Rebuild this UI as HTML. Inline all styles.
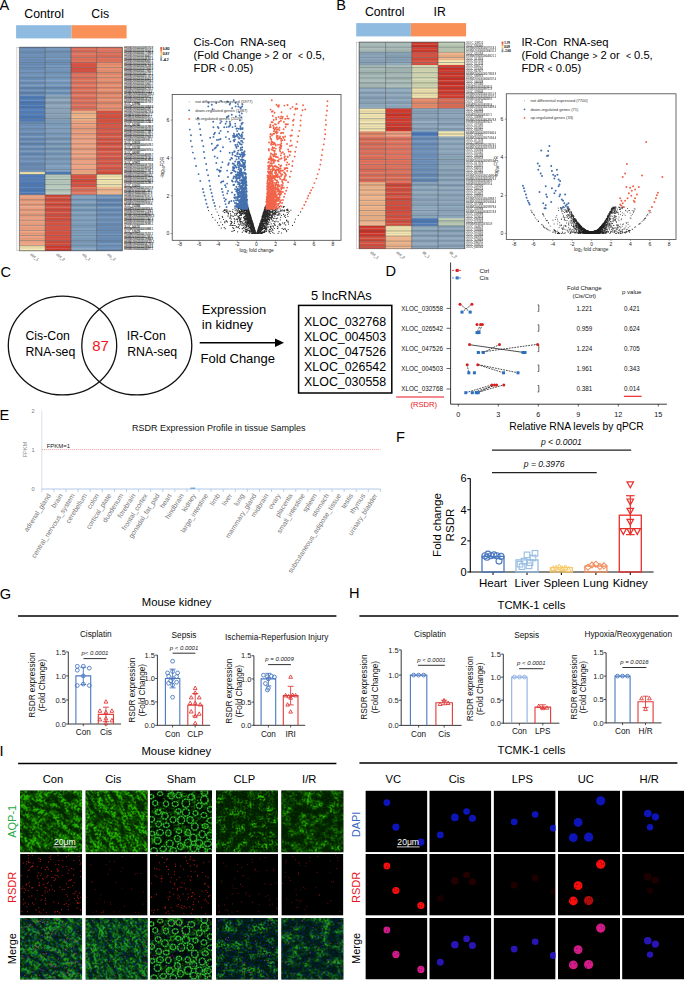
<!DOCTYPE html>
<html><head><meta charset="utf-8"><style>
html,body{margin:0;padding:0;background:#fff;}
svg{display:block;font-family:"Liberation Sans", sans-serif;}
</style></head><body>
<svg width="685" height="981" viewBox="0 0 685 981">
<rect width="685" height="981" fill="#fff"/>
<defs><clipPath id="cp1"><rect x="20.1" y="790.6" width="62.0" height="61.6"/></clipPath>
<filter id="gf0_0" x="0" y="0" width="100%" height="100%" color-interpolation-filters="sRGB">
<feTurbulence type="fractalNoise" baseFrequency="0.5" numOctaves="2" seed="3" result="hf"/>
<feTurbulence type="fractalNoise" baseFrequency="0.09 0.2" numOctaves="3" seed="20" result="lf"/>
<feColorMatrix in="lf" type="matrix" values="0 0 0 0 0  2.4 0 0 0 -0.72  0 0 0 0 0  0 0 0 0 1" result="lfg"/>
<feColorMatrix in="hf" type="matrix" values="0 0 0 0 0  3.5 0 0 0 -1.2  0 0 0 0 0  0 0 0 0 1" result="hfg"/>
<feComposite in="lfg" in2="hfg" operator="arithmetic" k1="1.1" k2="0.15" k3="0.15" k4="0" result="c"/>
<feComponentTransfer in="c" result="g0"><feFuncR type="linear" slope="0" intercept="0"/><feFuncG type="gamma" amplitude="0.6" exponent="1.3" offset="0.13"/><feFuncB type="linear" slope="0" intercept="0.0"/></feComponentTransfer>
<feColorMatrix in="g0" type="matrix" values="0 0.22 0 0 -0.02  0 1 0 0 0  0 0 0 0 0  0 0 0 0 1" result="g"/>


</filter>
<clipPath id="cp2"><rect x="20.1" y="917.9" width="62.0" height="61.6"/></clipPath>
<filter id="gf0_2" x="0" y="0" width="100%" height="100%" color-interpolation-filters="sRGB">
<feTurbulence type="fractalNoise" baseFrequency="0.5" numOctaves="2" seed="3" result="hf"/>
<feTurbulence type="fractalNoise" baseFrequency="0.09 0.2" numOctaves="3" seed="20" result="lf"/>
<feColorMatrix in="lf" type="matrix" values="0 0 0 0 0  2.4 0 0 0 -0.72  0 0 0 0 0  0 0 0 0 1" result="lfg"/>
<feColorMatrix in="hf" type="matrix" values="0 0 0 0 0  3.5 0 0 0 -1.2  0 0 0 0 0  0 0 0 0 1" result="hfg"/>
<feComposite in="lfg" in2="hfg" operator="arithmetic" k1="1.1" k2="0.15" k3="0.15" k4="0" result="c"/>
<feComponentTransfer in="c" result="g0"><feFuncR type="linear" slope="0" intercept="0"/><feFuncG type="gamma" amplitude="0.528" exponent="1.3" offset="0.10400000000000001"/><feFuncB type="linear" slope="0" intercept="0.0"/></feComponentTransfer>
<feColorMatrix in="g0" type="matrix" values="0 0.22 0 0 -0.02  0 1 0 0 0  0 0 0 0 0  0 0 0 0 1" result="g"/>
<feTurbulence type="fractalNoise" baseFrequency="0.45" numOctaves="2" seed="8" result="bn"/>
<feColorMatrix in="bn" type="matrix" values="0 0 0 0 0  0 0 0 0 0  1.02 0 0 0 -0.39  0 0 0 0 1" result="bb"/>
<feComposite in="g" in2="bb" operator="arithmetic" k2="1" k3="1"/>
</filter>
<clipPath id="cp3"><rect x="20.1" y="854.0" width="62.0" height="61.6"/></clipPath>
<clipPath id="cp4"><rect x="85.6" y="790.6" width="62.0" height="61.6"/></clipPath>
<filter id="gf1_0" x="0" y="0" width="100%" height="100%" color-interpolation-filters="sRGB">
<feTurbulence type="fractalNoise" baseFrequency="0.5" numOctaves="2" seed="11" result="hf"/>
<feTurbulence type="fractalNoise" baseFrequency="0.09 0.22" numOctaves="3" seed="28" result="lf"/>
<feColorMatrix in="lf" type="matrix" values="0 0 0 0 0  2.4 0 0 0 -0.72  0 0 0 0 0  0 0 0 0 1" result="lfg"/>
<feColorMatrix in="hf" type="matrix" values="0 0 0 0 0  3.5 0 0 0 -1.2  0 0 0 0 0  0 0 0 0 1" result="hfg"/>
<feComposite in="lfg" in2="hfg" operator="arithmetic" k1="1.1" k2="0.15" k3="0.15" k4="0" result="c"/>
<feComponentTransfer in="c" result="g0"><feFuncR type="linear" slope="0" intercept="0"/><feFuncG type="gamma" amplitude="0.62" exponent="1.3" offset="0.13"/><feFuncB type="linear" slope="0" intercept="0.0"/></feComponentTransfer>
<feColorMatrix in="g0" type="matrix" values="0 0.22 0 0 -0.02  0 1 0 0 0  0 0 0 0 0  0 0 0 0 1" result="g"/>


</filter>
<clipPath id="cp5"><rect x="85.6" y="917.9" width="62.0" height="61.6"/></clipPath>
<filter id="gf1_2" x="0" y="0" width="100%" height="100%" color-interpolation-filters="sRGB">
<feTurbulence type="fractalNoise" baseFrequency="0.5" numOctaves="2" seed="11" result="hf"/>
<feTurbulence type="fractalNoise" baseFrequency="0.09 0.22" numOctaves="3" seed="28" result="lf"/>
<feColorMatrix in="lf" type="matrix" values="0 0 0 0 0  2.4 0 0 0 -0.72  0 0 0 0 0  0 0 0 0 1" result="lfg"/>
<feColorMatrix in="hf" type="matrix" values="0 0 0 0 0  3.5 0 0 0 -1.2  0 0 0 0 0  0 0 0 0 1" result="hfg"/>
<feComposite in="lfg" in2="hfg" operator="arithmetic" k1="1.1" k2="0.15" k3="0.15" k4="0" result="c"/>
<feComponentTransfer in="c" result="g0"><feFuncR type="linear" slope="0" intercept="0"/><feFuncG type="gamma" amplitude="0.5456" exponent="1.3" offset="0.10400000000000001"/><feFuncB type="linear" slope="0" intercept="0.0"/></feComponentTransfer>
<feColorMatrix in="g0" type="matrix" values="0 0.22 0 0 -0.02  0 1 0 0 0  0 0 0 0 0  0 0 0 0 1" result="g"/>
<feTurbulence type="fractalNoise" baseFrequency="0.45" numOctaves="2" seed="16" result="bn"/>
<feColorMatrix in="bn" type="matrix" values="0 0 0 0 0  0 0 0 0 0  0.90 0 0 0 -0.34  0 0 0 0 1" result="bb"/>
<feComposite in="g" in2="bb" operator="arithmetic" k2="1" k3="1"/>
</filter>
<clipPath id="cp6"><rect x="85.6" y="854.0" width="62.0" height="61.6"/></clipPath>
<clipPath id="cp7"><rect x="150.0" y="790.6" width="62.0" height="61.6"/></clipPath>
<filter id="gf2_0" x="0" y="0" width="100%" height="100%" color-interpolation-filters="sRGB">
<feTurbulence type="fractalNoise" baseFrequency="0.5" numOctaves="2" seed="40" result="hf"/>
<feTurbulence type="fractalNoise" baseFrequency="0.12 0.12" numOctaves="3" seed="57" result="lf"/>
<feColorMatrix in="lf" type="matrix" values="0 0 0 0 0  2.2 0 0 0 -0.85  0 0 0 0 0  0 0 0 0 1" result="lfg"/>
<feColorMatrix in="hf" type="matrix" values="0 0 0 0 0  3.5 0 0 0 -1.2  0 0 0 0 0  0 0 0 0 1" result="hfg"/>
<feComposite in="lfg" in2="hfg" operator="arithmetic" k1="1.1" k2="0.15" k3="0.15" k4="0" result="c"/>
<feComponentTransfer in="c" result="g0"><feFuncR type="linear" slope="0" intercept="0"/><feFuncG type="gamma" amplitude="0.5" exponent="1.3" offset="0.03"/><feFuncB type="linear" slope="0" intercept="0.0"/></feComponentTransfer>
<feColorMatrix in="g0" type="matrix" values="0 0.22 0 0 -0.02  0 1 0 0 0  0 0 0 0 0  0 0 0 0 1" result="g"/>


</filter>
<clipPath id="cp8"><rect x="150.0" y="917.9" width="62.0" height="61.6"/></clipPath>
<filter id="gf2_2" x="0" y="0" width="100%" height="100%" color-interpolation-filters="sRGB">
<feTurbulence type="fractalNoise" baseFrequency="0.5" numOctaves="2" seed="42" result="hf"/>
<feTurbulence type="fractalNoise" baseFrequency="0.12 0.12" numOctaves="3" seed="59" result="lf"/>
<feColorMatrix in="lf" type="matrix" values="0 0 0 0 0  2.2 0 0 0 -0.85  0 0 0 0 0  0 0 0 0 1" result="lfg"/>
<feColorMatrix in="hf" type="matrix" values="0 0 0 0 0  3.5 0 0 0 -1.2  0 0 0 0 0  0 0 0 0 1" result="hfg"/>
<feComposite in="lfg" in2="hfg" operator="arithmetic" k1="1.1" k2="0.15" k3="0.15" k4="0" result="c"/>
<feComponentTransfer in="c" result="g0"><feFuncR type="linear" slope="0" intercept="0"/><feFuncG type="gamma" amplitude="0.5" exponent="1.3" offset="0.03"/><feFuncB type="linear" slope="0" intercept="0.0"/></feComponentTransfer>
<feColorMatrix in="g0" type="matrix" values="0 0.22 0 0 -0.02  0 1 0 0 0  0 0 0 0 0  0 0 0 0 1" result="g"/>
<feTurbulence type="fractalNoise" baseFrequency="0.3" numOctaves="2" seed="77" result="bn"/>
<feColorMatrix in="bn" type="matrix" values="0 0 0 0 0  0 0 0 0 0  0.45 0 0 0 -0.17  0 0 0 0 1" result="bb"/>
<feComposite in="g" in2="bb" operator="arithmetic" k2="1" k3="1"/>
</filter>
<clipPath id="cp9"><rect x="150.0" y="854.0" width="62.0" height="61.6"/></clipPath>
<clipPath id="cp10"><rect x="216.0" y="790.6" width="62.0" height="61.6"/></clipPath>
<filter id="gf3_0" x="0" y="0" width="100%" height="100%" color-interpolation-filters="sRGB">
<feTurbulence type="fractalNoise" baseFrequency="0.5" numOctaves="2" seed="23" result="hf"/>
<feTurbulence type="fractalNoise" baseFrequency="0.12 0.12" numOctaves="3" seed="40" result="lf"/>
<feColorMatrix in="lf" type="matrix" values="0 0 0 0 0  2.2 0 0 0 -0.9  0 0 0 0 0  0 0 0 0 1" result="lfg"/>
<feColorMatrix in="hf" type="matrix" values="0 0 0 0 0  3.5 0 0 0 -1.2  0 0 0 0 0  0 0 0 0 1" result="hfg"/>
<feComposite in="lfg" in2="hfg" operator="arithmetic" k1="1.1" k2="0.15" k3="0.15" k4="0" result="c"/>
<feComponentTransfer in="c" result="g0"><feFuncR type="linear" slope="0" intercept="0"/><feFuncG type="gamma" amplitude="0.6" exponent="1.3" offset="0.11"/><feFuncB type="linear" slope="0" intercept="0.0"/></feComponentTransfer>
<feColorMatrix in="g0" type="matrix" values="0 0.22 0 0 -0.02  0 1 0 0 0  0 0 0 0 0  0 0 0 0 1" result="g"/>


</filter>
<clipPath id="cp11"><rect x="216.0" y="917.9" width="62.0" height="61.6"/></clipPath>
<filter id="gf3_2" x="0" y="0" width="100%" height="100%" color-interpolation-filters="sRGB">
<feTurbulence type="fractalNoise" baseFrequency="0.5" numOctaves="2" seed="23" result="hf"/>
<feTurbulence type="fractalNoise" baseFrequency="0.12 0.12" numOctaves="3" seed="40" result="lf"/>
<feColorMatrix in="lf" type="matrix" values="0 0 0 0 0  2.2 0 0 0 -0.9  0 0 0 0 0  0 0 0 0 1" result="lfg"/>
<feColorMatrix in="hf" type="matrix" values="0 0 0 0 0  3.5 0 0 0 -1.2  0 0 0 0 0  0 0 0 0 1" result="hfg"/>
<feComposite in="lfg" in2="hfg" operator="arithmetic" k1="1.1" k2="0.15" k3="0.15" k4="0" result="c"/>
<feComponentTransfer in="c" result="g0"><feFuncR type="linear" slope="0" intercept="0"/><feFuncG type="gamma" amplitude="0.528" exponent="1.3" offset="0.08800000000000001"/><feFuncB type="linear" slope="0" intercept="0.0"/></feComponentTransfer>
<feColorMatrix in="g0" type="matrix" values="0 0.22 0 0 -0.02  0 1 0 0 0  0 0 0 0 0  0 0 0 0 1" result="g"/>
<feTurbulence type="fractalNoise" baseFrequency="0.45" numOctaves="2" seed="28" result="bn"/>
<feColorMatrix in="bn" type="matrix" values="0 0 0 0 0  0 0 0 0 0  0.90 0 0 0 -0.34  0 0 0 0 1" result="bb"/>
<feComposite in="g" in2="bb" operator="arithmetic" k2="1" k3="1"/>
</filter>
<clipPath id="cp12"><rect x="216.0" y="854.0" width="62.0" height="61.6"/></clipPath>
<clipPath id="cp13"><rect x="281.4" y="790.6" width="62.0" height="61.6"/></clipPath>
<filter id="gf4_0" x="0" y="0" width="100%" height="100%" color-interpolation-filters="sRGB">
<feTurbulence type="fractalNoise" baseFrequency="0.5" numOctaves="2" seed="31" result="hf"/>
<feTurbulence type="fractalNoise" baseFrequency="0.11 0.13" numOctaves="3" seed="48" result="lf"/>
<feColorMatrix in="lf" type="matrix" values="0 0 0 0 0  2.2 0 0 0 -0.85  0 0 0 0 0  0 0 0 0 1" result="lfg"/>
<feColorMatrix in="hf" type="matrix" values="0 0 0 0 0  3.5 0 0 0 -1.2  0 0 0 0 0  0 0 0 0 1" result="hfg"/>
<feComposite in="lfg" in2="hfg" operator="arithmetic" k1="1.1" k2="0.15" k3="0.15" k4="0" result="c"/>
<feComponentTransfer in="c" result="g0"><feFuncR type="linear" slope="0" intercept="0"/><feFuncG type="gamma" amplitude="0.6" exponent="1.3" offset="0.11"/><feFuncB type="linear" slope="0" intercept="0.0"/></feComponentTransfer>
<feColorMatrix in="g0" type="matrix" values="0 0.22 0 0 -0.02  0 1 0 0 0  0 0 0 0 0  0 0 0 0 1" result="g"/>


</filter>
<clipPath id="cp14"><rect x="281.4" y="917.9" width="62.0" height="61.6"/></clipPath>
<filter id="gf4_2" x="0" y="0" width="100%" height="100%" color-interpolation-filters="sRGB">
<feTurbulence type="fractalNoise" baseFrequency="0.5" numOctaves="2" seed="31" result="hf"/>
<feTurbulence type="fractalNoise" baseFrequency="0.11 0.13" numOctaves="3" seed="48" result="lf"/>
<feColorMatrix in="lf" type="matrix" values="0 0 0 0 0  2.2 0 0 0 -0.85  0 0 0 0 0  0 0 0 0 1" result="lfg"/>
<feColorMatrix in="hf" type="matrix" values="0 0 0 0 0  3.5 0 0 0 -1.2  0 0 0 0 0  0 0 0 0 1" result="hfg"/>
<feComposite in="lfg" in2="hfg" operator="arithmetic" k1="1.1" k2="0.15" k3="0.15" k4="0" result="c"/>
<feComponentTransfer in="c" result="g0"><feFuncR type="linear" slope="0" intercept="0"/><feFuncG type="gamma" amplitude="0.528" exponent="1.3" offset="0.08800000000000001"/><feFuncB type="linear" slope="0" intercept="0.0"/></feComponentTransfer>
<feColorMatrix in="g0" type="matrix" values="0 0.22 0 0 -0.02  0 1 0 0 0  0 0 0 0 0  0 0 0 0 1" result="g"/>
<feTurbulence type="fractalNoise" baseFrequency="0.45" numOctaves="2" seed="36" result="bn"/>
<feColorMatrix in="bn" type="matrix" values="0 0 0 0 0  0 0 0 0 0  0.90 0 0 0 -0.34  0 0 0 0 1" result="bb"/>
<feComposite in="g" in2="bb" operator="arithmetic" k2="1" k3="1"/>
</filter>
<clipPath id="cp15"><rect x="281.4" y="854.0" width="62.0" height="61.6"/></clipPath>
<clipPath id="cp16"><rect x="365.4" y="790.6" width="62.0" height="61.6"/></clipPath>
<clipPath id="cp17"><rect x="365.4" y="854.0" width="62.0" height="61.6"/></clipPath>
<clipPath id="cp18"><rect x="365.4" y="917.9" width="62.0" height="61.6"/></clipPath>
<clipPath id="cp19"><rect x="429.3" y="790.6" width="62.0" height="61.6"/></clipPath>
<clipPath id="cp20"><rect x="429.3" y="854.0" width="62.0" height="61.6"/></clipPath>
<clipPath id="cp21"><rect x="429.3" y="917.9" width="62.0" height="61.6"/></clipPath>
<clipPath id="cp22"><rect x="493.6" y="790.6" width="62.0" height="61.6"/></clipPath>
<clipPath id="cp23"><rect x="493.6" y="854.0" width="62.0" height="61.6"/></clipPath>
<clipPath id="cp24"><rect x="493.6" y="917.9" width="62.0" height="61.6"/></clipPath>
<clipPath id="cp25"><rect x="558.0" y="790.6" width="62.0" height="61.6"/></clipPath>
<clipPath id="cp26"><rect x="558.0" y="854.0" width="62.0" height="61.6"/></clipPath>
<clipPath id="cp27"><rect x="558.0" y="917.9" width="62.0" height="61.6"/></clipPath>
<clipPath id="cp28"><rect x="622.1" y="790.6" width="62.0" height="61.6"/></clipPath>
<clipPath id="cp29"><rect x="622.1" y="854.0" width="62.0" height="61.6"/></clipPath>
<clipPath id="cp30"><rect x="622.1" y="917.9" width="62.0" height="61.6"/></clipPath>
<filter id="soft" x="-50%" y="-50%" width="200%" height="200%"><feGaussianBlur stdDeviation="0.4"/></filter>
<filter id="soft2" x="-50%" y="-50%" width="200%" height="200%"><feGaussianBlur stdDeviation="0.75"/></filter></defs>
<text x="-0.40" y="10.00" font-size="14.6" text-anchor="start" fill="#000" >A</text>
<text x="336.30" y="10.00" font-size="14.6" text-anchor="start" fill="#000" >B</text>
<text x="0.60" y="276.90" font-size="14.6" text-anchor="start" fill="#000" >C</text>
<text x="385.40" y="276.40" font-size="14.6" text-anchor="start" fill="#000" >D</text>
<text x="-0.60" y="420.30" font-size="14.6" text-anchor="start" fill="#000" >E</text>
<text x="396.00" y="442.20" font-size="14.6" text-anchor="start" fill="#000" >F</text>
<text x="-0.30" y="598.50" font-size="14.6" text-anchor="start" fill="#000" >G</text>
<text x="348.90" y="598.30" font-size="14.6" text-anchor="start" fill="#000" >H</text>
<text x="-0.40" y="756.10" font-size="14.6" text-anchor="start" fill="#000" >I</text>
<text x="24.30" y="17.80" font-size="12.3" text-anchor="start" fill="#000" >Control</text>
<text x="91.30" y="17.80" font-size="12.3" text-anchor="start" fill="#000" >Cis</text>
<rect x="16.10" y="25.20" width="55.50" height="13.20" fill="#8fbbe0" />
<rect x="71.60" y="25.20" width="55.00" height="13.20" fill="#f99058" />
<rect x="19.40" y="47.20" width="25.85" height="2.60" fill="#678bb5" />
<rect x="45.20" y="47.20" width="25.85" height="2.60" fill="#7498be" />
<rect x="71.00" y="47.20" width="25.65" height="2.60" fill="#de6e58" />
<rect x="96.60" y="47.20" width="25.75" height="2.60" fill="#e1715b" />
<rect x="19.40" y="49.75" width="25.85" height="2.60" fill="#6d91bb" />
<rect x="45.20" y="49.75" width="25.85" height="2.60" fill="#6d91b7" />
<rect x="71.00" y="49.75" width="25.65" height="2.60" fill="#d96953" />
<rect x="96.60" y="49.75" width="25.75" height="2.60" fill="#e5755f" />
<rect x="19.40" y="52.29" width="25.85" height="2.60" fill="#688cb6" />
<rect x="45.20" y="52.29" width="25.85" height="2.60" fill="#6f93b9" />
<rect x="71.00" y="52.29" width="25.65" height="2.60" fill="#e77761" />
<rect x="96.60" y="52.29" width="25.75" height="2.60" fill="#e0705a" />
<rect x="19.40" y="54.84" width="25.85" height="2.60" fill="#7094be" />
<rect x="45.20" y="54.84" width="25.85" height="2.60" fill="#7397bd" />
<rect x="71.00" y="54.84" width="25.65" height="2.60" fill="#e2725c" />
<rect x="96.60" y="54.84" width="25.75" height="2.60" fill="#db6b55" />
<rect x="19.40" y="57.38" width="25.85" height="2.60" fill="#6d91bb" />
<rect x="45.20" y="57.38" width="25.85" height="2.60" fill="#789cc2" />
<rect x="71.00" y="57.38" width="25.65" height="2.60" fill="#e0705a" />
<rect x="96.60" y="57.38" width="25.75" height="2.60" fill="#e3735d" />
<rect x="19.40" y="59.93" width="25.85" height="2.60" fill="#6d91bb" />
<rect x="45.20" y="59.93" width="25.85" height="2.60" fill="#6d91b7" />
<rect x="71.00" y="59.93" width="25.65" height="2.60" fill="#e4745e" />
<rect x="96.60" y="59.93" width="25.75" height="2.60" fill="#e1715b" />
<rect x="19.40" y="62.47" width="25.85" height="2.60" fill="#688cb6" />
<rect x="45.20" y="62.47" width="25.85" height="2.60" fill="#6c90b6" />
<rect x="71.00" y="62.47" width="25.65" height="2.60" fill="#dd5544" />
<rect x="96.60" y="62.47" width="25.75" height="2.60" fill="#e98d6c" />
<rect x="19.40" y="65.02" width="25.85" height="2.60" fill="#6e92bc" />
<rect x="45.20" y="65.02" width="25.85" height="2.60" fill="#789cc2" />
<rect x="71.00" y="65.02" width="25.65" height="2.60" fill="#db5342" />
<rect x="96.60" y="65.02" width="25.75" height="2.60" fill="#ef9372" />
<rect x="19.40" y="67.56" width="25.85" height="2.60" fill="#6a8eb8" />
<rect x="45.20" y="67.56" width="25.85" height="2.60" fill="#779bc1" />
<rect x="71.00" y="67.56" width="25.65" height="2.60" fill="#d74f3e" />
<rect x="96.60" y="67.56" width="25.75" height="2.60" fill="#ef9372" />
<rect x="19.40" y="70.11" width="25.85" height="2.60" fill="#7094be" />
<rect x="45.20" y="70.11" width="25.85" height="2.60" fill="#6d91b7" />
<rect x="71.00" y="70.11" width="25.65" height="2.60" fill="#d34b3a" />
<rect x="96.60" y="70.11" width="25.75" height="2.60" fill="#e58968" />
<rect x="19.40" y="72.65" width="25.85" height="2.60" fill="#7296c0" />
<rect x="45.20" y="72.65" width="25.85" height="2.60" fill="#7296bc" />
<rect x="71.00" y="72.65" width="25.65" height="2.60" fill="#e2725c" />
<rect x="96.60" y="72.65" width="25.75" height="2.60" fill="#e68a69" />
<rect x="19.40" y="75.20" width="25.85" height="2.60" fill="#6b8fb9" />
<rect x="45.20" y="75.20" width="25.85" height="2.60" fill="#7195bb" />
<rect x="71.00" y="75.20" width="25.65" height="2.60" fill="#de6e58" />
<rect x="96.60" y="75.20" width="25.75" height="2.60" fill="#ea8e6d" />
<rect x="19.40" y="77.74" width="25.85" height="2.60" fill="#6c90ba" />
<rect x="45.20" y="77.74" width="25.85" height="2.60" fill="#799dc3" />
<rect x="71.00" y="77.74" width="25.65" height="2.60" fill="#e3735d" />
<rect x="96.60" y="77.74" width="25.75" height="2.60" fill="#ef9372" />
<rect x="19.40" y="80.29" width="25.85" height="2.60" fill="#7094be" />
<rect x="45.20" y="80.29" width="25.85" height="2.60" fill="#7a9ec4" />
<rect x="71.00" y="80.29" width="25.65" height="2.60" fill="#e2725c" />
<rect x="96.60" y="80.29" width="25.75" height="2.60" fill="#e48867" />
<rect x="19.40" y="82.83" width="25.85" height="2.60" fill="#7094be" />
<rect x="45.20" y="82.83" width="25.85" height="2.60" fill="#7a9ec4" />
<rect x="71.00" y="82.83" width="25.65" height="2.60" fill="#e67660" />
<rect x="96.60" y="82.83" width="25.75" height="2.60" fill="#ea8e6d" />
<rect x="19.40" y="85.38" width="25.85" height="2.60" fill="#6e92bc" />
<rect x="45.20" y="85.38" width="25.85" height="2.60" fill="#6f93b9" />
<rect x="71.00" y="85.38" width="25.65" height="2.60" fill="#e5755f" />
<rect x="96.60" y="85.38" width="25.75" height="2.60" fill="#ea8e6d" />
<rect x="19.40" y="87.92" width="25.85" height="2.60" fill="#688cb6" />
<rect x="45.20" y="87.92" width="25.85" height="2.60" fill="#6d91b7" />
<rect x="71.00" y="87.92" width="25.65" height="2.60" fill="#e5755f" />
<rect x="96.60" y="87.92" width="25.75" height="2.60" fill="#f09473" />
<rect x="19.40" y="90.47" width="25.85" height="2.60" fill="#6589b3" />
<rect x="45.20" y="90.47" width="25.85" height="2.60" fill="#779bc1" />
<rect x="71.00" y="90.47" width="25.65" height="2.60" fill="#df6f59" />
<rect x="96.60" y="90.47" width="25.75" height="2.60" fill="#e48867" />
<rect x="19.40" y="93.01" width="25.85" height="2.60" fill="#688cb6" />
<rect x="45.20" y="93.01" width="25.85" height="2.60" fill="#779bc1" />
<rect x="71.00" y="93.01" width="25.65" height="2.60" fill="#e5755f" />
<rect x="96.60" y="93.01" width="25.75" height="2.60" fill="#e38766" />
<rect x="19.40" y="95.56" width="25.85" height="2.60" fill="#517ebb" />
<rect x="45.20" y="95.56" width="25.85" height="2.60" fill="#86a0b5" />
<rect x="71.00" y="95.56" width="25.65" height="2.60" fill="#e3735d" />
<rect x="96.60" y="95.56" width="25.75" height="2.60" fill="#e78b6a" />
<rect x="19.40" y="98.10" width="25.85" height="2.60" fill="#5481be" />
<rect x="45.20" y="98.10" width="25.85" height="2.60" fill="#93adc2" />
<rect x="71.00" y="98.10" width="25.65" height="2.60" fill="#e0705a" />
<rect x="96.60" y="98.10" width="25.75" height="2.60" fill="#f09473" />
<rect x="19.40" y="100.65" width="25.85" height="2.60" fill="#4c79b6" />
<rect x="45.20" y="100.65" width="25.85" height="2.60" fill="#86a0b5" />
<rect x="71.00" y="100.65" width="25.65" height="2.60" fill="#e1715b" />
<rect x="96.60" y="100.65" width="25.75" height="2.60" fill="#e28665" />
<rect x="19.40" y="103.19" width="25.85" height="2.60" fill="#4b78b5" />
<rect x="45.20" y="103.19" width="25.85" height="2.60" fill="#8ba5ba" />
<rect x="71.00" y="103.19" width="25.65" height="2.60" fill="#e2725c" />
<rect x="96.60" y="103.19" width="25.75" height="2.60" fill="#e48867" />
<rect x="19.40" y="105.74" width="25.85" height="2.60" fill="#4976b3" />
<rect x="45.20" y="105.74" width="25.85" height="2.60" fill="#91abc0" />
<rect x="71.00" y="105.74" width="25.65" height="2.60" fill="#dd6d57" />
<rect x="96.60" y="105.74" width="25.75" height="2.60" fill="#ef9372" />
<rect x="19.40" y="108.28" width="25.85" height="2.60" fill="#5582bf" />
<rect x="45.20" y="108.28" width="25.85" height="2.60" fill="#8aa4b9" />
<rect x="71.00" y="108.28" width="25.65" height="2.60" fill="#df6f59" />
<rect x="96.60" y="108.28" width="25.75" height="2.60" fill="#e98d6c" />
<rect x="19.40" y="110.83" width="25.85" height="2.60" fill="#517ebb" />
<rect x="45.20" y="110.83" width="25.85" height="2.60" fill="#8da7bc" />
<rect x="71.00" y="110.83" width="25.65" height="2.60" fill="#f0b388" />
<rect x="96.60" y="110.83" width="25.75" height="2.60" fill="#da5241" />
<rect x="19.40" y="113.37" width="25.85" height="2.60" fill="#5582bf" />
<rect x="45.20" y="113.37" width="25.85" height="2.60" fill="#8ca6bb" />
<rect x="71.00" y="113.37" width="25.65" height="2.60" fill="#eeb186" />
<rect x="96.60" y="113.37" width="25.75" height="2.60" fill="#db5342" />
<rect x="19.40" y="115.92" width="25.85" height="2.60" fill="#4b78b5" />
<rect x="45.20" y="115.92" width="25.85" height="2.60" fill="#89a3b8" />
<rect x="71.00" y="115.92" width="25.65" height="2.60" fill="#f6b98e" />
<rect x="96.60" y="115.92" width="25.75" height="2.60" fill="#d8503f" />
<rect x="19.40" y="118.46" width="25.85" height="2.60" fill="#507dba" />
<rect x="45.20" y="118.46" width="25.85" height="2.60" fill="#859fb4" />
<rect x="71.00" y="118.46" width="25.65" height="2.60" fill="#eeb186" />
<rect x="96.60" y="118.46" width="25.75" height="2.60" fill="#d95140" />
<rect x="19.40" y="121.01" width="25.85" height="2.60" fill="#6488b2" />
<rect x="45.20" y="121.01" width="25.85" height="2.60" fill="#7f9fbf" />
<rect x="71.00" y="121.01" width="25.65" height="2.60" fill="#f0a281" />
<rect x="96.60" y="121.01" width="25.75" height="2.60" fill="#d65442" />
<rect x="19.40" y="123.55" width="25.85" height="2.60" fill="#6d91bb" />
<rect x="45.20" y="123.55" width="25.85" height="2.60" fill="#7d9dbd" />
<rect x="71.00" y="123.55" width="25.65" height="2.60" fill="#f1a382" />
<rect x="96.60" y="123.55" width="25.75" height="2.60" fill="#da5846" />
<rect x="19.40" y="126.10" width="25.85" height="2.60" fill="#6e92bc" />
<rect x="45.20" y="126.10" width="25.85" height="2.60" fill="#80a0c0" />
<rect x="71.00" y="126.10" width="25.65" height="2.60" fill="#e79978" />
<rect x="96.60" y="126.10" width="25.75" height="2.60" fill="#d65442" />
<rect x="19.40" y="128.64" width="25.85" height="2.60" fill="#6d91bb" />
<rect x="45.20" y="128.64" width="25.85" height="2.60" fill="#83a3c3" />
<rect x="71.00" y="128.64" width="25.65" height="2.60" fill="#eb9d7c" />
<rect x="96.60" y="128.64" width="25.75" height="2.60" fill="#db5947" />
<rect x="19.40" y="131.19" width="25.85" height="2.60" fill="#6c90ba" />
<rect x="45.20" y="131.19" width="25.85" height="2.60" fill="#7a9aba" />
<rect x="71.00" y="131.19" width="25.65" height="2.60" fill="#ec9e7d" />
<rect x="96.60" y="131.19" width="25.75" height="2.60" fill="#d95745" />
<rect x="19.40" y="133.73" width="25.85" height="2.60" fill="#698db7" />
<rect x="45.20" y="133.73" width="25.85" height="2.60" fill="#7e9ebe" />
<rect x="71.00" y="133.73" width="25.65" height="2.60" fill="#eb9d7c" />
<rect x="96.60" y="133.73" width="25.75" height="2.60" fill="#da5846" />
<rect x="19.40" y="136.28" width="25.85" height="2.60" fill="#6f93bd" />
<rect x="45.20" y="136.28" width="25.85" height="2.60" fill="#7696b6" />
<rect x="71.00" y="136.28" width="25.65" height="2.60" fill="#efa180" />
<rect x="96.60" y="136.28" width="25.75" height="2.60" fill="#df5d4b" />
<rect x="19.40" y="138.82" width="25.85" height="2.60" fill="#688cb6" />
<rect x="45.20" y="138.82" width="25.85" height="2.60" fill="#7999b9" />
<rect x="71.00" y="138.82" width="25.65" height="2.60" fill="#f2a483" />
<rect x="96.60" y="138.82" width="25.75" height="2.60" fill="#d85644" />
<rect x="19.40" y="141.37" width="25.85" height="2.60" fill="#678bb5" />
<rect x="45.20" y="141.37" width="25.85" height="2.60" fill="#7c9cbc" />
<rect x="71.00" y="141.37" width="25.65" height="2.60" fill="#f1a382" />
<rect x="96.60" y="141.37" width="25.75" height="2.60" fill="#d65442" />
<rect x="19.40" y="143.91" width="25.85" height="2.60" fill="#698db7" />
<rect x="45.20" y="143.91" width="25.85" height="2.60" fill="#7b9bbb" />
<rect x="71.00" y="143.91" width="25.65" height="2.60" fill="#f3a584" />
<rect x="96.60" y="143.91" width="25.75" height="2.60" fill="#db5947" />
<rect x="19.40" y="146.46" width="25.85" height="2.60" fill="#7094be" />
<rect x="45.20" y="146.46" width="25.85" height="2.60" fill="#7898b8" />
<rect x="71.00" y="146.46" width="25.65" height="2.60" fill="#ec9e7d" />
<rect x="96.60" y="146.46" width="25.75" height="2.60" fill="#de5c4a" />
<rect x="19.40" y="149.00" width="25.85" height="2.60" fill="#7094be" />
<rect x="45.20" y="149.00" width="25.85" height="2.60" fill="#7c9cbc" />
<rect x="71.00" y="149.00" width="25.65" height="2.60" fill="#ea9c7b" />
<rect x="96.60" y="149.00" width="25.75" height="2.60" fill="#d75543" />
<rect x="19.40" y="151.55" width="25.85" height="2.60" fill="#6b8fb9" />
<rect x="45.20" y="151.55" width="25.85" height="2.60" fill="#7999b9" />
<rect x="71.00" y="151.55" width="25.65" height="2.60" fill="#f2a483" />
<rect x="96.60" y="151.55" width="25.75" height="2.60" fill="#e15f4d" />
<rect x="19.40" y="154.09" width="25.85" height="2.60" fill="#678bb5" />
<rect x="45.20" y="154.09" width="25.85" height="2.60" fill="#7a9aba" />
<rect x="71.00" y="154.09" width="25.65" height="2.60" fill="#f2a483" />
<rect x="96.60" y="154.09" width="25.75" height="2.60" fill="#de5c4a" />
<rect x="19.40" y="156.64" width="25.85" height="2.60" fill="#6f93bd" />
<rect x="45.20" y="156.64" width="25.85" height="2.60" fill="#7b9bbb" />
<rect x="71.00" y="156.64" width="25.65" height="2.60" fill="#e99b7a" />
<rect x="96.60" y="156.64" width="25.75" height="2.60" fill="#d95745" />
<rect x="19.40" y="159.18" width="25.85" height="2.60" fill="#6f93bd" />
<rect x="45.20" y="159.18" width="25.85" height="2.60" fill="#7a9aba" />
<rect x="71.00" y="159.18" width="25.65" height="2.60" fill="#ec9e7d" />
<rect x="96.60" y="159.18" width="25.75" height="2.60" fill="#db5947" />
<rect x="19.40" y="161.73" width="25.85" height="2.60" fill="#6a8eb8" />
<rect x="45.20" y="161.73" width="25.85" height="2.60" fill="#7c9cbc" />
<rect x="71.00" y="161.73" width="25.65" height="2.60" fill="#f4a685" />
<rect x="96.60" y="161.73" width="25.75" height="2.60" fill="#d75543" />
<rect x="19.40" y="164.27" width="25.85" height="2.60" fill="#6488b2" />
<rect x="45.20" y="164.27" width="25.85" height="2.60" fill="#83a3c3" />
<rect x="71.00" y="164.27" width="25.65" height="2.60" fill="#f3a584" />
<rect x="96.60" y="164.27" width="25.75" height="2.60" fill="#e3614f" />
<rect x="19.40" y="166.82" width="25.85" height="2.60" fill="#6a8eb8" />
<rect x="45.20" y="166.82" width="25.85" height="2.60" fill="#83a3c3" />
<rect x="71.00" y="166.82" width="25.65" height="2.60" fill="#f4a685" />
<rect x="96.60" y="166.82" width="25.75" height="2.60" fill="#d85644" />
<rect x="19.40" y="169.36" width="25.85" height="2.60" fill="#6e92bc" />
<rect x="45.20" y="169.36" width="25.85" height="2.60" fill="#82a2c2" />
<rect x="71.00" y="169.36" width="25.65" height="2.60" fill="#f0a281" />
<rect x="96.60" y="169.36" width="25.75" height="2.60" fill="#dc5a48" />
<rect x="19.40" y="171.91" width="25.85" height="2.60" fill="#eee0aa" />
<rect x="45.20" y="171.91" width="25.85" height="2.60" fill="#4d7ab7" />
<rect x="71.00" y="171.91" width="25.65" height="2.60" fill="#ebae83" />
<rect x="96.60" y="171.91" width="25.75" height="2.60" fill="#d24a39" />
<rect x="19.40" y="174.45" width="25.85" height="2.60" fill="#507dba" />
<rect x="45.20" y="174.45" width="25.85" height="2.60" fill="#b4c7ba" />
<rect x="71.00" y="174.45" width="25.65" height="2.60" fill="#dc5443" />
<rect x="96.60" y="174.45" width="25.75" height="2.60" fill="#ebdda7" />
<rect x="19.40" y="177.00" width="25.85" height="2.60" fill="#5582bf" />
<rect x="45.20" y="177.00" width="25.85" height="2.60" fill="#bacdc0" />
<rect x="71.00" y="177.00" width="25.65" height="2.60" fill="#de5645" />
<rect x="96.60" y="177.00" width="25.75" height="2.60" fill="#f7e9b3" />
<rect x="19.40" y="179.54" width="25.85" height="2.60" fill="#5582bf" />
<rect x="45.20" y="179.54" width="25.85" height="2.60" fill="#b8cbbe" />
<rect x="71.00" y="179.54" width="25.65" height="2.60" fill="#d14938" />
<rect x="96.60" y="179.54" width="25.75" height="2.60" fill="#f4e6b0" />
<rect x="19.40" y="182.09" width="25.85" height="2.60" fill="#4a77b4" />
<rect x="45.20" y="182.09" width="25.85" height="2.60" fill="#b4c7ba" />
<rect x="71.00" y="182.09" width="25.65" height="2.60" fill="#da5241" />
<rect x="96.60" y="182.09" width="25.75" height="2.60" fill="#f1e3ad" />
<rect x="19.40" y="184.63" width="25.85" height="2.60" fill="#4e7bb8" />
<rect x="45.20" y="184.63" width="25.85" height="2.60" fill="#bdd0c3" />
<rect x="71.00" y="184.63" width="25.65" height="2.60" fill="#da5241" />
<rect x="96.60" y="184.63" width="25.75" height="2.60" fill="#efe1ab" />
<rect x="19.40" y="187.18" width="25.85" height="2.60" fill="#4c79b6" />
<rect x="45.20" y="187.18" width="25.85" height="2.60" fill="#bccfc2" />
<rect x="71.00" y="187.18" width="25.65" height="2.60" fill="#e0705a" />
<rect x="96.60" y="187.18" width="25.75" height="2.60" fill="#f3b68b" />
<rect x="19.40" y="189.72" width="25.85" height="2.60" fill="#4d7ab7" />
<rect x="45.20" y="189.72" width="25.85" height="2.60" fill="#b3c6b9" />
<rect x="71.00" y="189.72" width="25.65" height="2.60" fill="#e0705a" />
<rect x="96.60" y="189.72" width="25.75" height="2.60" fill="#f3b68b" />
<rect x="19.40" y="192.27" width="25.85" height="2.60" fill="#4a77b4" />
<rect x="45.20" y="192.27" width="25.85" height="2.60" fill="#bbcec1" />
<rect x="71.00" y="192.27" width="25.65" height="2.60" fill="#e67660" />
<rect x="96.60" y="192.27" width="25.75" height="2.60" fill="#f3b68b" />
<rect x="19.40" y="194.81" width="25.85" height="2.60" fill="#f3a584" />
<rect x="45.20" y="194.81" width="25.85" height="2.60" fill="#d14938" />
<rect x="71.00" y="194.81" width="25.65" height="2.60" fill="#81a2c0" />
<rect x="96.60" y="194.81" width="25.75" height="2.60" fill="#7094be" />
<rect x="19.40" y="197.36" width="25.85" height="2.60" fill="#e89a79" />
<rect x="45.20" y="197.36" width="25.85" height="2.60" fill="#d54d3c" />
<rect x="71.00" y="197.36" width="25.65" height="2.60" fill="#7c9dbb" />
<rect x="96.60" y="197.36" width="25.75" height="2.60" fill="#6b8fb9" />
<rect x="19.40" y="199.90" width="25.85" height="2.60" fill="#ed9f7e" />
<rect x="45.20" y="199.90" width="25.85" height="2.60" fill="#d8503f" />
<rect x="71.00" y="199.90" width="25.65" height="2.60" fill="#83a4c2" />
<rect x="96.60" y="199.90" width="25.75" height="2.60" fill="#6488b2" />
<rect x="19.40" y="202.45" width="25.85" height="2.60" fill="#e89a79" />
<rect x="45.20" y="202.45" width="25.85" height="2.60" fill="#d34b3a" />
<rect x="71.00" y="202.45" width="25.65" height="2.60" fill="#7a9bb9" />
<rect x="96.60" y="202.45" width="25.75" height="2.60" fill="#6589b3" />
<rect x="19.40" y="204.99" width="25.85" height="2.60" fill="#f5a786" />
<rect x="45.20" y="204.99" width="25.85" height="2.60" fill="#dd5544" />
<rect x="71.00" y="204.99" width="25.65" height="2.60" fill="#799ab8" />
<rect x="96.60" y="204.99" width="25.75" height="2.60" fill="#6b8fb9" />
<rect x="19.40" y="207.54" width="25.85" height="2.60" fill="#eb9d7c" />
<rect x="45.20" y="207.54" width="25.85" height="2.60" fill="#d54d3c" />
<rect x="71.00" y="207.54" width="25.65" height="2.60" fill="#7d9ebc" />
<rect x="96.60" y="207.54" width="25.75" height="2.60" fill="#6d91bb" />
<rect x="19.40" y="210.08" width="25.85" height="2.60" fill="#efa180" />
<rect x="45.20" y="210.08" width="25.85" height="2.60" fill="#d64e3d" />
<rect x="71.00" y="210.08" width="25.65" height="2.60" fill="#7b9cba" />
<rect x="96.60" y="210.08" width="25.75" height="2.60" fill="#698db7" />
<rect x="19.40" y="212.62" width="25.85" height="2.60" fill="#e99b7a" />
<rect x="45.20" y="212.62" width="25.85" height="2.60" fill="#d95140" />
<rect x="71.00" y="212.62" width="25.65" height="2.60" fill="#82a3c1" />
<rect x="96.60" y="212.62" width="25.75" height="2.60" fill="#698db7" />
<rect x="19.40" y="215.17" width="25.85" height="2.60" fill="#e89a79" />
<rect x="45.20" y="215.17" width="25.85" height="2.60" fill="#d34b3a" />
<rect x="71.00" y="215.17" width="25.65" height="2.60" fill="#7d9ebc" />
<rect x="96.60" y="215.17" width="25.75" height="2.60" fill="#6c90ba" />
<rect x="19.40" y="217.72" width="25.85" height="2.60" fill="#f2a483" />
<rect x="45.20" y="217.72" width="25.85" height="2.60" fill="#d64e3d" />
<rect x="71.00" y="217.72" width="25.65" height="2.60" fill="#83a4c2" />
<rect x="96.60" y="217.72" width="25.75" height="2.60" fill="#6d91bb" />
<rect x="19.40" y="220.26" width="25.85" height="2.60" fill="#ed9f7e" />
<rect x="45.20" y="220.26" width="25.85" height="2.60" fill="#d64e3d" />
<rect x="71.00" y="220.26" width="25.65" height="2.60" fill="#7fa0be" />
<rect x="96.60" y="220.26" width="25.75" height="2.60" fill="#6e92bc" />
<rect x="19.40" y="222.81" width="25.85" height="2.60" fill="#ed9f7e" />
<rect x="45.20" y="222.81" width="25.85" height="2.60" fill="#db5342" />
<rect x="71.00" y="222.81" width="25.65" height="2.60" fill="#7e9fbd" />
<rect x="96.60" y="222.81" width="25.75" height="2.60" fill="#678bb5" />
<rect x="19.40" y="225.35" width="25.85" height="2.60" fill="#efa180" />
<rect x="45.20" y="225.35" width="25.85" height="2.60" fill="#db5342" />
<rect x="71.00" y="225.35" width="25.65" height="2.60" fill="#799ab8" />
<rect x="96.60" y="225.35" width="25.75" height="2.60" fill="#6a8eb8" />
<rect x="19.40" y="227.90" width="25.85" height="2.60" fill="#ed9f7e" />
<rect x="45.20" y="227.90" width="25.85" height="2.60" fill="#dd5544" />
<rect x="71.00" y="227.90" width="25.65" height="2.60" fill="#85a6c4" />
<rect x="96.60" y="227.90" width="25.75" height="2.60" fill="#698db7" />
<rect x="19.40" y="230.44" width="25.85" height="2.60" fill="#f4a685" />
<rect x="45.20" y="230.44" width="25.85" height="2.60" fill="#dc5443" />
<rect x="71.00" y="230.44" width="25.65" height="2.60" fill="#7c9dbb" />
<rect x="96.60" y="230.44" width="25.75" height="2.60" fill="#6a8eb8" />
<rect x="19.40" y="232.99" width="25.85" height="2.60" fill="#e99b7a" />
<rect x="45.20" y="232.99" width="25.85" height="2.60" fill="#dc5443" />
<rect x="71.00" y="232.99" width="25.65" height="2.60" fill="#81a2c0" />
<rect x="96.60" y="232.99" width="25.75" height="2.60" fill="#7094be" />
<rect x="19.40" y="235.53" width="25.85" height="2.60" fill="#f2a483" />
<rect x="45.20" y="235.53" width="25.85" height="2.60" fill="#da5241" />
<rect x="71.00" y="235.53" width="25.65" height="2.60" fill="#82a3c1" />
<rect x="96.60" y="235.53" width="25.75" height="2.60" fill="#6c90ba" />
<rect x="19.40" y="238.08" width="25.85" height="2.60" fill="#e89a79" />
<rect x="45.20" y="238.08" width="25.85" height="2.60" fill="#d95140" />
<rect x="71.00" y="238.08" width="25.65" height="2.60" fill="#7899b7" />
<rect x="96.60" y="238.08" width="25.75" height="2.60" fill="#668ab4" />
<rect x="19.40" y="240.62" width="25.85" height="2.60" fill="#f2a483" />
<rect x="45.20" y="240.62" width="25.85" height="2.60" fill="#d24a39" />
<rect x="71.00" y="240.62" width="25.65" height="2.60" fill="#799ab8" />
<rect x="96.60" y="240.62" width="25.75" height="2.60" fill="#6589b3" />
<rect x="19.40" y="243.17" width="25.85" height="2.60" fill="#f3a584" />
<rect x="45.20" y="243.17" width="25.85" height="2.60" fill="#d44c3b" />
<rect x="71.00" y="243.17" width="25.65" height="2.60" fill="#7899b7" />
<rect x="96.60" y="243.17" width="25.75" height="2.60" fill="#7094be" />
<rect x="19.40" y="245.71" width="25.85" height="2.60" fill="#ecdea8" />
<rect x="45.20" y="245.71" width="25.85" height="2.60" fill="#d53b2e" />
<rect x="71.00" y="245.71" width="25.65" height="2.60" fill="#81a2c0" />
<rect x="96.60" y="245.71" width="25.75" height="2.60" fill="#7094be" />
<rect x="19.40" y="248.26" width="25.85" height="2.60" fill="#f7e9b3" />
<rect x="45.20" y="248.26" width="25.85" height="2.60" fill="#d1372a" />
<rect x="71.00" y="248.26" width="25.65" height="2.60" fill="#83a4c2" />
<rect x="96.60" y="248.26" width="25.75" height="2.60" fill="#6589b3" />
<path d="M19.4 47.20H122.3 M19.4 52.29H122.3 M19.4 57.38H122.3 M19.4 62.47H122.3 M19.4 67.56H122.3 M19.4 72.65H122.3 M19.4 77.74H122.3 M19.4 82.83H122.3 M19.4 87.92H122.3 M19.4 93.01H122.3 M19.4 98.10H122.3 M19.4 103.19H122.3 M19.4 108.28H122.3 M19.4 113.37H122.3 M19.4 118.46H122.3 M19.4 123.55H122.3 M19.4 128.64H122.3 M19.4 133.73H122.3 M19.4 138.82H122.3 M19.4 143.91H122.3 M19.4 149.00H122.3 M19.4 154.09H122.3 M19.4 159.18H122.3 M19.4 164.27H122.3 M19.4 169.36H122.3 M19.4 174.45H122.3 M19.4 179.54H122.3 M19.4 184.63H122.3 M19.4 189.72H122.3 M19.4 194.81H122.3 M19.4 199.90H122.3 M19.4 204.99H122.3 M19.4 210.08H122.3 M19.4 215.17H122.3 M19.4 220.26H122.3 M19.4 225.35H122.3 M19.4 230.44H122.3 M19.4 235.53H122.3 M19.4 240.62H122.3 M19.4 245.71H122.3 M19.4 250.80H122.3" stroke="#2a3a4a" stroke-opacity="0.6" stroke-width="0.6" fill="none"/>
<path d="M19.4 49.75H122.3 M19.4 54.84H122.3 M19.4 59.93H122.3 M19.4 65.02H122.3 M19.4 70.11H122.3 M19.4 75.20H122.3 M19.4 80.29H122.3 M19.4 85.38H122.3 M19.4 90.47H122.3 M19.4 95.56H122.3 M19.4 100.65H122.3 M19.4 105.74H122.3 M19.4 110.83H122.3 M19.4 115.92H122.3 M19.4 121.01H122.3 M19.4 126.10H122.3 M19.4 131.19H122.3 M19.4 136.28H122.3 M19.4 141.37H122.3 M19.4 146.46H122.3 M19.4 151.55H122.3 M19.4 156.64H122.3 M19.4 161.73H122.3 M19.4 166.82H122.3 M19.4 171.91H122.3 M19.4 177.00H122.3 M19.4 182.09H122.3 M19.4 187.18H122.3 M19.4 192.27H122.3 M19.4 197.36H122.3 M19.4 202.45H122.3 M19.4 207.54H122.3 M19.4 212.62H122.3 M19.4 217.72H122.3 M19.4 222.81H122.3 M19.4 227.90H122.3 M19.4 232.99H122.3 M19.4 238.08H122.3 M19.4 243.17H122.3 M19.4 248.26H122.3" stroke="#333" stroke-opacity="0.22" stroke-width="0.5" fill="none"/>
<rect x="19.4" y="47.2" width="102.9" height="203.6" fill="none" stroke="#333" stroke-opacity="0.7" stroke-width="0.5"/>
<line x1="19.40" y1="47.20" x2="19.40" y2="250.80" stroke="#333" stroke-width="0.5" stroke-opacity="0.8"/>
<line x1="45.20" y1="47.20" x2="45.20" y2="250.80" stroke="#333" stroke-width="0.5" stroke-opacity="0.8"/>
<line x1="71.00" y1="47.20" x2="71.00" y2="250.80" stroke="#333" stroke-width="0.5" stroke-opacity="0.8"/>
<line x1="96.60" y1="47.20" x2="96.60" y2="250.80" stroke="#333" stroke-width="0.5" stroke-opacity="0.8"/>
<line x1="122.30" y1="47.20" x2="122.30" y2="250.80" stroke="#333" stroke-width="0.5" stroke-opacity="0.8"/>
<rect x="16.9" y="47.2" width="2.2" height="203.6" fill="#fff" stroke="#999" stroke-width="0.4"/>
<g font-size="2.7" fill="#000" stroke="#000" stroke-width="0.1" stroke-opacity="0.6" opacity="1.0"><text x="124.2" y="49.40" textLength="29.0" lengthAdjust="spacingAndGlyphs">ENSMUSG00000083370.8</text><text x="124.2" y="51.94" textLength="29.0" lengthAdjust="spacingAndGlyphs">ENSMUSG00000076563.4</text><text x="124.2" y="54.49" textLength="29.0" lengthAdjust="spacingAndGlyphs">ENSMUSG00000077096.8</text><text x="124.2" y="57.03" textLength="29.0" lengthAdjust="spacingAndGlyphs">ENSMUSG00000034402.2</text><text x="124.2" y="59.58" textLength="29.0" lengthAdjust="spacingAndGlyphs">ENSMUSG00000049767.3</text><text x="124.2" y="62.12" textLength="29.0" lengthAdjust="spacingAndGlyphs">ENSMUSG00000080607.1</text><text x="124.2" y="64.67" textLength="29.0" lengthAdjust="spacingAndGlyphs">ENSMUSG00000061925.8</text><text x="124.2" y="67.21" textLength="29.0" lengthAdjust="spacingAndGlyphs">ENSMUSG00000095206.3</text><text x="124.2" y="69.76" textLength="29.0" lengthAdjust="spacingAndGlyphs">ENSMUSG00000011966.9</text><text x="124.2" y="72.30" textLength="29.0" lengthAdjust="spacingAndGlyphs">ENSMUSG00000017805.1</text><text x="124.2" y="74.85" textLength="29.0" lengthAdjust="spacingAndGlyphs">ENSMUSG00000041711.1</text><text x="124.2" y="77.39" textLength="29.0" lengthAdjust="spacingAndGlyphs">ENSMUSG00000052767.8</text><text x="124.2" y="79.94" textLength="29.0" lengthAdjust="spacingAndGlyphs">ENSMUSG00000035601.9</text><text x="124.2" y="82.48" textLength="29.0" lengthAdjust="spacingAndGlyphs">ENSMUSG00000093924.5</text><text x="124.2" y="85.03" textLength="29.0" lengthAdjust="spacingAndGlyphs">ENSMUSG00000010602.2</text><text x="124.2" y="87.57" textLength="29.0" lengthAdjust="spacingAndGlyphs">ENSMUSG00000095826.5</text><text x="124.2" y="90.12" textLength="29.0" lengthAdjust="spacingAndGlyphs">ENSMUSG00000082255.2</text><text x="124.2" y="92.66" textLength="28.0" lengthAdjust="spacingAndGlyphs">ENSMUSG00000051324.4</text><text x="124.2" y="95.21" textLength="30.0" lengthAdjust="spacingAndGlyphs">ENSMUSG00000047885.1</text><text x="124.2" y="97.75" textLength="29.0" lengthAdjust="spacingAndGlyphs">ENSMUSG00000083812.2</text><text x="124.2" y="100.30" textLength="29.0" lengthAdjust="spacingAndGlyphs">ENSMUSG00000024129.5</text><text x="124.2" y="102.84" textLength="29.0" lengthAdjust="spacingAndGlyphs">ENSMUSG00000018759.1</text><text x="124.2" y="105.39" textLength="16.0" lengthAdjust="spacingAndGlyphs">XLOC_028984</text><text x="124.2" y="107.93" textLength="29.0" lengthAdjust="spacingAndGlyphs">ENSMUSG00000016858.8</text><text x="124.2" y="110.48" textLength="29.0" lengthAdjust="spacingAndGlyphs">ENSMUSG00000062091.7</text><text x="124.2" y="113.02" textLength="29.0" lengthAdjust="spacingAndGlyphs">ENSMUSG00000084218.4</text><text x="124.2" y="115.57" textLength="28.0" lengthAdjust="spacingAndGlyphs">ENSMUSG00000054157.2</text><text x="124.2" y="118.11" textLength="28.0" lengthAdjust="spacingAndGlyphs">ENSMUSG00000053592.1</text><text x="124.2" y="120.66" textLength="29.0" lengthAdjust="spacingAndGlyphs">ENSMUSG00000025465.3</text><text x="124.2" y="123.20" textLength="29.0" lengthAdjust="spacingAndGlyphs">ENSMUSG00000023244.1</text><text x="124.2" y="125.75" textLength="16.0" lengthAdjust="spacingAndGlyphs">XLOC_061940</text><text x="124.2" y="128.29" textLength="29.0" lengthAdjust="spacingAndGlyphs">ENSMUSG00000033288.9</text><text x="124.2" y="130.84" textLength="29.0" lengthAdjust="spacingAndGlyphs">ENSMUSG00000068644.9</text><text x="124.2" y="133.38" textLength="29.0" lengthAdjust="spacingAndGlyphs">ENSMUSG00000027166.7</text><text x="124.2" y="135.93" textLength="29.0" lengthAdjust="spacingAndGlyphs">ENSMUSG00000025270.7</text><text x="124.2" y="138.47" textLength="29.0" lengthAdjust="spacingAndGlyphs">ENSMUSG00000037900.1</text><text x="124.2" y="141.02" textLength="28.0" lengthAdjust="spacingAndGlyphs">ENSMUSG00000087691.5</text><text x="124.2" y="143.56" textLength="16.0" lengthAdjust="spacingAndGlyphs">XLOC_028618</text><text x="124.2" y="146.11" textLength="29.0" lengthAdjust="spacingAndGlyphs">ENSMUSG00000061678.2</text><text x="124.2" y="148.65" textLength="16.0" lengthAdjust="spacingAndGlyphs">XLOC_020183</text><text x="124.2" y="151.20" textLength="29.0" lengthAdjust="spacingAndGlyphs">ENSMUSG00000067873.5</text><text x="124.2" y="153.74" textLength="16.0" lengthAdjust="spacingAndGlyphs">XLOC_080997</text><text x="124.2" y="156.29" textLength="29.0" lengthAdjust="spacingAndGlyphs">ENSMUSG00000048839.7</text><text x="124.2" y="158.83" textLength="29.0" lengthAdjust="spacingAndGlyphs">ENSMUSG00000019736.2</text><text x="124.2" y="161.38" textLength="29.0" lengthAdjust="spacingAndGlyphs">ENSMUSG00000086380.4</text><text x="124.2" y="163.92" textLength="16.0" lengthAdjust="spacingAndGlyphs">XLOC_079811</text><text x="124.2" y="166.47" textLength="29.0" lengthAdjust="spacingAndGlyphs">ENSMUSG00000058719.8</text><text x="124.2" y="169.01" textLength="29.0" lengthAdjust="spacingAndGlyphs">ENSMUSG00000086974.8</text><text x="124.2" y="171.56" textLength="29.0" lengthAdjust="spacingAndGlyphs">ENSMUSG00000027791.7</text><text x="124.2" y="174.10" textLength="29.0" lengthAdjust="spacingAndGlyphs">ENSMUSG00000092214.3</text><text x="124.2" y="176.65" textLength="28.0" lengthAdjust="spacingAndGlyphs">ENSMUSG00000039934.4</text><text x="124.2" y="179.19" textLength="29.0" lengthAdjust="spacingAndGlyphs">ENSMUSG00000030771.9</text><text x="124.2" y="181.74" textLength="29.0" lengthAdjust="spacingAndGlyphs">ENSMUSG00000060883.8</text><text x="124.2" y="184.28" textLength="29.0" lengthAdjust="spacingAndGlyphs">ENSMUSG00000020288.7</text><text x="124.2" y="186.83" textLength="16.0" lengthAdjust="spacingAndGlyphs">XLOC_014610</text><text x="124.2" y="189.37" textLength="29.0" lengthAdjust="spacingAndGlyphs">ENSMUSG00000015072.9</text><text x="124.2" y="191.92" textLength="28.0" lengthAdjust="spacingAndGlyphs">ENSMUSG00000041248.7</text><text x="124.2" y="194.46" textLength="28.0" lengthAdjust="spacingAndGlyphs">ENSMUSG00000065157.8</text><text x="124.2" y="197.01" textLength="28.0" lengthAdjust="spacingAndGlyphs">ENSMUSG00000078167.3</text><text x="124.2" y="199.55" textLength="29.0" lengthAdjust="spacingAndGlyphs">ENSMUSG00000026567.4</text><text x="124.2" y="202.10" textLength="29.0" lengthAdjust="spacingAndGlyphs">ENSMUSG00000083317.2</text><text x="124.2" y="204.64" textLength="28.0" lengthAdjust="spacingAndGlyphs">ENSMUSG00000037839.4</text><text x="124.2" y="207.19" textLength="16.0" lengthAdjust="spacingAndGlyphs">XLOC_010064</text><text x="124.2" y="209.73" textLength="28.0" lengthAdjust="spacingAndGlyphs">ENSMUSG00000063926.8</text><text x="124.2" y="212.28" textLength="29.0" lengthAdjust="spacingAndGlyphs">ENSMUSG00000017924.1</text><text x="124.2" y="214.82" textLength="29.0" lengthAdjust="spacingAndGlyphs">ENSMUSG00000046957.6</text><text x="124.2" y="217.37" textLength="30.0" lengthAdjust="spacingAndGlyphs">ENSMUSG00000084995.3</text><text x="124.2" y="219.91" textLength="29.0" lengthAdjust="spacingAndGlyphs">ENSMUSG00000057467.3</text><text x="124.2" y="222.46" textLength="29.0" lengthAdjust="spacingAndGlyphs">ENSMUSG00000053380.9</text><text x="124.2" y="225.00" textLength="29.0" lengthAdjust="spacingAndGlyphs">ENSMUSG00000028395.1</text><text x="124.2" y="227.55" textLength="16.0" lengthAdjust="spacingAndGlyphs">XLOC_063232</text><text x="124.2" y="230.09" textLength="29.0" lengthAdjust="spacingAndGlyphs">ENSMUSG00000050868.1</text><text x="124.2" y="232.64" textLength="16.0" lengthAdjust="spacingAndGlyphs">XLOC_079429</text><text x="124.2" y="235.18" textLength="29.0" lengthAdjust="spacingAndGlyphs">ENSMUSG00000073207.2</text><text x="124.2" y="237.73" textLength="28.0" lengthAdjust="spacingAndGlyphs">ENSMUSG00000051799.3</text><text x="124.2" y="240.27" textLength="29.0" lengthAdjust="spacingAndGlyphs">ENSMUSG00000019864.8</text><text x="124.2" y="242.82" textLength="30.0" lengthAdjust="spacingAndGlyphs">ENSMUSG00000058205.1</text><text x="124.2" y="245.36" textLength="29.0" lengthAdjust="spacingAndGlyphs">ENSMUSG00000054776.6</text><text x="124.2" y="247.91" textLength="29.0" lengthAdjust="spacingAndGlyphs">ENSMUSG00000099803.8</text><text x="124.2" y="250.45" textLength="29.0" lengthAdjust="spacingAndGlyphs">ENSMUSG00000064677.1</text></g>
<defs><linearGradient id="lg1" x1="0" y1="0" x2="0" y2="1"><stop offset="0" stop-color="#d73027"/><stop offset="0.5" stop-color="#fee090"/><stop offset="1" stop-color="#4575b4"/></linearGradient></defs>
<rect x="160.30" y="47.20" width="1.80" height="13.50" fill="url(#lg1)" />
<text x="162.80" y="49.90" font-size="3.3" text-anchor="start" fill="#000" stroke="#000" stroke-width="0.15">5.80</text>
<text x="162.80" y="55.20" font-size="3.3" text-anchor="start" fill="#000" stroke="#000" stroke-width="0.15">0.87</text>
<text x="162.80" y="60.70" font-size="3.3" text-anchor="start" fill="#000" stroke="#000" stroke-width="0.15">-4.2</text>
<text x="30" y="255" font-size="4" fill="#333" transform="rotate(40 30 255)">ctrl_1</text>
<text x="56" y="255" font-size="4" fill="#333" transform="rotate(40 56 255)">ctrl_2</text>
<text x="82" y="255" font-size="4" fill="#333" transform="rotate(40 82 255)">cis_1</text>
<text x="107" y="255" font-size="4" fill="#333" transform="rotate(40 107 255)">cis_2</text>
<text x="364.90" y="15.70" font-size="12.3" text-anchor="start" fill="#000" >Control</text>
<text x="433.60" y="15.70" font-size="12.3" text-anchor="start" fill="#000" >IR</text>
<rect x="356.20" y="23.10" width="54.70" height="13.30" fill="#8fbbe0" />
<rect x="410.90" y="23.10" width="55.20" height="13.30" fill="#f99058" />
<rect x="359.10" y="42.10" width="26.55" height="2.60" fill="#a8bbb7" />
<rect x="385.60" y="42.10" width="26.15" height="2.60" fill="#a9bcb8" />
<rect x="411.70" y="42.10" width="26.45" height="2.60" fill="#d43a2d" />
<rect x="438.10" y="42.10" width="26.75" height="2.60" fill="#bfceb7" />
<rect x="359.10" y="44.65" width="26.55" height="2.60" fill="#a9bcb8" />
<rect x="385.60" y="44.65" width="26.15" height="2.60" fill="#acbfbb" />
<rect x="411.70" y="44.65" width="26.45" height="2.60" fill="#c92f22" />
<rect x="438.10" y="44.65" width="26.75" height="2.60" fill="#b9c8b1" />
<rect x="359.10" y="47.20" width="26.55" height="2.60" fill="#acbfbb" />
<rect x="385.60" y="47.20" width="26.15" height="2.60" fill="#a8bbb7" />
<rect x="411.70" y="47.20" width="26.45" height="2.60" fill="#d63c2f" />
<rect x="438.10" y="47.20" width="26.75" height="2.60" fill="#b4c3ac" />
<rect x="359.10" y="49.76" width="26.55" height="2.60" fill="#a6b9b5" />
<rect x="385.60" y="49.76" width="26.15" height="2.60" fill="#a2b5b1" />
<rect x="411.70" y="49.76" width="26.45" height="2.60" fill="#d1372a" />
<rect x="438.10" y="49.76" width="26.75" height="2.60" fill="#bac9b2" />
<rect x="359.10" y="52.31" width="26.55" height="2.60" fill="#859fb4" />
<rect x="385.60" y="52.31" width="26.15" height="2.60" fill="#88a2b7" />
<rect x="411.70" y="52.31" width="26.45" height="2.60" fill="#d54d3c" />
<rect x="438.10" y="52.31" width="26.75" height="2.60" fill="#f5b88d" />
<rect x="359.10" y="54.86" width="26.55" height="2.60" fill="#90aabf" />
<rect x="385.60" y="54.86" width="26.15" height="2.60" fill="#87a1b6" />
<rect x="411.70" y="54.86" width="26.45" height="2.60" fill="#dc5443" />
<rect x="438.10" y="54.86" width="26.75" height="2.60" fill="#eaad82" />
<rect x="359.10" y="57.41" width="26.55" height="2.60" fill="#8ea8bd" />
<rect x="385.60" y="57.41" width="26.15" height="2.60" fill="#87a1b6" />
<rect x="411.70" y="57.41" width="26.45" height="2.60" fill="#d14938" />
<rect x="438.10" y="57.41" width="26.75" height="2.60" fill="#f4b78c" />
<rect x="359.10" y="59.96" width="26.55" height="2.60" fill="#88a2b7" />
<rect x="385.60" y="59.96" width="26.15" height="2.60" fill="#88a2b7" />
<rect x="411.70" y="59.96" width="26.45" height="2.60" fill="#df5746" />
<rect x="438.10" y="59.96" width="26.75" height="2.60" fill="#f6e8b2" />
<rect x="359.10" y="62.51" width="26.55" height="2.60" fill="#89a3b8" />
<rect x="385.60" y="62.51" width="26.15" height="2.60" fill="#92acc1" />
<rect x="411.70" y="62.51" width="26.45" height="2.60" fill="#d95140" />
<rect x="438.10" y="62.51" width="26.75" height="2.60" fill="#f3e5af" />
<rect x="359.10" y="65.07" width="26.55" height="2.60" fill="#a2b5b1" />
<rect x="385.60" y="65.07" width="26.15" height="2.60" fill="#acbfbb" />
<rect x="411.70" y="65.07" width="26.45" height="2.60" fill="#d8dcb5" />
<rect x="438.10" y="65.07" width="26.75" height="2.60" fill="#d73d30" />
<rect x="359.10" y="67.62" width="26.55" height="2.60" fill="#acbfbb" />
<rect x="385.60" y="67.62" width="26.15" height="2.60" fill="#a3b6b2" />
<rect x="411.70" y="67.62" width="26.45" height="2.60" fill="#d3d7b0" />
<rect x="438.10" y="67.62" width="26.75" height="2.60" fill="#cb3124" />
<rect x="359.10" y="70.17" width="26.55" height="2.60" fill="#a1b4b0" />
<rect x="385.60" y="70.17" width="26.15" height="2.60" fill="#a0b3af" />
<rect x="411.70" y="70.17" width="26.45" height="2.60" fill="#d2d6af" />
<rect x="438.10" y="70.17" width="26.75" height="2.60" fill="#d1372a" />
<rect x="359.10" y="72.72" width="26.55" height="2.60" fill="#9fb2ae" />
<rect x="385.60" y="72.72" width="26.15" height="2.60" fill="#a8bbb7" />
<rect x="411.70" y="72.72" width="26.45" height="2.60" fill="#d3d7b0" />
<rect x="438.10" y="72.72" width="26.75" height="2.60" fill="#cd3326" />
<rect x="359.10" y="75.27" width="26.55" height="2.60" fill="#aabdb9" />
<rect x="385.60" y="75.27" width="26.15" height="2.60" fill="#a6b9b5" />
<rect x="411.70" y="75.27" width="26.45" height="2.60" fill="#d2d6af" />
<rect x="438.10" y="75.27" width="26.75" height="2.60" fill="#d03629" />
<rect x="359.10" y="77.83" width="26.55" height="2.60" fill="#a9bcb8" />
<rect x="385.60" y="77.83" width="26.15" height="2.60" fill="#a0b3af" />
<rect x="411.70" y="77.83" width="26.45" height="2.60" fill="#dce0b9" />
<rect x="438.10" y="77.83" width="26.75" height="2.60" fill="#c92f22" />
<rect x="359.10" y="80.38" width="26.55" height="2.60" fill="#a9bcb8" />
<rect x="385.60" y="80.38" width="26.15" height="2.60" fill="#abbeba" />
<rect x="411.70" y="80.38" width="26.45" height="2.60" fill="#ced2ab" />
<rect x="438.10" y="80.38" width="26.75" height="2.60" fill="#d43a2d" />
<rect x="359.10" y="82.93" width="26.55" height="2.60" fill="#a4b7b3" />
<rect x="385.60" y="82.93" width="26.15" height="2.60" fill="#a7bab6" />
<rect x="411.70" y="82.93" width="26.45" height="2.60" fill="#ced2ab" />
<rect x="438.10" y="82.93" width="26.75" height="2.60" fill="#ca3023" />
<rect x="359.10" y="85.48" width="26.55" height="2.60" fill="#a2b5b1" />
<rect x="385.60" y="85.48" width="26.15" height="2.60" fill="#acbfbb" />
<rect x="411.70" y="85.48" width="26.45" height="2.60" fill="#d1d5ae" />
<rect x="438.10" y="85.48" width="26.75" height="2.60" fill="#d43a2d" />
<rect x="359.10" y="88.03" width="26.55" height="2.60" fill="#92acc1" />
<rect x="385.60" y="88.03" width="26.15" height="2.60" fill="#92acc1" />
<rect x="411.70" y="88.03" width="26.45" height="2.60" fill="#efe1ab" />
<rect x="438.10" y="88.03" width="26.75" height="2.60" fill="#ce3427" />
<rect x="359.10" y="90.59" width="26.55" height="2.60" fill="#8ca6bb" />
<rect x="385.60" y="90.59" width="26.15" height="2.60" fill="#90aabf" />
<rect x="411.70" y="90.59" width="26.45" height="2.60" fill="#ecdea8" />
<rect x="438.10" y="90.59" width="26.75" height="2.60" fill="#d3392c" />
<rect x="359.10" y="93.14" width="26.55" height="2.60" fill="#90aabf" />
<rect x="385.60" y="93.14" width="26.15" height="2.60" fill="#91abc0" />
<rect x="411.70" y="93.14" width="26.45" height="2.60" fill="#ebdda7" />
<rect x="438.10" y="93.14" width="26.75" height="2.60" fill="#d63c2f" />
<rect x="359.10" y="95.69" width="26.55" height="2.60" fill="#86a0b5" />
<rect x="385.60" y="95.69" width="26.15" height="2.60" fill="#8aa4b9" />
<rect x="411.70" y="95.69" width="26.45" height="2.60" fill="#f3e5af" />
<rect x="438.10" y="95.69" width="26.75" height="2.60" fill="#d63c2f" />
<rect x="359.10" y="98.24" width="26.55" height="2.60" fill="#8aa4b9" />
<rect x="385.60" y="98.24" width="26.15" height="2.60" fill="#92acc1" />
<rect x="411.70" y="98.24" width="26.45" height="2.60" fill="#ea8e6d" />
<rect x="438.10" y="98.24" width="26.75" height="2.60" fill="#dd6d57" />
<rect x="359.10" y="100.79" width="26.55" height="2.60" fill="#89a3b8" />
<rect x="385.60" y="100.79" width="26.15" height="2.60" fill="#87a1b6" />
<rect x="411.70" y="100.79" width="26.45" height="2.60" fill="#e38766" />
<rect x="438.10" y="100.79" width="26.75" height="2.60" fill="#db6b55" />
<rect x="359.10" y="103.34" width="26.55" height="2.60" fill="#8fa9be" />
<rect x="385.60" y="103.34" width="26.15" height="2.60" fill="#93adc2" />
<rect x="411.70" y="103.34" width="26.45" height="2.60" fill="#e48867" />
<rect x="438.10" y="103.34" width="26.75" height="2.60" fill="#da6a54" />
<rect x="359.10" y="105.90" width="26.55" height="2.60" fill="#93adc2" />
<rect x="385.60" y="105.90" width="26.15" height="2.60" fill="#8ca6bb" />
<rect x="411.70" y="105.90" width="26.45" height="2.60" fill="#e88c6b" />
<rect x="438.10" y="105.90" width="26.75" height="2.60" fill="#dc6c56" />
<rect x="359.10" y="108.45" width="26.55" height="2.60" fill="#f2e4ae" />
<rect x="385.60" y="108.45" width="26.15" height="2.60" fill="#d53b2e" />
<rect x="411.70" y="108.45" width="26.45" height="2.60" fill="#8ba5ba" />
<rect x="438.10" y="108.45" width="26.75" height="2.60" fill="#8ba5ba" />
<rect x="359.10" y="111.00" width="26.55" height="2.60" fill="#ebdda7" />
<rect x="385.60" y="111.00" width="26.15" height="2.60" fill="#d63c2f" />
<rect x="411.70" y="111.00" width="26.45" height="2.60" fill="#859fb4" />
<rect x="438.10" y="111.00" width="26.75" height="2.60" fill="#8ca6bb" />
<rect x="359.10" y="113.55" width="26.55" height="2.60" fill="#f6e8b2" />
<rect x="385.60" y="113.55" width="26.15" height="2.60" fill="#cb3124" />
<rect x="411.70" y="113.55" width="26.45" height="2.60" fill="#8fa9be" />
<rect x="438.10" y="113.55" width="26.75" height="2.60" fill="#92acc1" />
<rect x="359.10" y="116.10" width="26.55" height="2.60" fill="#f3e5af" />
<rect x="385.60" y="116.10" width="26.15" height="2.60" fill="#d43a2d" />
<rect x="411.70" y="116.10" width="26.45" height="2.60" fill="#86a0b5" />
<rect x="438.10" y="116.10" width="26.75" height="2.60" fill="#8ba5ba" />
<rect x="359.10" y="118.66" width="26.55" height="2.60" fill="#ecdea8" />
<rect x="385.60" y="118.66" width="26.15" height="2.60" fill="#d53b2e" />
<rect x="411.70" y="118.66" width="26.45" height="2.60" fill="#89a3b8" />
<rect x="438.10" y="118.66" width="26.75" height="2.60" fill="#8ba5ba" />
<rect x="359.10" y="121.21" width="26.55" height="2.60" fill="#f8eab4" />
<rect x="385.60" y="121.21" width="26.15" height="2.60" fill="#d53b2e" />
<rect x="411.70" y="121.21" width="26.45" height="2.60" fill="#93adc2" />
<rect x="438.10" y="121.21" width="26.75" height="2.60" fill="#8ba5ba" />
<rect x="359.10" y="123.76" width="26.55" height="2.60" fill="#f1e3ad" />
<rect x="385.60" y="123.76" width="26.15" height="2.60" fill="#d3392c" />
<rect x="411.70" y="123.76" width="26.45" height="2.60" fill="#8ca6bb" />
<rect x="438.10" y="123.76" width="26.75" height="2.60" fill="#89a3b8" />
<rect x="359.10" y="126.31" width="26.55" height="2.60" fill="#f0e2ac" />
<rect x="385.60" y="126.31" width="26.15" height="2.60" fill="#cb3124" />
<rect x="411.70" y="126.31" width="26.45" height="2.60" fill="#8aa4b9" />
<rect x="438.10" y="126.31" width="26.75" height="2.60" fill="#93adc2" />
<rect x="359.10" y="128.86" width="26.55" height="2.60" fill="#f7e9b3" />
<rect x="385.60" y="128.86" width="26.15" height="2.60" fill="#d2382b" />
<rect x="411.70" y="128.86" width="26.45" height="2.60" fill="#8ca6bb" />
<rect x="438.10" y="128.86" width="26.75" height="2.60" fill="#8aa4b9" />
<rect x="359.10" y="131.41" width="26.55" height="2.60" fill="#e38766" />
<rect x="385.60" y="131.41" width="26.15" height="2.60" fill="#eb9d7c" />
<rect x="411.70" y="131.41" width="26.45" height="2.60" fill="#5380bd" />
<rect x="438.10" y="131.41" width="26.75" height="2.60" fill="#f6e8b2" />
<rect x="359.10" y="133.97" width="26.55" height="2.60" fill="#e78b6a" />
<rect x="385.60" y="133.97" width="26.15" height="2.60" fill="#f2a483" />
<rect x="411.70" y="133.97" width="26.45" height="2.60" fill="#5380bd" />
<rect x="438.10" y="133.97" width="26.75" height="2.60" fill="#f4e6b0" />
<rect x="359.10" y="136.52" width="26.55" height="2.60" fill="#e2725c" />
<rect x="385.60" y="136.52" width="26.15" height="2.60" fill="#e4745e" />
<rect x="411.70" y="136.52" width="26.45" height="2.60" fill="#698db7" />
<rect x="438.10" y="136.52" width="26.75" height="2.60" fill="#8fa9be" />
<rect x="359.10" y="139.07" width="26.55" height="2.60" fill="#dd6d57" />
<rect x="385.60" y="139.07" width="26.15" height="2.60" fill="#e0705a" />
<rect x="411.70" y="139.07" width="26.45" height="2.60" fill="#6f93bd" />
<rect x="438.10" y="139.07" width="26.75" height="2.60" fill="#8fa9be" />
<rect x="359.10" y="141.62" width="26.55" height="2.60" fill="#dd6d57" />
<rect x="385.60" y="141.62" width="26.15" height="2.60" fill="#e67660" />
<rect x="411.70" y="141.62" width="26.45" height="2.60" fill="#6d91bb" />
<rect x="438.10" y="141.62" width="26.75" height="2.60" fill="#8da7bc" />
<rect x="359.10" y="144.17" width="26.55" height="2.60" fill="#d96953" />
<rect x="385.60" y="144.17" width="26.15" height="2.60" fill="#e1715b" />
<rect x="411.70" y="144.17" width="26.45" height="2.60" fill="#688cb6" />
<rect x="438.10" y="144.17" width="26.75" height="2.60" fill="#8ea8bd" />
<rect x="359.10" y="146.73" width="26.55" height="2.60" fill="#df6f59" />
<rect x="385.60" y="146.73" width="26.15" height="2.60" fill="#e4745e" />
<rect x="411.70" y="146.73" width="26.45" height="2.60" fill="#6d91bb" />
<rect x="438.10" y="146.73" width="26.75" height="2.60" fill="#90aabf" />
<rect x="359.10" y="149.28" width="26.55" height="2.60" fill="#de6e58" />
<rect x="385.60" y="149.28" width="26.15" height="2.60" fill="#e2725c" />
<rect x="411.70" y="149.28" width="26.45" height="2.60" fill="#6e92bc" />
<rect x="438.10" y="149.28" width="26.75" height="2.60" fill="#91abc0" />
<rect x="359.10" y="151.83" width="26.55" height="2.60" fill="#de6e58" />
<rect x="385.60" y="151.83" width="26.15" height="2.60" fill="#e5755f" />
<rect x="411.70" y="151.83" width="26.45" height="2.60" fill="#7094be" />
<rect x="438.10" y="151.83" width="26.75" height="2.60" fill="#8fa9be" />
<rect x="359.10" y="154.38" width="26.55" height="2.60" fill="#e77761" />
<rect x="385.60" y="154.38" width="26.15" height="2.60" fill="#e67660" />
<rect x="411.70" y="154.38" width="26.45" height="2.60" fill="#6b8fb9" />
<rect x="438.10" y="154.38" width="26.75" height="2.60" fill="#8ca6bb" />
<rect x="359.10" y="156.93" width="26.55" height="2.60" fill="#db6b55" />
<rect x="385.60" y="156.93" width="26.15" height="2.60" fill="#e5755f" />
<rect x="411.70" y="156.93" width="26.45" height="2.60" fill="#7195bf" />
<rect x="438.10" y="156.93" width="26.75" height="2.60" fill="#8ca6bb" />
<rect x="359.10" y="159.49" width="26.55" height="2.60" fill="#e3735d" />
<rect x="385.60" y="159.49" width="26.15" height="2.60" fill="#e3735d" />
<rect x="411.70" y="159.49" width="26.45" height="2.60" fill="#6e92bc" />
<rect x="438.10" y="159.49" width="26.75" height="2.60" fill="#87a1b6" />
<rect x="359.10" y="162.04" width="26.55" height="2.60" fill="#e4745e" />
<rect x="385.60" y="162.04" width="26.15" height="2.60" fill="#e1715b" />
<rect x="411.70" y="162.04" width="26.45" height="2.60" fill="#6d91bb" />
<rect x="438.10" y="162.04" width="26.75" height="2.60" fill="#8ba5ba" />
<rect x="359.10" y="164.59" width="26.55" height="2.60" fill="#e2725c" />
<rect x="385.60" y="164.59" width="26.15" height="2.60" fill="#e4745e" />
<rect x="411.70" y="164.59" width="26.45" height="2.60" fill="#6d91bb" />
<rect x="438.10" y="164.59" width="26.75" height="2.60" fill="#8fa9be" />
<rect x="359.10" y="167.14" width="26.55" height="2.60" fill="#d96953" />
<rect x="385.60" y="167.14" width="26.15" height="2.60" fill="#db6b55" />
<rect x="411.70" y="167.14" width="26.45" height="2.60" fill="#6a8eb8" />
<rect x="438.10" y="167.14" width="26.75" height="2.60" fill="#8ea8bd" />
<rect x="359.10" y="169.69" width="26.55" height="2.60" fill="#dc6c56" />
<rect x="385.60" y="169.69" width="26.15" height="2.60" fill="#e3735d" />
<rect x="411.70" y="169.69" width="26.45" height="2.60" fill="#6d91bb" />
<rect x="438.10" y="169.69" width="26.75" height="2.60" fill="#86a0b5" />
<rect x="359.10" y="172.24" width="26.55" height="2.60" fill="#e0705a" />
<rect x="385.60" y="172.24" width="26.15" height="2.60" fill="#dc6c56" />
<rect x="411.70" y="172.24" width="26.45" height="2.60" fill="#6589b3" />
<rect x="438.10" y="172.24" width="26.75" height="2.60" fill="#87a1b6" />
<rect x="359.10" y="174.80" width="26.55" height="2.60" fill="#dd6d57" />
<rect x="385.60" y="174.80" width="26.15" height="2.60" fill="#dc6c56" />
<rect x="411.70" y="174.80" width="26.45" height="2.60" fill="#678bb5" />
<rect x="438.10" y="174.80" width="26.75" height="2.60" fill="#859fb4" />
<rect x="359.10" y="177.35" width="26.55" height="2.60" fill="#e0705a" />
<rect x="385.60" y="177.35" width="26.15" height="2.60" fill="#de6e58" />
<rect x="411.70" y="177.35" width="26.45" height="2.60" fill="#6d91bb" />
<rect x="438.10" y="177.35" width="26.75" height="2.60" fill="#8da7bc" />
<rect x="359.10" y="179.90" width="26.55" height="2.60" fill="#dc6c56" />
<rect x="385.60" y="179.90" width="26.15" height="2.60" fill="#e67660" />
<rect x="411.70" y="179.90" width="26.45" height="2.60" fill="#6488b2" />
<rect x="438.10" y="179.90" width="26.75" height="2.60" fill="#8ba5ba" />
<rect x="359.10" y="182.45" width="26.55" height="2.60" fill="#ecaf84" />
<rect x="385.60" y="182.45" width="26.15" height="2.60" fill="#d74f3e" />
<rect x="411.70" y="182.45" width="26.45" height="2.60" fill="#87a1b6" />
<rect x="438.10" y="182.45" width="26.75" height="2.60" fill="#91abc0" />
<rect x="359.10" y="185.00" width="26.55" height="2.60" fill="#edb085" />
<rect x="385.60" y="185.00" width="26.15" height="2.60" fill="#d24a39" />
<rect x="411.70" y="185.00" width="26.45" height="2.60" fill="#8ea8bd" />
<rect x="438.10" y="185.00" width="26.75" height="2.60" fill="#86a0b5" />
<rect x="359.10" y="187.56" width="26.55" height="2.60" fill="#f0b388" />
<rect x="385.60" y="187.56" width="26.15" height="2.60" fill="#d64e3d" />
<rect x="411.70" y="187.56" width="26.45" height="2.60" fill="#8da7bc" />
<rect x="438.10" y="187.56" width="26.75" height="2.60" fill="#92acc1" />
<rect x="359.10" y="190.11" width="26.55" height="2.60" fill="#f3b68b" />
<rect x="385.60" y="190.11" width="26.15" height="2.60" fill="#d74f3e" />
<rect x="411.70" y="190.11" width="26.45" height="2.60" fill="#90aabf" />
<rect x="438.10" y="190.11" width="26.75" height="2.60" fill="#8ea8bd" />
<rect x="359.10" y="192.66" width="26.55" height="2.60" fill="#edb085" />
<rect x="385.60" y="192.66" width="26.15" height="2.60" fill="#d34b3a" />
<rect x="411.70" y="192.66" width="26.45" height="2.60" fill="#8da7bc" />
<rect x="438.10" y="192.66" width="26.75" height="2.60" fill="#8da7bc" />
<rect x="359.10" y="195.21" width="26.55" height="2.60" fill="#f5b88d" />
<rect x="385.60" y="195.21" width="26.15" height="2.60" fill="#df5746" />
<rect x="411.70" y="195.21" width="26.45" height="2.60" fill="#8ea8bd" />
<rect x="438.10" y="195.21" width="26.75" height="2.60" fill="#8aa4b9" />
<rect x="359.10" y="197.76" width="26.55" height="2.60" fill="#f5b88d" />
<rect x="385.60" y="197.76" width="26.15" height="2.60" fill="#d14938" />
<rect x="411.70" y="197.76" width="26.45" height="2.60" fill="#87a1b6" />
<rect x="438.10" y="197.76" width="26.75" height="2.60" fill="#8da7bc" />
<rect x="359.10" y="200.31" width="26.55" height="2.60" fill="#f1b489" />
<rect x="385.60" y="200.31" width="26.15" height="2.60" fill="#d34b3a" />
<rect x="411.70" y="200.31" width="26.45" height="2.60" fill="#8ea8bd" />
<rect x="438.10" y="200.31" width="26.75" height="2.60" fill="#91abc0" />
<rect x="359.10" y="202.87" width="26.55" height="2.60" fill="#edb085" />
<rect x="385.60" y="202.87" width="26.15" height="2.60" fill="#d74f3e" />
<rect x="411.70" y="202.87" width="26.45" height="2.60" fill="#88a2b7" />
<rect x="438.10" y="202.87" width="26.75" height="2.60" fill="#89a3b8" />
<rect x="359.10" y="205.42" width="26.55" height="2.60" fill="#f6b98e" />
<rect x="385.60" y="205.42" width="26.15" height="2.60" fill="#d64e3d" />
<rect x="411.70" y="205.42" width="26.45" height="2.60" fill="#92acc1" />
<rect x="438.10" y="205.42" width="26.75" height="2.60" fill="#92acc1" />
<rect x="359.10" y="207.97" width="26.55" height="2.60" fill="#f0b388" />
<rect x="385.60" y="207.97" width="26.15" height="2.60" fill="#d54d3c" />
<rect x="411.70" y="207.97" width="26.45" height="2.60" fill="#93adc2" />
<rect x="438.10" y="207.97" width="26.75" height="2.60" fill="#8ca6bb" />
<rect x="359.10" y="210.52" width="26.55" height="2.60" fill="#eeb186" />
<rect x="385.60" y="210.52" width="26.15" height="2.60" fill="#d54d3c" />
<rect x="411.70" y="210.52" width="26.45" height="2.60" fill="#93adc2" />
<rect x="438.10" y="210.52" width="26.75" height="2.60" fill="#8ca6bb" />
<rect x="359.10" y="213.07" width="26.55" height="2.60" fill="#ecaf84" />
<rect x="385.60" y="213.07" width="26.15" height="2.60" fill="#d8503f" />
<rect x="411.70" y="213.07" width="26.45" height="2.60" fill="#87a1b6" />
<rect x="438.10" y="213.07" width="26.75" height="2.60" fill="#8ea8bd" />
<rect x="359.10" y="215.63" width="26.55" height="2.60" fill="#eeb186" />
<rect x="385.60" y="215.63" width="26.15" height="2.60" fill="#d54d3c" />
<rect x="411.70" y="215.63" width="26.45" height="2.60" fill="#90aabf" />
<rect x="438.10" y="215.63" width="26.75" height="2.60" fill="#91abc0" />
<rect x="359.10" y="218.18" width="26.55" height="2.60" fill="#e8ab80" />
<rect x="385.60" y="218.18" width="26.15" height="2.60" fill="#d8503f" />
<rect x="411.70" y="218.18" width="26.45" height="2.60" fill="#4c79b6" />
<rect x="438.10" y="218.18" width="26.75" height="2.60" fill="#bfceb7" />
<rect x="359.10" y="220.73" width="26.55" height="2.60" fill="#f3b68b" />
<rect x="385.60" y="220.73" width="26.15" height="2.60" fill="#d44c3b" />
<rect x="411.70" y="220.73" width="26.45" height="2.60" fill="#4c79b6" />
<rect x="438.10" y="220.73" width="26.75" height="2.60" fill="#b4c3ac" />
<rect x="359.10" y="223.28" width="26.55" height="2.60" fill="#f6b98e" />
<rect x="385.60" y="223.28" width="26.15" height="2.60" fill="#d54d3c" />
<rect x="411.70" y="223.28" width="26.45" height="2.60" fill="#517ebb" />
<rect x="438.10" y="223.28" width="26.75" height="2.60" fill="#b9c8b1" />
<rect x="359.10" y="225.83" width="26.55" height="2.60" fill="#d2382b" />
<rect x="385.60" y="225.83" width="26.15" height="2.60" fill="#f2e4ae" />
<rect x="411.70" y="225.83" width="26.45" height="2.60" fill="#8fa9be" />
<rect x="438.10" y="225.83" width="26.75" height="2.60" fill="#87a1b6" />
<rect x="359.10" y="228.39" width="26.55" height="2.60" fill="#d43a2d" />
<rect x="385.60" y="228.39" width="26.15" height="2.60" fill="#eee0aa" />
<rect x="411.70" y="228.39" width="26.45" height="2.60" fill="#8ca6bb" />
<rect x="438.10" y="228.39" width="26.75" height="2.60" fill="#8aa4b9" />
<rect x="359.10" y="230.94" width="26.55" height="2.60" fill="#cd3326" />
<rect x="385.60" y="230.94" width="26.15" height="2.60" fill="#f1e3ad" />
<rect x="411.70" y="230.94" width="26.45" height="2.60" fill="#8ca6bb" />
<rect x="438.10" y="230.94" width="26.75" height="2.60" fill="#8aa4b9" />
<rect x="359.10" y="233.49" width="26.55" height="2.60" fill="#d3392c" />
<rect x="385.60" y="233.49" width="26.15" height="2.60" fill="#f2e4ae" />
<rect x="411.70" y="233.49" width="26.45" height="2.60" fill="#86a0b5" />
<rect x="438.10" y="233.49" width="26.75" height="2.60" fill="#89a3b8" />
<rect x="359.10" y="236.04" width="26.55" height="2.60" fill="#d74f3e" />
<rect x="385.60" y="236.04" width="26.15" height="2.60" fill="#f5b88d" />
<rect x="411.70" y="236.04" width="26.45" height="2.60" fill="#91abc0" />
<rect x="438.10" y="236.04" width="26.75" height="2.60" fill="#8da7bc" />
<rect x="359.10" y="238.59" width="26.55" height="2.60" fill="#d14938" />
<rect x="385.60" y="238.59" width="26.15" height="2.60" fill="#f3b68b" />
<rect x="411.70" y="238.59" width="26.45" height="2.60" fill="#8ba5ba" />
<rect x="438.10" y="238.59" width="26.75" height="2.60" fill="#8da7bc" />
<rect x="359.10" y="241.14" width="26.55" height="2.60" fill="#db5342" />
<rect x="385.60" y="241.14" width="26.15" height="2.60" fill="#f1b489" />
<rect x="411.70" y="241.14" width="26.45" height="2.60" fill="#8ca6bb" />
<rect x="438.10" y="241.14" width="26.75" height="2.60" fill="#92acc1" />
<rect x="359.10" y="243.70" width="26.55" height="2.60" fill="#d64e3d" />
<rect x="385.60" y="243.70" width="26.15" height="2.60" fill="#edb085" />
<rect x="411.70" y="243.70" width="26.45" height="2.60" fill="#91abc0" />
<rect x="438.10" y="243.70" width="26.75" height="2.60" fill="#88a2b7" />
<rect x="359.10" y="246.25" width="26.55" height="2.60" fill="#d54d3c" />
<rect x="385.60" y="246.25" width="26.15" height="2.60" fill="#f4b78c" />
<rect x="411.70" y="246.25" width="26.45" height="2.60" fill="#86a0b5" />
<rect x="438.10" y="246.25" width="26.75" height="2.60" fill="#91abc0" />
<path d="M359.1 42.10H464.8 M359.1 47.20H464.8 M359.1 52.31H464.8 M359.1 57.41H464.8 M359.1 62.51H464.8 M359.1 67.62H464.8 M359.1 72.72H464.8 M359.1 77.83H464.8 M359.1 82.93H464.8 M359.1 88.03H464.8 M359.1 93.14H464.8 M359.1 98.24H464.8 M359.1 103.34H464.8 M359.1 108.45H464.8 M359.1 113.55H464.8 M359.1 118.66H464.8 M359.1 123.76H464.8 M359.1 128.86H464.8 M359.1 133.97H464.8 M359.1 139.07H464.8 M359.1 144.17H464.8 M359.1 149.28H464.8 M359.1 154.38H464.8 M359.1 159.49H464.8 M359.1 164.59H464.8 M359.1 169.69H464.8 M359.1 174.80H464.8 M359.1 179.90H464.8 M359.1 185.00H464.8 M359.1 190.11H464.8 M359.1 195.21H464.8 M359.1 200.31H464.8 M359.1 205.42H464.8 M359.1 210.52H464.8 M359.1 215.63H464.8 M359.1 220.73H464.8 M359.1 225.83H464.8 M359.1 230.94H464.8 M359.1 236.04H464.8 M359.1 241.14H464.8 M359.1 246.25H464.8" stroke="#2a3a4a" stroke-opacity="0.6" stroke-width="0.6" fill="none"/>
<path d="M359.1 44.65H464.8 M359.1 49.76H464.8 M359.1 54.86H464.8 M359.1 59.96H464.8 M359.1 65.07H464.8 M359.1 70.17H464.8 M359.1 75.27H464.8 M359.1 80.38H464.8 M359.1 85.48H464.8 M359.1 90.59H464.8 M359.1 95.69H464.8 M359.1 100.79H464.8 M359.1 105.90H464.8 M359.1 111.00H464.8 M359.1 116.10H464.8 M359.1 121.21H464.8 M359.1 126.31H464.8 M359.1 131.41H464.8 M359.1 136.52H464.8 M359.1 141.62H464.8 M359.1 146.73H464.8 M359.1 151.83H464.8 M359.1 156.93H464.8 M359.1 162.04H464.8 M359.1 167.14H464.8 M359.1 172.24H464.8 M359.1 177.35H464.8 M359.1 182.45H464.8 M359.1 187.56H464.8 M359.1 192.66H464.8 M359.1 197.76H464.8 M359.1 202.87H464.8 M359.1 207.97H464.8 M359.1 213.07H464.8 M359.1 218.18H464.8 M359.1 223.28H464.8 M359.1 228.39H464.8 M359.1 233.49H464.8 M359.1 238.59H464.8 M359.1 243.70H464.8 M359.1 248.80H464.8" stroke="#333" stroke-opacity="0.22" stroke-width="0.5" fill="none"/>
<rect x="359.1" y="42.1" width="105.7" height="206.7" fill="none" stroke="#333" stroke-opacity="0.7" stroke-width="0.5"/>
<line x1="359.10" y1="42.10" x2="359.10" y2="248.80" stroke="#333" stroke-width="0.5" stroke-opacity="0.8"/>
<line x1="385.60" y1="42.10" x2="385.60" y2="248.80" stroke="#333" stroke-width="0.5" stroke-opacity="0.8"/>
<line x1="411.70" y1="42.10" x2="411.70" y2="248.80" stroke="#333" stroke-width="0.5" stroke-opacity="0.8"/>
<line x1="438.10" y1="42.10" x2="438.10" y2="248.80" stroke="#333" stroke-width="0.5" stroke-opacity="0.8"/>
<line x1="464.80" y1="42.10" x2="464.80" y2="248.80" stroke="#333" stroke-width="0.5" stroke-opacity="0.8"/>
<rect x="356.6" y="42.1" width="2.2" height="206.7" fill="#fff" stroke="#999" stroke-width="0.4"/>
<g font-size="2.7" fill="#000" stroke="#000" stroke-width="0.1" stroke-opacity="0.6" opacity="0.7"><text x="466.2" y="44.30" textLength="17.0" lengthAdjust="spacingAndGlyphs">XLOC_039110</text><text x="466.2" y="46.85" textLength="17.0" lengthAdjust="spacingAndGlyphs">XLOC_086460</text><text x="466.2" y="49.41" textLength="30.0" lengthAdjust="spacingAndGlyphs">ENSMUSG00000097318.3</text><text x="466.2" y="51.96" textLength="30.0" lengthAdjust="spacingAndGlyphs">ENSMUSG00000094011.3</text><text x="466.2" y="54.51" textLength="17.0" lengthAdjust="spacingAndGlyphs">XLOC_010283</text><text x="466.2" y="57.06" textLength="30.0" lengthAdjust="spacingAndGlyphs">ENSMUSG00000048621.1</text><text x="466.2" y="59.61" textLength="17.0" lengthAdjust="spacingAndGlyphs">XLOC_017553</text><text x="466.2" y="62.16" textLength="17.0" lengthAdjust="spacingAndGlyphs">XLOC_037154</text><text x="466.2" y="64.72" textLength="17.0" lengthAdjust="spacingAndGlyphs">XLOC_012134</text><text x="466.2" y="67.27" textLength="17.0" lengthAdjust="spacingAndGlyphs">XLOC_060122</text><text x="466.2" y="69.82" textLength="17.0" lengthAdjust="spacingAndGlyphs">XLOC_019285</text><text x="466.2" y="72.37" textLength="17.0" lengthAdjust="spacingAndGlyphs">XLOC_047627</text><text x="466.2" y="74.92" textLength="30.0" lengthAdjust="spacingAndGlyphs">ENSMUSG00000073803.9</text><text x="466.2" y="77.48" textLength="17.0" lengthAdjust="spacingAndGlyphs">XLOC_088913</text><text x="466.2" y="80.03" textLength="30.0" lengthAdjust="spacingAndGlyphs">ENSMUSG00000066337.6</text><text x="466.2" y="82.58" textLength="17.0" lengthAdjust="spacingAndGlyphs">XLOC_046348</text><text x="466.2" y="85.13" textLength="17.0" lengthAdjust="spacingAndGlyphs">XLOC_091560</text><text x="466.2" y="87.68" textLength="26.0" lengthAdjust="spacingAndGlyphs">ENSMUSG00000082643.3</text><text x="466.2" y="90.24" textLength="26.0" lengthAdjust="spacingAndGlyphs">ENSMUSG00000098712.8</text><text x="466.2" y="92.79" textLength="17.0" lengthAdjust="spacingAndGlyphs">XLOC_039444</text><text x="466.2" y="95.34" textLength="30.0" lengthAdjust="spacingAndGlyphs">ENSMUSG00000033515.9</text><text x="466.2" y="97.89" textLength="30.0" lengthAdjust="spacingAndGlyphs">ENSMUSG00000043202.6</text><text x="466.2" y="100.44" textLength="26.0" lengthAdjust="spacingAndGlyphs">ENSMUSG00000044309.5</text><text x="466.2" y="102.99" textLength="17.0" lengthAdjust="spacingAndGlyphs">XLOC_018141</text><text x="466.2" y="105.55" textLength="26.0" lengthAdjust="spacingAndGlyphs">ENSMUSG00000082093.4</text><text x="466.2" y="108.10" textLength="30.0" lengthAdjust="spacingAndGlyphs">ENSMUSG00000035489.6</text><text x="466.2" y="110.65" textLength="17.0" lengthAdjust="spacingAndGlyphs">XLOC_010604</text><text x="466.2" y="113.20" textLength="17.0" lengthAdjust="spacingAndGlyphs">XLOC_086358</text><text x="466.2" y="115.75" textLength="26.0" lengthAdjust="spacingAndGlyphs">ENSMUSG00000061077.1</text><text x="466.2" y="118.31" textLength="17.0" lengthAdjust="spacingAndGlyphs">XLOC_006663</text><text x="466.2" y="120.86" textLength="30.0" lengthAdjust="spacingAndGlyphs">ENSMUSG00000028578.8</text><text x="466.2" y="123.41" textLength="26.0" lengthAdjust="spacingAndGlyphs">ENSMUSG00000093762.5</text><text x="466.2" y="125.96" textLength="17.0" lengthAdjust="spacingAndGlyphs">XLOC_097095</text><text x="466.2" y="128.51" textLength="17.0" lengthAdjust="spacingAndGlyphs">XLOC_097502</text><text x="466.2" y="131.06" textLength="17.0" lengthAdjust="spacingAndGlyphs">XLOC_046952</text><text x="466.2" y="133.62" textLength="30.0" lengthAdjust="spacingAndGlyphs">ENSMUSG00000092640.6</text><text x="466.2" y="136.17" textLength="17.0" lengthAdjust="spacingAndGlyphs">XLOC_093261</text><text x="466.2" y="138.72" textLength="30.0" lengthAdjust="spacingAndGlyphs">ENSMUSG00000075056.4</text><text x="466.2" y="141.27" textLength="17.0" lengthAdjust="spacingAndGlyphs">XLOC_077136</text><text x="466.2" y="143.82" textLength="17.0" lengthAdjust="spacingAndGlyphs">XLOC_048100</text><text x="466.2" y="146.38" textLength="30.0" lengthAdjust="spacingAndGlyphs">ENSMUSG00000033874.5</text><text x="466.2" y="148.93" textLength="30.0" lengthAdjust="spacingAndGlyphs">ENSMUSG00000031559.9</text><text x="466.2" y="151.48" textLength="17.0" lengthAdjust="spacingAndGlyphs">XLOC_030564</text><text x="466.2" y="154.03" textLength="17.0" lengthAdjust="spacingAndGlyphs">XLOC_010062</text><text x="466.2" y="156.58" textLength="17.0" lengthAdjust="spacingAndGlyphs">XLOC_085348</text><text x="466.2" y="159.14" textLength="17.0" lengthAdjust="spacingAndGlyphs">XLOC_058618</text><text x="466.2" y="161.69" textLength="30.0" lengthAdjust="spacingAndGlyphs">ENSMUSG00000094553.2</text><text x="466.2" y="164.24" textLength="17.0" lengthAdjust="spacingAndGlyphs">XLOC_017578</text><text x="466.2" y="166.79" textLength="17.0" lengthAdjust="spacingAndGlyphs">XLOC_016927</text><text x="466.2" y="169.34" textLength="17.0" lengthAdjust="spacingAndGlyphs">XLOC_040518</text><text x="466.2" y="171.89" textLength="17.0" lengthAdjust="spacingAndGlyphs">XLOC_075061</text><text x="466.2" y="174.45" textLength="17.0" lengthAdjust="spacingAndGlyphs">XLOC_062589</text><text x="466.2" y="177.00" textLength="30.0" lengthAdjust="spacingAndGlyphs">ENSMUSG00000014690.1</text><text x="466.2" y="179.55" textLength="30.0" lengthAdjust="spacingAndGlyphs">ENSMUSG00000053876.3</text><text x="466.2" y="182.10" textLength="26.0" lengthAdjust="spacingAndGlyphs">ENSMUSG00000083368.9</text><text x="466.2" y="184.65" textLength="26.0" lengthAdjust="spacingAndGlyphs">ENSMUSG00000039235.4</text><text x="466.2" y="187.21" textLength="17.0" lengthAdjust="spacingAndGlyphs">XLOC_005160</text><text x="466.2" y="189.76" textLength="17.0" lengthAdjust="spacingAndGlyphs">XLOC_066716</text><text x="466.2" y="192.31" textLength="17.0" lengthAdjust="spacingAndGlyphs">XLOC_097780</text><text x="466.2" y="194.86" textLength="17.0" lengthAdjust="spacingAndGlyphs">XLOC_034857</text><text x="466.2" y="197.41" textLength="17.0" lengthAdjust="spacingAndGlyphs">XLOC_090659</text><text x="466.2" y="199.96" textLength="30.0" lengthAdjust="spacingAndGlyphs">ENSMUSG00000043888.7</text><text x="466.2" y="202.52" textLength="30.0" lengthAdjust="spacingAndGlyphs">ENSMUSG00000056604.4</text><text x="466.2" y="205.07" textLength="17.0" lengthAdjust="spacingAndGlyphs">XLOC_057084</text><text x="466.2" y="207.62" textLength="30.0" lengthAdjust="spacingAndGlyphs">ENSMUSG00000093978.6</text><text x="466.2" y="210.17" textLength="17.0" lengthAdjust="spacingAndGlyphs">XLOC_005994</text><text x="466.2" y="212.72" textLength="30.0" lengthAdjust="spacingAndGlyphs">ENSMUSG00000062118.8</text><text x="466.2" y="215.28" textLength="17.0" lengthAdjust="spacingAndGlyphs">XLOC_009988</text><text x="466.2" y="217.83" textLength="17.0" lengthAdjust="spacingAndGlyphs">XLOC_079618</text><text x="466.2" y="220.38" textLength="17.0" lengthAdjust="spacingAndGlyphs">XLOC_086634</text><text x="466.2" y="222.93" textLength="17.0" lengthAdjust="spacingAndGlyphs">XLOC_025959</text><text x="466.2" y="225.48" textLength="26.0" lengthAdjust="spacingAndGlyphs">ENSMUSG00000073010.9</text><text x="466.2" y="228.04" textLength="17.0" lengthAdjust="spacingAndGlyphs">XLOC_044629</text><text x="466.2" y="230.59" textLength="17.0" lengthAdjust="spacingAndGlyphs">XLOC_038936</text><text x="466.2" y="233.14" textLength="17.0" lengthAdjust="spacingAndGlyphs">XLOC_018955</text><text x="466.2" y="235.69" textLength="17.0" lengthAdjust="spacingAndGlyphs">XLOC_007894</text><text x="466.2" y="238.24" textLength="17.0" lengthAdjust="spacingAndGlyphs">XLOC_049307</text><text x="466.2" y="240.79" textLength="17.0" lengthAdjust="spacingAndGlyphs">XLOC_029609</text><text x="466.2" y="243.35" textLength="17.0" lengthAdjust="spacingAndGlyphs">XLOC_040761</text><text x="466.2" y="245.90" textLength="17.0" lengthAdjust="spacingAndGlyphs">XLOC_039132</text><text x="466.2" y="248.45" textLength="17.0" lengthAdjust="spacingAndGlyphs">XLOC_046560</text></g>
<defs><linearGradient id="lg2" x1="0" y1="0" x2="0" y2="1"><stop offset="0" stop-color="#d73027"/><stop offset="0.5" stop-color="#fee090"/><stop offset="1" stop-color="#4575b4"/></linearGradient></defs>
<rect x="501.60" y="41.70" width="1.80" height="10.50" fill="url(#lg2)" />
<text x="504.20" y="43.90" font-size="2.9" text-anchor="start" fill="#000" stroke="#000" stroke-width="0.12">1.79</text>
<text x="504.20" y="47.90" font-size="2.9" text-anchor="start" fill="#000" stroke="#000" stroke-width="0.12">0.09</text>
<text x="504.20" y="51.90" font-size="2.9" text-anchor="start" fill="#000" stroke="#000" stroke-width="0.12">-1.60</text>
<text x="370" y="253" font-size="4" fill="#333" transform="rotate(40 370 253)">ctrl_1</text>
<text x="396" y="253" font-size="4" fill="#333" transform="rotate(40 396 253)">ctrl_2</text>
<text x="422" y="253" font-size="4" fill="#333" transform="rotate(40 422 253)">IR_1</text>
<text x="449" y="253" font-size="4" fill="#333" transform="rotate(40 449 253)">IR_2</text>
<path d="M260.3 229.7h0M237.7 221.3h0M250.2 221.4h0M254.4 227.9h0M265.0 208.1h0M239.4 212.2h0M285.2 215.2h0M266.6 213.9h0M258.6 232.8h0M262.5 215.2h0M249.6 213.8h0M265.4 208.3h0M265.3 214.2h0M253.2 229.2h0M243.2 211.5h0M254.3 228.6h0M261.2 221.4h0M266.1 208.4h0M266.6 207.5h0M260.7 221.2h0M257.3 231.5h0M253.8 232.0h0M253.2 225.7h0M262.3 229.6h0M260.1 225.3h0M251.2 229.6h0M250.0 224.2h0M246.4 209.1h0M238.1 206.4h0M264.2 221.0h0M247.6 208.0h0M260.5 232.0h0M260.7 221.2h0M258.7 227.3h0M258.7 227.6h0M241.8 225.2h0M263.1 213.7h0M257.7 230.4h0M262.3 228.5h0M267.0 209.6h0M266.0 209.0h0M261.5 219.7h0M267.1 214.4h0M246.8 207.5h0M248.3 225.5h0M265.5 218.3h0M249.5 213.5h0M255.0 231.4h0M250.7 216.7h0M257.8 230.9h0M262.7 219.6h0M247.9 209.5h0M243.9 210.4h0M248.7 219.3h0M247.1 220.6h0M261.0 233.4h0M247.3 223.6h0M262.0 228.0h0M253.4 227.7h0M271.7 209.1h0M275.5 212.0h0M253.8 231.4h0M264.2 214.0h0M250.9 217.2h0M247.7 211.6h0M259.4 225.7h0M253.4 231.9h0M266.4 211.8h0M267.6 207.7h0M261.1 220.3h0M256.9 233.0h0M262.3 226.9h0M251.0 221.9h0M250.8 225.5h0M248.0 207.2h0M261.1 229.5h0M268.5 209.4h0M264.1 213.3h0M266.1 208.6h0M252.7 224.0h0M261.4 228.8h0M255.3 231.5h0M262.8 226.1h0M237.7 221.8h0M258.4 229.7h0M252.7 225.3h0M268.1 207.6h0M238.1 207.7h0M249.2 220.5h0M259.3 226.8h0M261.5 223.7h0M265.7 217.4h0M262.6 215.9h0M247.9 206.8h0M263.6 211.8h0M250.6 220.7h0M261.0 222.4h0M255.9 233.4h0M260.3 226.0h0M255.8 233.5h0M266.4 212.3h0M254.6 232.5h0M247.8 209.6h0M272.2 212.0h0M255.8 233.2h0M248.0 209.1h0M262.8 220.8h0M264.1 212.1h0M258.6 230.0h0M247.2 217.1h0M252.0 229.2h0M259.2 229.1h0M258.6 229.8h0M264.0 212.4h0M259.2 231.2h0M249.1 223.3h0M250.7 220.0h0M251.2 228.3h0M251.2 217.7h0M260.1 224.4h0M239.2 210.6h0M246.4 215.6h0M238.1 216.5h0M268.0 223.8h0M239.8 212.2h0M260.2 229.5h0M249.2 213.4h0M266.1 206.9h0M272.1 206.2h0M272.3 213.8h0M253.2 227.8h0M265.4 215.8h0M279.4 206.3h0M244.7 213.4h0M264.0 228.5h0M251.5 220.3h0M267.6 216.1h0M248.9 213.5h0M260.9 222.7h0M249.9 221.4h0M247.7 221.9h0M263.9 225.2h0M230.6 213.9h0M259.7 224.1h0M266.6 212.7h0M244.7 206.2h0M268.8 210.0h0M254.5 233.0h0M263.0 221.8h0M246.4 222.2h0M267.2 213.5h0M268.9 214.0h0M244.5 208.3h0M249.7 225.3h0M253.9 227.6h0M264.2 211.1h0M248.6 217.4h0M258.2 230.5h0M271.9 215.4h0M251.3 220.1h0M254.4 230.3h0M248.8 211.3h0M224.8 209.7h0M260.2 228.0h0M262.9 219.7h0M257.1 233.1h0M262.9 223.4h0M250.8 221.9h0M263.3 228.0h0M248.1 212.8h0M251.2 230.0h0M260.2 225.5h0M265.9 207.2h0M250.5 230.1h0M254.1 228.3h0M262.5 216.6h0M253.5 230.7h0M255.0 231.7h0M250.9 218.8h0M249.8 218.5h0M274.6 207.3h0M260.1 223.0h0M260.5 223.4h0M241.8 208.3h0M262.0 227.4h0M250.8 219.9h0M262.7 224.3h0M259.9 223.8h0M252.2 226.6h0M243.7 211.5h0M258.9 230.1h0M265.1 227.0h0M258.6 232.5h0M258.0 231.2h0M248.6 209.6h0M263.9 217.1h0M247.7 212.9h0M254.1 228.8h0M257.9 229.7h0M264.3 212.8h0M260.0 224.7h0M246.0 215.0h0M262.0 221.3h0M247.2 209.0h0M241.8 213.5h0M259.6 227.6h0M249.4 224.1h0M262.2 233.0h0M250.6 228.5h0M241.6 209.9h0M269.9 206.7h0M237.9 216.0h0M263.8 216.3h0M245.2 208.2h0M252.7 232.5h0M251.4 229.7h0M257.3 232.5h0M264.3 220.4h0M266.4 209.9h0M252.2 223.7h0M260.5 233.4h0M267.9 206.7h0M272.6 208.9h0M260.1 230.5h0M247.5 217.0h0M270.1 211.5h0M258.0 229.8h0M246.9 212.4h0M255.4 232.7h0M245.0 218.6h0M245.3 210.7h0M248.0 228.9h0M260.1 226.0h0M268.8 214.2h0M247.9 210.4h0M264.0 225.6h0M227.9 212.9h0M258.7 231.7h0M249.8 215.2h0M243.6 217.4h0M238.5 208.7h0M246.0 219.1h0M243.0 208.8h0M258.5 232.9h0M246.5 214.4h0M257.3 232.2h0M264.6 223.3h0M261.3 221.0h0M252.9 226.3h0M247.7 208.3h0M262.4 223.2h0M266.2 213.0h0M249.7 230.9h0M248.8 216.7h0M249.0 221.5h0M248.7 221.5h0M261.3 225.8h0M263.9 213.5h0M254.6 229.4h0M269.6 214.3h0M261.5 221.2h0M249.2 227.4h0M250.9 218.9h0M249.5 219.6h0M248.3 219.2h0M263.6 215.0h0M263.2 215.2h0M264.7 214.7h0M275.8 209.3h0M264.3 217.0h0M251.3 218.3h0M269.0 224.5h0M251.0 219.9h0M250.1 229.8h0M255.0 231.2h0M264.6 218.4h0M250.2 214.4h0M260.9 232.5h0M251.0 218.8h0M261.7 223.6h0M255.5 232.7h0M269.3 208.0h0M265.3 222.2h0M249.9 224.0h0M254.4 228.7h0M247.4 206.7h0M262.0 224.0h0M264.7 212.2h0M263.8 211.7h0M263.7 213.1h0M250.8 220.3h0M258.6 231.3h0M264.8 222.1h0M246.6 209.6h0M245.6 216.6h0M263.9 213.8h0M259.4 227.2h0M266.8 207.9h0M252.5 225.1h0M269.7 210.8h0M258.9 226.7h0M262.1 217.0h0M264.4 230.9h0M261.7 221.6h0M258.6 228.1h0M245.8 210.6h0M246.4 208.2h0M261.9 223.4h0M248.3 209.0h0M262.5 217.4h0M248.3 212.2h0M252.0 228.7h0M260.5 228.8h0M248.4 217.9h0M272.7 208.3h0M272.3 211.3h0M245.3 213.2h0M238.9 211.1h0M265.1 212.1h0M263.6 224.2h0M252.0 226.9h0M259.5 230.6h0M271.7 218.2h0M249.8 221.7h0M253.3 227.0h0M250.2 225.7h0M253.2 230.5h0M247.3 211.2h0M239.3 220.1h0M250.0 227.3h0M261.2 225.0h0M245.7 208.8h0M262.9 216.9h0M250.8 216.0h0M275.4 212.1h0M253.4 229.7h0M253.8 227.3h0M253.8 227.3h0M245.8 208.7h0M250.2 216.8h0M260.6 224.4h0M244.6 210.1h0M259.8 226.7h0M247.2 223.9h0M268.9 217.9h0M257.5 232.9h0M259.3 227.3h0M262.2 217.9h0M254.3 233.3h0M246.8 212.1h0M247.4 222.8h0M264.7 220.2h0M253.4 228.1h0M258.4 230.9h0M251.8 222.8h0M255.2 233.2h0M249.1 211.4h0M260.9 225.3h0M267.1 206.6h0M242.5 211.5h0M247.9 220.4h0M250.8 221.0h0M251.9 231.9h0M266.3 213.0h0M267.5 206.3h0M252.4 225.8h0M249.1 218.7h0M264.8 212.3h0M264.1 219.7h0M254.9 233.1h0M249.1 222.2h0M249.4 214.3h0M262.7 215.1h0M262.3 217.5h0M258.2 228.7h0M258.4 231.8h0M259.4 232.8h0M248.0 209.1h0M233.2 216.4h0M261.8 218.9h0M253.8 228.9h0M260.1 223.2h0M263.4 218.1h0M245.8 207.9h0M246.3 206.7h0M266.6 221.2h0M260.2 226.5h0M247.8 217.0h0M254.5 232.8h0M242.3 213.2h0M252.1 224.4h0M239.0 207.1h0M243.9 214.3h0M260.8 224.9h0M254.6 230.2h0M247.8 214.1h0M264.5 216.7h0M253.8 227.3h0M265.4 206.8h0M259.6 231.8h0M247.7 209.2h0M265.4 228.0h0M258.2 229.3h0M265.0 226.0h0M257.8 230.1h0M265.0 210.0h0M265.5 217.4h0M248.5 209.8h0M265.3 212.1h0M263.4 222.0h0M251.1 227.0h0M249.5 214.9h0M272.4 216.7h0M245.1 208.8h0M248.5 225.4h0M259.0 226.2h0M272.3 214.3h0M245.4 206.7h0M244.5 206.3h0M246.5 210.0h0M249.4 230.5h0M254.8 230.4h0M272.2 207.2h0M262.9 229.2h0M247.8 221.0h0M254.0 230.8h0M264.1 211.3h0M258.5 229.8h0M261.4 220.7h0M251.9 224.3h0M256.0 233.4h0M248.3 212.2h0M261.2 227.0h0M245.4 213.8h0M265.0 211.9h0M251.8 223.8h0M263.8 217.8h0M257.6 231.3h0M246.8 225.6h0M261.9 222.0h0M255.5 231.8h0M255.2 230.7h0M266.7 214.5h0M272.1 207.7h0M263.2 223.4h0M240.9 211.4h0M248.5 217.3h0M248.1 218.1h0M251.4 220.8h0M254.3 231.7h0M263.0 213.8h0M267.0 210.4h0M252.4 222.9h0M259.3 232.0h0M243.5 228.0h0M265.3 231.3h0M249.8 222.2h0M257.0 232.5h0M249.0 213.4h0M244.8 213.5h0M268.4 210.6h0M251.1 220.0h0M257.9 232.1h0M267.0 209.1h0M264.9 228.4h0M265.7 209.2h0M266.9 221.5h0M247.8 209.3h0M248.6 225.3h0M260.0 226.0h0M249.3 212.2h0M266.3 219.0h0M260.3 227.8h0M252.7 224.2h0M258.1 229.2h0M248.4 209.3h0M265.2 217.2h0M264.5 211.3h0M255.1 232.3h0M263.9 226.1h0M263.7 225.0h0M249.7 227.7h0M254.4 232.4h0M247.3 206.2h0M264.6 209.4h0M249.9 221.6h0M246.6 226.6h0M254.3 232.3h0M262.6 232.3h0M254.4 230.4h0M273.7 213.7h0M266.5 231.3h0M260.2 229.9h0M249.3 216.0h0M270.4 211.8h0M239.1 207.2h0M255.6 232.2h0M262.6 222.5h0M270.4 209.8h0M249.1 217.5h0M268.3 214.2h0M265.8 213.4h0M252.0 221.7h0M265.4 217.2h0M242.6 223.1h0M248.1 211.4h0M263.3 214.3h0M260.3 232.2h0M244.8 224.0h0M251.2 231.8h0M242.9 225.0h0M265.4 207.4h0M253.1 231.2h0M241.9 211.6h0M253.9 230.0h0M241.2 217.7h0M260.1 222.8h0M250.5 227.1h0M228.5 213.4h0M269.5 229.3h0M253.7 229.1h0M260.1 227.7h0M250.8 224.0h0M249.6 217.3h0M266.8 207.5h0M268.7 208.2h0M251.3 225.1h0M249.1 211.5h0M264.2 227.9h0M246.9 216.4h0M247.4 208.6h0M246.6 213.7h0M251.0 217.1h0M258.6 228.8h0M268.6 216.8h0M259.9 227.5h0M245.4 209.7h0M259.9 231.3h0M262.6 223.2h0M252.4 228.8h0M253.4 231.1h0M265.6 207.8h0M267.8 213.2h0M248.3 216.9h0M261.3 228.7h0M265.8 229.9h0M265.8 206.2h0M265.0 210.1h0M249.5 215.2h0M274.2 213.4h0M266.2 212.0h0M251.3 218.6h0M268.6 214.3h0M261.7 219.5h0M249.3 223.5h0M250.2 215.8h0M271.4 206.3h0M266.2 220.1h0M251.8 220.7h0M255.2 233.3h0M269.8 217.9h0M274.8 225.2h0M240.5 214.9h0M251.6 225.9h0M264.6 216.9h0M241.4 210.3h0M250.3 218.7h0M258.3 231.4h0M230.8 215.5h0M267.3 207.3h0M262.0 218.3h0M265.9 219.4h0M253.4 230.9h0M246.2 206.4h0M259.4 233.2h0M248.3 226.6h0M264.2 232.0h0M265.7 208.1h0M249.5 213.1h0M247.8 220.5h0M269.3 216.9h0M252.5 227.6h0M264.0 219.5h0M267.2 210.0h0M249.7 224.6h0M264.3 213.2h0M270.1 226.5h0M266.1 215.1h0M267.2 211.9h0M259.2 228.2h0M258.8 228.0h0M274.1 221.5h0M254.4 231.7h0M267.1 213.1h0M246.3 206.1h0M247.8 218.2h0M258.3 231.6h0M264.6 213.2h0M255.8 233.4h0M253.9 226.9h0M252.0 226.4h0M246.3 211.5h0M250.5 218.0h0M265.2 210.6h0M257.7 232.8h0M253.7 228.2h0M259.9 224.4h0M267.0 219.9h0M247.7 215.1h0M260.3 226.7h0M237.9 207.2h0M262.5 225.2h0M251.3 222.6h0M265.5 218.9h0M272.3 207.5h0M248.3 222.7h0M245.8 211.0h0M239.5 215.5h0M252.0 221.2h0M244.6 216.6h0M259.0 229.9h0M273.7 209.0h0M271.2 206.2h0M241.2 221.7h0M249.9 222.1h0M263.2 219.7h0M257.8 231.5h0M254.5 232.7h0M275.3 213.4h0M246.8 216.6h0M253.4 227.2h0M248.9 223.3h0M247.2 208.4h0M255.2 231.3h0M267.8 221.2h0M250.1 228.1h0M250.1 231.9h0M252.3 221.0h0M270.2 217.3h0M263.9 223.9h0M261.2 224.2h0M259.6 230.0h0M252.2 222.6h0M248.1 208.8h0M240.1 218.9h0M249.8 213.7h0M248.2 209.8h0M259.6 231.8h0M253.6 228.2h0M261.1 220.4h0M240.1 215.4h0M265.8 213.3h0M261.5 219.7h0M245.8 210.4h0M264.9 207.7h0M258.1 231.0h0M253.2 224.9h0M258.8 228.0h0M244.3 213.3h0M247.1 224.4h0M261.3 223.8h0M250.5 217.0h0M257.5 232.6h0M258.8 228.3h0M252.5 223.8h0M262.0 227.7h0M248.8 222.4h0M253.8 233.3h0M270.5 207.2h0M246.6 210.7h0M245.3 207.6h0M265.1 216.2h0M262.0 216.6h0M257.9 232.0h0M259.7 227.3h0M260.0 224.4h0M257.8 232.9h0M253.7 228.3h0M267.2 212.7h0M263.3 221.1h0M245.1 208.0h0M252.5 231.2h0M262.7 221.9h0M276.6 210.9h0M257.7 230.3h0M251.1 228.3h0M262.7 222.6h0M269.3 211.9h0M248.0 215.4h0M253.1 232.4h0M252.1 224.3h0M240.7 221.6h0M262.7 226.2h0M262.5 215.4h0M249.4 212.2h0M246.5 219.8h0M244.1 209.4h0M259.2 233.0h0M267.4 214.6h0M253.1 230.0h0M260.8 231.0h0M264.3 210.6h0M254.3 228.8h0M245.2 217.1h0M249.2 212.8h0M263.0 214.3h0M251.4 221.7h0M265.9 225.0h0M264.8 211.7h0M250.8 220.7h0M251.0 227.6h0M233.1 212.3h0M252.1 226.1h0M245.9 207.2h0M244.5 209.0h0M248.0 223.0h0M253.5 230.2h0M250.5 220.1h0M245.1 222.4h0M246.2 214.0h0M244.9 223.5h0M268.2 210.9h0M269.7 219.7h0M261.8 233.5h0M264.2 219.5h0M263.9 213.3h0M248.7 210.3h0M262.4 220.8h0M252.5 230.5h0M248.0 223.9h0M261.1 224.0h0M267.5 211.0h0M249.3 211.9h0M259.9 232.1h0M245.1 210.2h0M259.8 232.1h0M245.0 213.2h0M246.2 215.1h0M254.5 228.5h0M248.5 214.3h0M251.1 217.9h0M263.3 219.4h0M277.7 208.5h0M258.8 229.5h0M254.2 227.9h0M262.7 216.5h0M266.7 216.7h0M247.3 222.6h0M265.1 219.2h0M270.3 207.0h0M247.5 218.8h0M271.7 219.4h0M253.0 226.8h0M254.1 227.1h0M252.1 229.2h0M253.4 228.8h0M265.6 228.4h0M237.5 213.5h0M249.9 221.2h0M251.1 233.1h0M277.6 218.1h0M265.8 224.1h0M248.1 208.1h0M266.9 212.7h0M264.0 223.8h0M262.0 221.5h0M266.6 220.4h0M259.6 230.0h0M263.2 216.1h0M263.0 217.0h0M242.2 221.9h0M265.7 215.2h0M251.8 227.1h0M262.3 219.7h0M257.5 232.3h0M250.8 218.1h0M246.8 206.6h0M248.0 219.2h0M241.4 209.7h0M258.4 231.8h0M249.6 212.5h0M242.0 212.4h0M265.2 208.3h0M250.7 216.2h0M264.7 212.9h0M259.1 230.8h0M262.6 227.5h0M261.4 233.2h0M251.2 219.5h0M268.1 226.8h0M262.0 219.2h0M261.6 229.3h0M265.3 206.4h0M254.6 231.6h0M243.7 207.2h0M253.5 229.6h0M264.0 215.6h0M273.5 207.9h0M268.5 218.6h0M248.0 218.1h0M253.4 225.4h0M258.9 233.2h0M265.2 212.9h0M264.6 213.9h0M248.2 218.5h0M255.8 232.8h0M263.6 216.5h0M265.9 212.6h0M259.3 227.7h0M254.9 233.1h0M274.6 212.7h0M258.7 231.9h0M249.8 220.8h0M250.2 220.8h0M249.5 227.4h0M254.4 228.3h0M265.1 229.1h0M253.7 229.1h0M261.6 227.7h0M253.2 228.8h0M254.1 233.4h0M270.9 214.7h0M260.0 225.7h0M258.9 229.9h0M264.2 215.9h0M263.4 225.4h0M258.5 231.1h0M264.4 210.8h0M241.6 209.1h0M248.0 211.4h0M265.7 216.5h0M259.7 228.2h0M245.0 208.2h0M262.6 219.1h0M246.7 213.9h0M247.0 210.2h0M271.8 216.7h0M235.2 210.2h0M252.8 222.7h0M252.7 231.1h0M257.2 233.2h0M247.3 206.8h0M266.0 215.4h0M250.8 222.5h0M248.1 211.8h0M250.9 223.0h0M263.9 211.9h0M246.0 208.2h0M247.9 222.3h0M264.2 210.1h0M271.2 216.0h0M243.8 230.7h0M270.8 227.7h0M248.2 209.8h0M264.0 215.6h0M248.8 210.0h0M264.1 221.1h0M249.0 219.1h0M257.5 231.6h0M268.0 214.7h0M250.0 223.2h0M264.0 228.5h0M255.7 232.4h0M264.1 213.2h0M268.2 221.9h0M263.9 221.0h0M243.8 208.9h0M262.3 232.8h0M248.5 208.8h0M247.7 215.8h0M259.9 226.7h0M246.2 210.6h0M254.1 230.5h0M241.1 206.4h0M250.2 221.7h0M244.3 207.7h0M262.0 220.4h0M254.4 230.4h0M249.8 214.8h0M240.0 218.4h0M264.5 212.9h0M258.3 228.9h0M255.3 231.7h0M267.8 210.2h0M267.7 211.0h0M262.2 222.0h0M241.5 214.3h0M265.9 226.8h0M251.5 227.9h0M251.9 221.9h0M269.6 206.7h0M255.4 233.0h0M250.1 216.6h0M266.8 222.8h0M264.9 213.2h0M280.1 211.2h0M250.9 224.0h0M247.0 214.7h0M254.3 229.4h0M254.1 233.3h0M257.7 232.5h0M261.9 222.6h0M262.0 219.2h0M253.1 224.7h0M250.6 225.7h0M261.2 224.5h0M252.3 223.0h0M254.1 229.6h0M271.2 209.2h0M271.5 208.5h0M257.6 232.2h0M265.2 210.3h0M255.5 233.2h0M246.5 210.5h0M262.6 227.8h0M242.3 208.3h0M257.3 233.1h0M260.6 231.3h0M244.5 211.8h0M251.1 219.2h0M250.5 215.2h0M250.4 224.0h0M242.7 213.6h0M251.5 219.1h0M248.3 209.4h0M252.8 224.0h0M257.9 230.1h0M251.2 221.3h0M254.0 232.1h0M272.8 207.5h0M254.7 232.4h0M240.5 209.2h0M261.0 224.4h0M263.1 220.1h0M265.1 208.5h0M239.3 217.2h0M249.7 221.1h0M265.8 227.0h0M250.7 223.4h0M251.4 227.0h0M248.0 220.5h0M261.7 232.5h0M255.6 232.4h0M254.2 228.4h0M232.0 215.8h0M252.2 227.4h0M246.9 215.2h0M248.2 228.3h0M248.8 217.8h0M261.6 220.2h0M258.0 232.2h0M263.7 212.6h0M259.1 228.5h0M262.6 219.2h0M276.3 209.2h0M265.0 227.7h0M247.5 219.4h0M266.7 209.7h0M263.9 221.4h0M258.7 233.4h0M251.4 226.9h0M262.1 222.1h0M259.2 226.4h0M251.0 222.6h0M250.8 217.3h0M262.3 223.0h0M248.6 215.2h0M264.0 231.0h0M255.9 233.0h0M268.8 215.6h0M246.6 219.6h0M250.8 228.4h0M246.7 220.1h0M267.2 209.0h0M275.9 214.1h0M264.9 207.8h0M252.0 220.3h0M253.5 227.8h0M253.2 224.6h0M243.4 223.3h0M250.9 222.5h0M258.8 228.7h0M263.2 220.9h0M246.8 214.0h0M247.5 206.6h0M239.6 208.1h0M263.2 217.0h0M254.4 229.5h0M261.3 232.2h0M257.4 231.5h0M247.4 215.9h0M272.8 212.2h0M241.0 223.7h0M253.3 226.4h0M257.5 232.5h0M246.4 216.9h0M248.7 212.8h0M242.5 210.3h0M263.7 217.3h0M261.0 225.1h0M267.6 217.3h0M267.3 220.3h0M263.7 215.0h0M262.0 219.1h0M262.8 226.5h0M272.7 209.9h0M251.0 222.0h0M268.6 219.7h0M247.3 214.1h0M260.1 225.8h0M272.3 212.0h0M265.9 221.6h0M248.7 230.5h0M258.6 228.6h0M253.7 228.7h0M249.6 227.9h0M277.8 209.1h0M245.7 212.8h0M260.3 224.1h0M248.2 218.9h0M251.3 221.1h0M270.6 211.7h0M252.3 225.2h0M258.8 231.5h0M263.9 225.9h0M268.6 209.1h0M251.4 225.6h0M258.8 228.6h0M269.0 213.6h0M271.1 206.8h0M265.6 209.2h0M240.2 222.0h0M261.8 223.9h0M267.5 215.7h0M265.5 210.4h0M244.3 210.8h0M247.4 212.9h0M269.0 212.3h0M272.2 209.8h0M254.3 230.6h0M246.5 217.2h0M266.0 223.8h0M246.9 218.1h0M251.1 225.1h0M239.4 219.9h0M249.9 215.0h0M237.2 211.5h0M252.5 233.0h0M247.0 207.1h0M266.5 223.6h0M267.8 210.1h0M254.0 230.5h0M264.5 230.6h0M246.7 229.4h0M260.8 225.3h0M252.6 225.5h0M263.3 214.8h0M267.6 212.1h0M249.7 231.3h0M252.9 223.0h0M246.9 221.9h0M266.6 206.5h0M264.5 216.3h0M249.8 219.6h0M247.3 214.4h0M249.6 212.5h0M268.4 213.0h0M257.8 233.1h0M258.3 231.3h0M263.8 226.3h0M258.7 231.1h0M264.2 223.4h0M247.0 225.1h0M262.3 217.5h0M263.2 220.6h0M259.0 226.9h0M263.7 214.8h0M253.3 226.2h0M259.6 230.4h0M252.9 225.6h0M235.1 215.4h0M264.9 207.4h0M254.7 231.8h0M247.8 213.8h0M264.8 216.0h0M254.2 230.8h0M259.4 232.3h0M269.5 220.3h0M253.7 228.3h0M248.0 226.5h0M255.1 230.4h0M239.9 212.7h0M246.2 227.2h0M254.3 228.5h0M262.3 217.5h0M265.7 211.0h0M254.4 229.0h0M266.0 215.3h0M246.7 215.7h0M268.3 206.5h0M259.2 231.8h0M266.9 207.7h0M257.3 232.6h0M261.2 219.9h0M264.2 213.9h0M263.1 232.6h0M264.2 215.8h0M260.7 224.4h0M257.9 231.5h0M263.9 212.3h0M266.8 226.8h0M266.8 221.3h0M249.5 217.2h0M260.0 226.6h0M265.5 223.8h0M259.9 223.9h0M273.8 223.5h0M257.6 231.0h0M257.7 233.3h0M265.5 207.6h0M250.5 222.4h0M284.3 206.6h0M264.9 211.5h0M247.5 209.8h0M269.9 215.1h0M248.9 216.0h0M252.6 231.0h0M266.2 217.9h0M253.6 227.8h0M248.9 213.2h0M259.6 232.4h0M250.9 221.7h0M253.6 228.9h0M251.5 225.5h0M254.2 229.9h0M266.2 216.8h0M258.9 228.4h0M252.9 224.3h0M248.7 209.8h0M251.8 228.0h0M278.1 214.8h0M250.9 226.2h0M253.6 233.5h0M237.2 206.2h0M242.9 209.2h0M252.8 233.4h0M252.4 223.8h0M265.0 207.5h0M262.2 227.1h0M250.6 217.2h0M259.7 227.1h0M269.0 210.5h0M246.6 216.9h0M253.4 231.7h0M253.5 226.0h0M244.0 206.1h0M241.9 208.7h0M246.5 213.2h0M262.8 215.9h0M263.3 224.7h0M269.3 206.4h0M264.6 216.9h0M252.9 226.5h0M244.7 208.8h0M258.3 231.9h0M245.8 218.4h0M260.6 224.7h0M267.5 206.9h0M247.4 214.1h0M245.7 208.7h0M260.8 221.5h0M240.6 212.0h0M245.5 215.1h0M258.9 227.3h0M248.4 212.5h0M258.7 232.7h0M265.5 209.5h0M268.3 216.6h0M258.9 232.9h0M252.1 224.0h0M247.5 221.9h0M263.8 231.9h0M250.6 220.9h0M263.1 228.6h0M261.4 226.7h0M243.3 208.9h0M248.3 220.0h0M239.6 218.0h0M245.8 207.9h0M262.7 216.1h0M248.6 209.8h0M260.1 230.2h0M247.8 218.8h0M257.1 233.4h0M254.0 228.9h0M248.0 209.1h0M259.8 224.5h0M265.6 210.1h0M266.2 207.5h0M256.8 233.0h0M251.4 228.1h0M273.0 207.4h0M258.9 227.2h0M265.4 220.6h0M260.1 224.2h0M263.0 218.2h0M262.1 224.0h0M264.4 225.0h0M259.8 223.7h0M258.5 231.7h0M263.0 218.3h0M248.0 208.8h0M261.4 223.1h0M265.4 221.1h0M262.1 232.8h0M254.9 231.7h0M245.2 212.9h0M259.9 225.3h0M264.8 208.5h0M263.9 232.5h0M247.7 230.1h0M252.1 220.4h0M266.1 209.1h0M255.3 232.2h0M273.0 211.1h0M241.6 211.2h0M258.7 231.2h0M261.3 225.0h0M257.1 232.7h0M254.5 228.2h0M253.3 228.1h0M259.5 225.2h0M251.4 219.2h0M265.7 210.9h0M272.4 208.4h0M252.3 226.7h0M254.6 232.0h0M266.5 215.1h0M254.6 233.2h0M260.3 227.2h0M245.5 218.8h0M258.9 230.5h0M261.3 220.0h0M254.3 231.6h0M246.3 223.6h0M251.6 231.4h0M252.2 222.4h0M249.7 217.3h0M238.9 212.5h0M244.2 206.7h0M264.4 214.5h0M259.2 228.4h0M249.5 221.1h0M253.4 227.4h0M258.3 229.4h0M248.6 225.9h0M248.6 216.6h0M263.9 231.0h0M257.7 233.5h0M263.3 226.0h0M261.1 224.4h0M262.6 233.1h0M252.1 233.4h0M266.2 207.0h0M248.0 210.8h0M269.2 210.7h0M258.1 233.3h0M253.0 231.5h0M263.3 224.9h0M269.2 213.1h0M267.6 211.4h0M248.3 215.0h0M263.2 218.3h0M275.5 209.6h0M259.6 227.6h0M252.1 230.6h0M260.8 223.6h0M249.1 216.8h0M267.5 214.5h0M250.5 222.7h0M254.1 227.2h0M255.4 232.9h0M254.2 231.5h0M264.4 209.4h0M249.5 214.3h0M248.8 213.9h0M253.8 231.6h0M250.3 220.0h0M264.3 217.6h0M258.6 229.0h0M252.9 227.5h0M251.4 232.0h0M258.1 230.2h0M260.3 227.1h0M245.8 221.5h0M265.8 213.6h0M246.5 213.6h0M251.2 224.9h0M248.1 207.9h0M254.6 229.7h0M266.4 220.4h0M249.1 210.9h0M260.1 226.8h0M248.3 225.4h0M271.6 212.3h0M253.2 227.2h0M247.8 216.8h0M266.1 220.5h0M249.9 226.6h0M243.2 211.7h0M262.1 222.6h0M243.4 213.1h0M251.5 230.8h0M254.6 230.6h0M264.0 221.3h0M251.6 222.8h0M273.5 213.2h0M251.5 222.5h0M268.9 208.6h0M264.5 226.8h0M252.3 221.4h0M253.5 224.9h0M261.4 230.4h0M274.8 216.2h0M251.5 219.6h0M250.7 220.1h0M248.9 233.1h0M253.4 229.6h0M244.1 211.2h0M253.8 226.6h0M257.9 232.8h0M248.5 212.9h0M237.8 227.5h0M264.7 215.7h0M253.9 232.2h0M253.1 224.1h0M258.8 227.4h0M260.8 230.1h0M262.0 220.6h0M260.8 226.2h0M253.2 224.0h0M252.7 225.4h0M245.6 210.7h0M259.9 224.1h0M263.2 216.2h0M248.5 221.1h0M260.0 224.4h0M251.8 225.6h0M253.0 224.1h0M263.6 221.0h0M271.9 209.4h0M236.6 206.3h0M245.1 213.7h0M266.5 223.3h0M262.5 224.3h0M265.0 212.9h0M265.8 221.8h0M266.6 211.5h0M252.7 229.1h0M246.8 206.2h0M267.9 207.7h0M258.5 229.5h0M250.7 216.6h0M248.5 219.3h0M249.5 213.7h0M260.4 225.5h0M246.5 207.0h0M248.4 208.3h0M249.3 212.5h0M244.5 218.0h0M249.1 217.2h0M266.1 223.1h0M265.9 212.2h0M249.1 220.4h0M253.1 232.6h0M250.1 231.3h0M253.4 227.8h0M262.9 229.0h0M283.3 207.3h0M270.2 215.2h0M254.0 229.7h0M261.2 229.5h0M250.6 218.2h0M247.3 211.4h0M268.0 210.0h0M252.7 232.9h0M249.3 212.5h0M249.4 233.2h0M243.3 210.2h0M260.7 229.3h0M264.4 209.5h0M263.3 212.7h0M246.9 218.4h0M266.6 216.4h0M249.4 217.5h0M259.6 233.0h0M254.8 231.7h0M267.6 213.8h0M266.3 209.0h0M260.8 226.3h0M258.2 229.1h0M249.7 222.5h0M260.8 224.8h0M263.1 221.6h0M260.5 225.0h0M266.9 213.9h0M257.5 231.5h0M264.7 215.1h0M245.2 225.1h0M249.7 224.3h0M268.0 211.3h0M257.5 231.1h0M250.4 227.3h0M252.1 223.0h0M258.4 232.6h0M250.2 225.5h0M251.0 227.1h0M249.4 231.6h0M258.5 232.0h0M250.2 218.8h0M266.4 215.1h0M264.7 231.3h0M261.0 227.4h0M237.7 210.5h0M255.2 232.9h0M255.8 233.0h0M262.8 218.2h0M252.8 231.2h0M249.4 227.3h0M245.1 216.6h0M260.3 223.6h0M244.3 216.5h0M241.4 215.0h0M245.4 212.6h0M254.2 228.2h0M265.8 207.4h0M265.0 214.7h0M240.9 214.9h0M255.0 230.0h0M242.3 228.4h0M267.6 208.6h0M261.3 221.6h0M251.5 219.1h0M249.4 221.7h0M261.3 221.2h0M260.0 224.6h0M252.1 221.7h0M261.0 225.3h0M251.6 221.4h0M262.4 231.9h0M264.7 232.5h0M239.7 208.5h0M283.4 206.6h0M251.7 220.8h0M258.4 231.3h0M259.9 224.3h0M259.3 228.9h0M251.4 231.1h0M265.5 208.7h0M259.7 227.0h0M219.7 206.8h0M251.4 222.9h0M261.5 224.1h0M255.6 232.3h0M261.0 221.6h0M264.9 221.9h0M247.6 224.7h0M255.5 232.0h0M246.9 206.6h0M273.9 210.7h0M249.4 220.3h0M258.7 233.2h0M261.9 225.1h0M253.0 229.2h0M250.4 224.1h0M245.2 207.6h0M263.0 217.8h0M250.9 226.7h0M273.7 206.9h0M260.5 223.5h0M260.7 228.0h0M272.8 208.8h0M262.0 221.1h0M253.2 224.6h0M250.2 218.6h0M243.6 209.8h0M250.3 229.9h0M241.3 210.1h0M252.4 229.4h0M258.5 231.9h0M257.9 231.0h0M254.3 228.2h0M260.9 226.8h0M249.6 213.4h0M245.9 212.6h0M252.8 233.2h0M248.1 213.8h0M257.6 231.2h0M249.6 220.4h0M264.0 220.6h0M236.1 213.0h0M240.4 218.9h0M238.2 217.9h0M271.2 223.8h0M278.1 233.3h0M286.7 210.1h0M240.0 213.7h0M227.1 211.3h0M236.7 214.9h0M269.5 231.3h0M231.2 225.3h0M283.5 229.4h0M224.8 222.7h0M236.1 227.1h0M245.9 221.7h0M242.3 232.2h0M273.6 218.3h0M277.5 228.4h0M244.8 228.5h0M288.5 224.1h0M234.2 218.8h0M289.1 211.6h0M268.1 227.3h0M267.2 224.4h0M246.8 229.9h0M284.4 216.2h0M230.3 216.8h0M287.5 214.6h0M232.8 227.7h0M247.0 231.2h0M239.6 225.1h0M244.0 210.2h0M237.5 219.7h0M266.8 230.0h0M278.0 228.0h0M238.7 226.5h0M270.8 218.2h0M224.6 210.5h0M231.5 223.6h0M267.1 219.9h0M271.1 217.9h0M238.1 218.4h0M280.7 217.3h0M227.4 222.0h0M246.8 227.1h0M286.5 220.5h0M270.4 212.8h0M246.6 232.2h0M266.8 229.6h0M267.3 224.9h0M286.4 230.6h0M279.8 214.8h0M267.5 219.6h0M266.2 227.1h0M274.9 210.0h0M227.9 216.1h0M240.7 219.4h0M266.6 228.6h0M269.7 211.7h0M279.0 231.7h0M239.9 221.1h0M284.2 211.2h0M275.2 213.0h0M272.8 225.9h0M234.7 213.6h0M231.6 222.2h0M246.1 231.3h0M245.9 229.3h0M281.5 215.5h0M238.8 216.8h0M272.9 230.3h0M267.4 220.1h0M269.2 215.1h0M236.4 209.9h0M276.0 221.2h0M232.1 222.3h0M226.7 221.2h0M269.7 211.0h0M272.3 217.5h0M244.7 219.2h0M238.6 227.1h0M236.5 219.2h0M270.0 231.2h0M274.0 233.3h0M229.7 218.1h0M227.7 212.6h0M270.3 233.3h0M280.3 219.8h0M240.3 220.8h0M274.9 218.2h0M230.5 223.9h0M236.3 213.9h0M233.7 228.4h0M272.5 215.1h0M238.1 209.7h0M224.0 210.4h0M237.6 231.8h0M226.1 212.2h0M242.1 211.9h0M226.1 211.3h0M272.2 221.0h0M270.5 229.3h0M274.7 210.6h0M268.7 230.9h0M283.5 214.4h0M224.8 221.8h0M282.2 209.9h0M284.8 222.6h0M266.3 225.2h0M269.7 213.5h0M285.4 229.2h0M244.0 218.3h0M246.1 232.1h0M246.0 222.3h0M288.1 222.3h0M271.2 209.0h0M246.0 229.2h0M272.7 232.3h0M286.6 209.7h0M287.4 210.4h0M225.8 210.1h0M280.7 224.4h0M273.4 227.0h0M242.1 228.8h0M269.9 213.8h0M288.3 222.0h0M275.3 225.2h0M241.3 213.5h0M244.7 220.1h0M279.1 224.7h0M282.1 228.4h0M230.8 221.2h0M228.1 215.9h0M244.8 218.2h0M266.8 227.3h0M225.2 228.7h0M268.3 222.4h0M234.2 218.6h0M269.3 232.2h0M285.7 224.9h0M284.3 223.8h0M267.4 219.2h0M271.8 211.4h0M288.1 210.3h0M285.5 217.3h0M268.2 216.9h0M286.7 231.6h0M229.1 211.1h0M269.1 219.5h0M266.6 228.4h0M269.8 212.0h0M273.9 215.1h0M245.1 224.5h0M272.3 212.8h0M230.0 225.5h0M277.1 215.1h0M246.0 225.0h0M226.2 220.8h0M243.8 220.8h0M232.4 211.5h0M223.6 219.5h0M239.7 213.4h0M233.2 230.9h0M224.5 212.6h0M240.9 213.0h0M271.4 231.1h0M230.3 211.4h0M287.7 209.2h0M244.2 226.8h0M244.8 219.7h0M244.1 212.3h0M281.9 211.0h0M284.6 210.2h0M239.9 218.6h0M290.9 210.1h0M284.8 228.7h0M278.5 213.9h0M288.0 216.5h0M241.0 211.1h0M278.0 221.7h0M282.7 222.9h0M235.1 225.5h0M273.7 214.4h0M245.4 231.4h0M268.1 218.9h0M241.4 215.5h0M280.9 210.7h0M274.9 212.9h0M278.0 211.1h0M245.5 227.3h0M277.8 212.2h0M280.1 225.5h0M281.6 233.0h0M231.9 231.3h0M269.2 210.1h0M268.9 211.0h0M279.7 223.6h0M239.8 211.1h0M271.0 226.0h0M266.2 229.9h0M279.8 213.5h0M240.8 209.1h0M267.9 223.4h0M287.9 221.1h0M235.0 219.8h0M241.9 214.1h0M240.2 222.6h0M272.7 229.5h0M243.8 210.0h0M288.6 213.0h0M234.6 221.7h0M245.4 220.1h0M242.6 213.7h0M274.3 228.5h0M226.2 209.9h0M223.1 211.6h0M267.4 218.0h0M271.8 228.6h0M274.6 224.0h0M276.6 212.6h0M243.5 227.6h0M236.7 226.6h0M245.1 216.3h0M234.8 215.1h0M242.8 209.6h0M234.4 223.4h0M266.8 222.2h0M270.8 226.9h0M241.2 209.7h0M273.1 220.3h0M243.7 224.9h0M222.7 217.5h0M283.8 210.3h0M238.4 224.2h0M269.6 210.4h0M222.3 216.4h0M242.3 210.0h0M288.1 222.1h0M267.3 220.3h0M245.2 225.1h0M231.3 219.0h0M239.7 211.0h0M232.9 209.6h0M286.6 220.0h0M245.1 215.9h0M240.0 224.6h0M277.7 226.4h0M287.1 212.4h0M245.9 225.7h0M225.0 221.7h0M234.5 230.4h0M233.9 225.3h0M239.3 228.5h0M286.6 220.8h0M269.9 222.1h0M245.3 229.9h0M268.0 223.7h0M272.4 217.0h0M269.9 215.4h0M237.9 212.6h0M208.5 210.6h0M211.7 214.6h0M212.8 217.3h0M215.2 220.0h0M217.6 222.7h0M219.1 225.4h0M221.2 228.1h0M227.2 210.0h0M228.4 214.0h0M230.5 218.0h0M231.4 221.7h0M232.6 225.4h0M300.6 211.9h0M298.3 215.4h0M295.4 219.0h0M294.5 222.2h0M292.5 225.4h0M288.2 229.5h0M280.3 209.0h0M279.0 212.0h0M278.1 215.3h0M276.4 218.7h0M274.9 222.0h0M273.2 226.0h0M215.8 209.0h0M217.2 212.0h0M218.7 215.3h0M219.7 218.7h0M220.8 222.0h0M222.6 224.7h0M224.2 227.3h0M275.5 211.0h0M274.9 214.5h0" stroke="#111" stroke-opacity="0.9" stroke-width="1.20" stroke-linecap="round" fill="none"/>
<path d="M189.8 129.6h0M191.0 135.3h0M190.8 140.9h0M192.0 146.6h0M192.9 152.6h0M194.7 158.5h0M196.1 166.0h0M198.6 174.1h0M200.3 180.9h0M202.8 189.0h0M203.5 192.3h0M204.5 195.7h0M205.6 199.8h0M206.5 203.8h0M207.7 207.2h0M210.2 137.7h0M211.8 143.8h0M212.8 150.0h0M214.7 156.5h0M216.3 163.0h0M217.2 169.5h0M218.8 176.0h0M221.0 182.5h0M221.8 189.0h0M222.6 192.0h0M223.3 195.1h0M224.1 198.1h0M224.8 201.1h0M225.6 204.1h0M226.6 207.0h0M198.0 118.0h0M199.0 123.7h0M200.1 129.3h0M200.7 135.0h0M202.1 140.7h0M203.3 146.3h0M203.9 152.0h0M204.6 158.0h0M206.2 164.0h0M206.8 170.0h0M208.1 175.3h0M209.2 180.7h0M210.0 186.0h0M210.6 189.5h0M211.6 193.0h0M212.4 196.5h0M213.0 200.0h0M214.2 203.0h0M215.0 206.0h0M239.2 202.8h0M243.4 182.4h0M246.5 191.0h0M245.7 176.7h0M233.2 167.1h0M244.8 179.5h0M240.6 195.4h0M237.7 178.2h0M241.9 208.4h0M236.4 186.8h0M243.2 162.6h0M242.7 196.3h0M244.8 167.3h0M245.2 174.3h0M245.1 196.5h0M245.1 201.1h0M243.1 193.1h0M241.9 185.7h0M245.2 205.9h0M243.3 205.8h0M241.5 173.1h0M241.5 201.8h0M235.5 177.8h0M242.0 180.0h0M243.0 208.3h0M246.5 207.9h0M236.6 200.4h0M239.4 192.6h0M242.2 165.1h0M243.4 197.3h0M245.1 166.3h0M243.5 180.8h0M245.6 196.5h0M246.2 200.5h0M243.0 183.0h0M246.0 206.8h0M246.2 196.5h0M241.8 113.4h0M245.8 202.0h0M242.2 189.4h0M242.4 195.6h0M233.8 163.8h0M242.7 185.5h0M241.4 201.1h0M246.6 205.4h0M245.4 200.0h0M239.7 201.4h0M239.4 183.9h0M242.5 159.7h0M243.0 184.4h0M244.1 192.1h0M241.0 196.6h0M244.6 187.6h0M246.2 194.8h0M243.2 203.3h0M242.1 106.5h0M234.3 168.3h0M238.8 194.0h0M245.0 162.6h0M244.8 206.3h0M244.0 179.2h0M237.4 205.4h0M245.9 179.9h0M235.4 126.2h0M239.6 161.9h0M236.0 200.3h0M239.1 186.8h0M245.1 196.6h0M245.5 205.4h0M246.4 194.9h0M232.5 154.7h0M243.6 192.7h0M236.2 175.6h0M246.0 198.2h0M246.4 196.9h0M237.6 172.1h0M246.0 207.5h0M236.2 136.0h0M243.7 156.2h0M232.0 192.5h0M240.7 173.9h0M243.7 208.7h0M246.0 185.0h0M246.5 200.9h0M245.0 172.9h0M246.3 208.1h0M236.5 180.0h0M233.7 100.2h0M240.0 180.3h0M230.1 123.7h0M238.6 190.4h0M233.1 135.6h0M243.6 198.9h0M242.7 208.5h0M245.3 177.2h0M244.8 194.2h0M245.9 208.5h0M243.6 197.2h0M236.9 134.4h0M239.0 172.6h0M236.5 204.9h0M245.0 206.2h0M233.4 178.2h0M242.4 104.2h0M243.3 190.5h0M241.9 128.4h0M239.5 178.3h0M244.6 151.4h0M243.7 207.9h0M242.2 189.3h0M242.2 166.5h0M241.1 194.5h0M244.6 179.4h0M243.9 203.2h0M236.3 191.3h0M241.9 198.9h0M244.3 191.4h0M243.7 195.7h0M241.3 193.0h0M240.7 148.0h0M246.0 201.7h0M235.1 206.3h0M242.7 208.9h0M239.3 112.2h0M240.0 171.1h0M239.9 191.4h0M244.2 198.8h0M234.5 151.1h0M243.7 197.8h0M238.8 142.4h0M240.3 193.1h0M233.3 168.5h0M242.3 176.3h0M245.2 169.4h0M244.0 167.0h0M243.7 155.8h0M233.7 140.3h0M235.0 189.1h0M244.7 196.4h0M239.1 154.1h0M237.4 135.1h0M241.9 134.3h0M246.1 195.0h0M238.7 162.4h0M234.7 151.5h0M244.1 182.1h0M245.1 207.8h0M241.7 124.2h0M242.4 204.8h0M244.4 207.1h0M246.8 191.7h0M240.3 176.1h0M242.0 206.3h0M247.5 205.2h0M244.1 206.2h0M243.1 198.8h0M242.2 154.0h0M240.7 173.6h0M247.4 208.2h0M240.2 205.6h0M237.9 200.3h0M238.9 206.2h0M240.7 168.8h0M242.5 187.7h0M241.5 182.8h0M243.1 188.7h0M241.9 173.0h0M242.0 166.4h0M237.2 207.7h0M241.5 166.1h0M245.9 173.8h0M240.2 107.4h0M246.2 178.1h0M240.5 170.7h0M244.7 200.4h0M235.9 116.4h0M240.0 166.1h0M232.8 181.6h0M237.4 174.1h0M242.3 193.9h0M243.3 191.4h0M244.6 205.3h0M242.9 183.6h0M233.7 170.2h0M240.9 196.3h0M242.3 155.1h0M240.4 126.2h0M245.5 182.3h0M244.9 179.4h0M238.4 200.2h0M246.4 182.4h0M242.5 129.1h0M244.8 154.8h0M247.0 205.9h0M246.0 187.2h0M246.3 204.2h0M240.9 183.4h0M246.3 201.3h0M245.0 202.9h0M239.1 196.4h0M234.7 136.9h0M246.1 199.8h0M245.9 199.8h0M241.2 194.7h0M226.8 117.3h0M241.9 190.7h0M232.1 158.5h0M243.7 168.1h0M244.9 187.3h0M240.8 207.5h0M243.1 191.3h0M245.2 161.0h0M243.2 200.4h0M229.8 121.7h0M245.4 188.2h0M239.0 167.8h0M241.8 206.9h0M233.9 184.9h0M243.9 155.3h0M245.8 201.2h0M242.8 174.9h0M243.6 206.4h0M241.5 192.4h0M238.9 204.2h0M242.1 149.7h0M246.6 195.0h0M237.1 154.0h0M240.7 150.1h0M241.8 152.5h0M243.0 203.9h0M243.1 163.2h0M242.4 177.7h0M243.6 191.9h0M244.3 191.5h0M239.9 196.2h0M241.0 205.0h0M244.4 195.8h0M243.7 203.4h0M236.0 174.8h0M240.8 175.4h0M235.2 161.4h0M247.7 208.0h0M238.4 142.2h0M241.4 169.5h0M243.8 178.6h0M238.6 173.3h0M237.9 104.1h0M246.7 199.2h0M247.2 199.7h0M240.6 172.2h0M241.0 202.2h0M240.9 195.6h0M241.5 199.6h0M233.2 136.9h0M245.8 201.7h0M240.4 156.2h0M241.3 136.3h0M240.9 204.4h0M237.7 199.6h0M237.1 197.2h0M245.6 198.5h0M236.7 197.7h0M243.8 200.2h0M242.7 142.4h0M242.5 165.8h0M238.2 205.0h0M241.7 144.5h0M240.5 172.3h0M237.8 178.6h0M238.2 174.6h0M244.9 200.6h0M234.2 151.9h0M242.0 189.3h0M238.7 161.8h0M241.2 180.7h0M241.8 173.4h0M244.6 194.8h0M238.2 167.1h0M244.0 193.7h0M238.1 184.3h0M244.4 189.6h0M245.3 197.1h0M238.3 177.7h0M243.5 184.7h0M242.6 197.3h0M238.2 150.6h0M245.3 204.0h0M244.0 180.5h0M246.2 204.6h0M243.9 138.8h0M239.5 196.1h0M243.7 153.7h0M236.5 147.9h0M234.2 184.7h0M243.9 191.0h0M245.2 201.1h0M244.1 181.6h0M244.7 163.2h0M245.7 186.3h0M242.4 183.3h0M245.0 192.2h0M236.7 189.8h0M241.7 194.6h0M239.4 176.8h0M243.2 190.5h0M245.8 205.6h0M246.2 194.8h0M243.9 200.2h0M244.6 205.1h0M228.1 190.9h0M235.3 144.9h0M243.0 179.7h0M246.0 188.1h0M245.5 200.8h0M240.7 108.0h0M241.4 117.3h0M240.9 187.3h0M240.9 173.4h0M247.1 203.6h0M235.7 106.4h0M245.1 186.3h0M235.7 197.3h0M240.2 196.7h0M244.0 203.8h0M243.7 206.9h0M245.7 189.5h0M244.8 164.1h0M242.0 159.2h0M237.6 152.6h0M244.3 154.4h0M242.8 173.2h0M244.1 204.4h0M246.1 203.7h0M237.9 163.5h0M246.1 199.1h0M234.5 137.4h0M245.2 202.4h0M242.0 161.3h0M241.6 186.3h0M243.6 185.1h0M243.8 200.3h0M243.8 179.7h0M240.4 195.8h0M235.2 123.6h0M240.3 150.1h0M243.5 189.7h0M236.4 187.0h0M242.3 200.7h0M238.3 197.4h0M246.7 206.3h0M240.1 208.1h0M236.4 128.8h0M246.9 201.3h0M246.7 196.0h0M245.4 205.1h0M232.7 163.5h0M243.9 153.4h0M245.5 198.4h0M239.8 192.0h0M242.9 190.3h0M244.8 208.9h0M241.7 199.7h0M237.6 188.7h0M245.2 166.7h0M241.9 207.0h0M246.3 200.8h0M239.9 120.4h0M243.1 180.7h0M243.8 164.7h0M241.5 194.1h0M245.3 205.6h0M240.0 174.3h0M245.7 195.2h0M238.8 158.6h0M242.1 174.5h0M247.1 203.4h0M244.6 165.7h0M242.3 204.4h0M243.0 206.2h0M245.8 204.0h0M246.1 181.8h0M242.2 157.3h0M236.4 203.2h0M237.4 192.8h0M245.6 187.1h0M245.3 186.9h0M242.7 182.2h0M244.4 198.1h0M246.6 185.2h0M239.0 207.2h0M242.0 141.0h0M244.4 151.5h0M235.5 171.8h0M240.2 199.8h0M243.0 202.0h0M237.4 181.8h0M238.0 137.0h0M240.0 164.6h0M238.7 184.1h0M243.0 175.2h0M237.5 196.8h0M239.3 189.1h0M234.0 134.8h0M244.3 187.8h0M239.8 189.3h0M245.8 180.3h0M245.8 174.5h0M242.7 122.8h0M243.3 177.2h0M235.5 181.8h0M243.2 192.3h0M245.0 207.3h0M243.9 204.8h0M244.5 200.1h0M241.3 169.2h0M221.1 101.0h0M247.1 207.5h0M233.4 185.0h0M238.4 106.5h0M244.1 167.3h0M244.6 200.8h0M235.4 165.7h0M243.3 156.3h0M245.7 196.7h0M240.6 154.4h0M237.0 128.5h0M239.3 172.9h0M243.5 205.4h0M242.1 207.4h0M243.7 190.3h0M235.2 155.8h0M246.3 202.5h0M241.8 187.2h0M244.2 195.8h0M241.3 191.8h0M234.9 203.0h0M240.5 159.9h0M236.6 159.4h0M242.4 208.8h0M238.8 175.4h0M238.6 205.1h0M239.8 138.2h0M243.9 201.2h0M243.8 194.3h0M239.3 173.3h0M239.9 171.0h0M242.8 194.2h0M237.7 193.9h0M241.1 205.5h0M244.3 195.0h0M241.7 201.1h0M244.7 205.3h0M240.0 135.5h0M245.2 181.6h0M243.7 204.0h0M242.8 197.4h0M245.0 197.3h0M246.4 196.7h0M243.7 188.8h0M242.8 194.9h0M238.1 163.6h0M239.3 165.6h0M242.7 128.1h0M241.5 193.2h0M245.8 200.8h0M241.2 203.8h0M246.4 197.6h0M246.1 199.8h0M246.3 196.0h0M239.9 185.3h0M239.7 143.0h0M240.8 188.0h0M239.1 195.1h0M242.6 205.9h0M240.7 173.5h0M240.2 196.0h0M246.9 206.2h0M242.2 147.3h0M244.0 204.2h0M241.5 198.4h0M243.6 160.0h0M238.0 182.3h0M245.5 184.4h0M240.7 175.3h0M243.0 195.9h0M243.8 152.4h0M244.6 197.4h0M238.9 201.1h0M238.7 156.9h0M242.8 192.1h0M245.4 184.0h0M243.6 152.6h0M241.6 191.8h0M241.9 193.4h0M241.7 203.2h0M247.5 205.6h0M243.1 202.8h0M241.1 188.6h0M232.1 180.5h0M237.7 162.2h0M234.4 165.3h0M241.1 140.9h0M242.2 202.1h0M243.8 193.6h0M235.0 136.1h0M242.3 203.4h0M238.2 204.9h0M245.8 184.0h0M243.7 208.0h0M238.4 193.0h0M236.1 146.4h0M245.8 181.2h0M246.2 203.1h0M242.9 207.3h0M245.5 187.3h0M233.2 168.6h0M245.3 196.9h0M242.3 199.5h0M246.5 188.7h0M246.6 200.5h0M243.2 203.3h0M246.5 207.7h0M244.8 170.0h0M245.9 195.9h0M245.5 183.6h0M233.9 176.4h0M240.8 199.5h0M245.2 207.0h0M241.8 181.0h0M242.8 174.9h0M245.3 201.6h0M244.5 183.4h0M239.9 163.7h0M245.2 181.7h0M243.7 194.0h0M239.0 138.6h0M238.6 169.4h0M244.5 199.8h0M241.9 179.9h0M243.1 206.9h0M243.8 197.4h0M245.7 195.4h0M245.7 198.9h0M236.4 176.7h0M245.5 192.0h0M240.3 195.6h0M245.5 196.8h0M244.2 199.8h0M243.3 202.2h0M242.3 198.1h0M241.3 205.1h0M245.1 200.9h0M241.5 171.1h0M246.6 201.0h0M243.8 207.1h0M242.7 132.4h0M245.6 183.4h0M240.9 186.5h0M244.6 197.4h0M244.8 163.6h0M245.5 199.0h0M243.6 206.8h0M239.9 203.2h0M246.3 184.4h0M246.7 196.1h0M244.7 188.5h0M243.8 172.4h0M236.9 189.4h0M237.6 164.7h0M242.3 135.9h0M246.1 198.7h0M241.3 191.6h0M246.4 202.7h0M243.8 177.2h0M242.4 206.6h0M242.2 196.8h0M240.6 128.0h0M245.2 208.8h0M239.1 182.5h0M229.2 138.9h0M247.2 208.7h0M236.9 156.4h0M246.3 194.0h0M242.7 162.1h0M238.3 195.0h0M239.8 172.3h0M245.5 197.3h0M244.8 201.1h0M234.2 171.0h0M246.0 207.8h0M244.7 173.5h0M241.0 198.6h0M236.2 167.2h0M242.4 208.4h0M241.8 196.6h0M240.2 201.2h0M239.6 115.5h0M244.8 200.3h0M239.5 207.6h0M244.4 181.2h0M237.3 144.4h0M243.9 167.3h0M244.5 203.8h0M244.2 203.1h0M241.9 201.3h0M242.8 202.7h0M230.2 159.7h0M242.0 138.0h0M237.7 191.0h0M243.9 182.4h0M243.0 187.3h0M237.8 203.9h0M246.0 207.8h0M246.9 201.5h0M246.5 197.3h0M244.4 178.3h0M240.4 208.3h0M244.4 199.1h0M241.0 180.8h0M235.0 139.6h0M245.5 179.3h0M239.0 134.1h0M242.2 187.9h0M242.5 197.3h0M243.0 204.6h0M239.9 165.0h0M246.3 194.8h0M244.3 166.4h0M237.1 197.2h0M244.9 166.3h0M242.7 182.2h0M230.4 124.9h0M240.9 108.1h0M242.4 202.3h0M246.3 194.4h0M237.0 178.4h0M242.4 203.3h0M242.3 199.3h0M235.5 177.0h0M239.8 177.9h0M232.6 170.1h0M243.8 188.8h0M241.9 193.9h0M243.7 177.6h0M237.6 198.3h0M240.2 165.0h0M245.9 176.8h0M246.3 207.9h0M247.2 208.9h0M241.9 188.2h0M220.2 123.1h0M214.9 132.7h0M228.0 177.0h0M240.7 129.2h0M236.7 206.6h0M228.8 203.3h0M227.2 193.4h0M241.4 175.3h0M237.2 131.1h0M213.5 136.9h0M233.9 200.9h0M232.4 152.8h0M225.8 137.1h0M222.4 162.1h0M233.9 133.6h0M231.4 201.0h0M227.1 183.6h0M217.4 157.9h0M228.9 163.1h0M225.9 199.4h0M235.0 208.1h0M228.0 101.9h0M218.8 139.8h0M225.1 185.3h0M217.9 145.2h0M239.9 207.8h0M211.8 104.8h0M229.7 152.7h0M237.8 206.5h0M239.2 197.2h0M237.8 196.4h0M214.0 134.2h0M232.5 127.1h0M226.6 121.6h0M223.3 181.3h0M235.6 102.9h0M241.7 197.5h0M227.9 131.8h0M234.3 167.8h0M237.3 175.8h0M233.8 185.1h0M236.3 167.5h0M216.9 139.9h0M213.4 127.3h0M224.2 127.3h0M231.4 158.0h0M220.7 171.0h0M219.0 170.2h0M231.0 173.3h0M239.6 207.8h0M240.0 205.4h0M232.9 167.2h0M238.4 197.6h0M219.3 133.2h0M231.8 114.8h0M241.3 196.9h0M227.3 101.4h0M212.6 109.3h0M220.6 130.9h0M217.8 126.9h0M221.4 121.5h0M223.0 147.2h0M220.5 139.0h0M230.4 141.6h0M241.3 174.4h0M238.8 128.7h0M239.8 200.3h0M208.5 102.8h0M228.4 164.1h0M216.2 103.0h0M238.7 190.3h0M221.8 181.6h0M234.8 198.2h0M238.7 133.6h0M225.6 123.8h0M229.7 104.5h0M241.6 165.2h0M237.5 200.4h0M229.5 126.0h0M214.7 148.5h0M228.2 164.9h0M230.2 103.4h0M238.1 146.3h0M236.4 176.1h0M231.9 172.6h0M234.8 194.7h0M227.1 170.6h0M241.5 123.4h0M228.0 116.8h0M240.0 177.2h0M232.1 108.3h0M228.9 126.8h0M219.8 171.8h0M218.5 128.0h0M215.9 147.5h0M217.0 145.7h0M221.1 167.4h0M220.5 151.2h0M208.3 106.4h0M234.5 195.1h0M234.2 141.3h0M213.2 121.8h0M234.2 197.4h0M240.1 170.3h0M228.5 115.9h0M240.2 144.3h0M225.9 187.1h0M231.9 180.8h0M229.4 201.8h0M226.7 127.1h0" stroke="#4470ad" stroke-opacity="1" stroke-width="1.90" stroke-linecap="round" fill="none"/>
<path d="M327.5 101.2h0M327.3 105.9h0M327.0 110.7h0M326.3 115.4h0M325.7 120.1h0M326.0 124.8h0M325.1 129.6h0M325.3 134.3h0M324.5 139.0h0M323.7 144.4h0M322.5 149.8h0M321.9 155.2h0M321.0 159.9h0M320.3 164.6h0M319.2 169.4h0M317.7 174.1h0M316.4 178.6h0M314.4 183.1h0M312.7 187.6h0M311.1 190.3h0M310.0 193.0h0M308.3 195.7h0M307.5 198.4h0M305.8 201.7h0M304.3 205.0h0M302.4 208.4h0M303.1 105.3h0M302.5 110.3h0M301.2 115.4h0M300.6 120.5h0M300.5 125.5h0M299.4 130.9h0M298.2 136.3h0M297.4 141.7h0M296.1 147.1h0M295.2 151.8h0M294.7 156.6h0M292.6 161.3h0M292.3 166.0h0M291.0 171.4h0M289.9 176.8h0M288.1 182.2h0M287.2 187.6h0M286.2 190.7h0M284.9 193.8h0M284.1 196.9h0M283.0 200.0h0M282.1 203.0h0M280.9 206.0h0M296.5 104.0h0M295.4 109.2h0M294.4 114.5h0M293.7 119.8h0M293.2 125.0h0M292.1 130.2h0M291.8 135.5h0M290.7 140.8h0M290.0 146.0h0M288.8 151.5h0M287.8 157.0h0M287.2 162.5h0M286.2 168.0h0M284.9 173.0h0M284.6 178.0h0M282.9 183.0h0M282.2 188.0h0M280.9 191.2h0M280.5 194.4h0M279.7 197.6h0M278.9 200.8h0M278.5 204.0h0M276.8 207.5h0M276.6 184.1h0M279.7 203.4h0M278.1 205.6h0M273.1 133.9h0M271.5 183.2h0M273.3 155.0h0M269.3 192.9h0M267.9 171.7h0M276.5 104.7h0M267.5 194.4h0M273.0 189.7h0M280.2 151.4h0M278.9 207.8h0M272.5 186.0h0M268.6 190.3h0M272.3 204.7h0M270.7 177.5h0M272.7 192.8h0M276.7 175.4h0M268.9 201.4h0M267.0 204.9h0M279.1 199.2h0M272.6 122.3h0M272.6 205.7h0M274.5 204.0h0M269.5 208.7h0M268.6 194.9h0M275.2 201.1h0M268.2 190.8h0M272.6 147.3h0M270.8 166.3h0M290.5 108.6h0M272.2 187.9h0M272.6 199.1h0M268.1 195.8h0M268.4 200.6h0M272.8 184.8h0M274.0 142.8h0M267.5 191.7h0M273.5 156.5h0M272.0 165.1h0M275.0 179.4h0M270.0 203.4h0M268.5 197.1h0M277.8 186.8h0M271.4 185.9h0M279.1 138.0h0M271.3 157.9h0M275.7 185.2h0M275.4 179.7h0M276.9 133.1h0M270.5 207.9h0M278.3 182.5h0M275.1 201.9h0M270.2 204.2h0M271.9 203.4h0M270.2 194.6h0M272.6 184.9h0M272.3 200.6h0M275.8 196.1h0M269.4 166.4h0M273.7 205.2h0M275.2 171.0h0M278.6 161.3h0M276.2 182.8h0M271.3 183.8h0M275.9 194.0h0M271.5 206.5h0M270.5 193.4h0M270.1 203.0h0M283.0 137.0h0M267.5 188.0h0M275.4 128.6h0M272.7 154.5h0M269.0 187.5h0M278.2 138.6h0M273.9 187.2h0M272.5 180.6h0M277.0 180.4h0M281.2 146.4h0M270.6 204.7h0M273.0 184.8h0M267.3 183.8h0M267.7 189.7h0M272.7 142.2h0M268.0 176.8h0M268.7 208.9h0M275.7 173.8h0M268.7 176.9h0M269.2 198.4h0M272.2 195.7h0M275.5 185.2h0M269.1 189.7h0M270.2 197.7h0M275.5 202.2h0M269.4 204.0h0M270.8 208.8h0M277.0 198.1h0M267.1 206.8h0M271.9 111.7h0M271.1 199.2h0M268.5 206.7h0M267.4 198.1h0M270.0 184.2h0M270.0 182.6h0M272.1 185.3h0M269.8 190.1h0M268.1 203.0h0M271.2 202.5h0M273.8 185.1h0M274.2 147.9h0M276.6 169.5h0M272.4 194.6h0M268.2 195.6h0M271.1 197.0h0M266.6 201.2h0M268.9 177.6h0M273.6 161.4h0M273.2 198.0h0M274.7 191.4h0M269.6 185.3h0M276.9 129.8h0M270.4 124.6h0M274.8 176.0h0M274.2 182.9h0M275.5 197.2h0M269.2 193.8h0M274.6 150.9h0M276.8 195.2h0M272.6 197.5h0M271.3 201.7h0M270.2 195.3h0M269.0 150.5h0M268.2 200.3h0M267.9 199.8h0M286.0 175.1h0M266.2 206.0h0M269.8 158.1h0M272.4 182.9h0M266.8 197.3h0M269.6 196.1h0M268.4 179.3h0M271.0 177.7h0M268.8 207.3h0M282.1 179.9h0M270.6 190.2h0M268.7 176.2h0M274.9 143.5h0M266.8 200.8h0M269.4 188.0h0M273.6 190.1h0M271.8 183.0h0M272.2 171.7h0M267.0 202.1h0M271.9 186.0h0M269.6 180.8h0M270.9 195.0h0M271.3 139.2h0M267.8 187.5h0M274.2 207.6h0M279.3 197.3h0M272.7 208.5h0M273.5 170.0h0M273.1 207.8h0M270.9 194.8h0M275.0 160.4h0M271.8 100.2h0M271.6 141.5h0M267.6 188.2h0M271.6 173.6h0M276.2 172.4h0M270.5 175.6h0M271.1 179.5h0M271.2 181.0h0M267.6 198.7h0M269.3 177.4h0M271.6 202.3h0M276.4 197.2h0M274.1 188.3h0M269.2 187.0h0M276.2 187.9h0M284.5 157.8h0M270.3 187.2h0M278.1 198.5h0M272.8 166.8h0M277.9 188.5h0M267.8 200.8h0M267.2 198.4h0M282.1 118.5h0M270.4 174.8h0M274.4 178.4h0M271.1 153.8h0M270.0 181.5h0M271.0 204.3h0M269.4 187.4h0M279.9 178.1h0M271.4 202.9h0M277.6 174.2h0M268.6 176.2h0M271.7 144.2h0M267.8 208.4h0M272.8 180.5h0M267.0 193.8h0M271.3 158.5h0M277.8 157.2h0M269.2 188.3h0M267.5 186.0h0M269.3 159.2h0M283.5 137.9h0M269.2 193.6h0M267.9 192.1h0M267.1 196.2h0M277.9 106.2h0M279.3 121.8h0M282.0 187.0h0M273.5 192.5h0M268.8 195.8h0M305.2 109.4h0M273.8 201.0h0M270.1 208.7h0M277.9 190.2h0M268.7 182.6h0M284.7 160.5h0M277.8 169.3h0M271.6 171.6h0M268.8 189.5h0M285.2 118.9h0M271.4 199.6h0M266.7 201.5h0M272.9 177.3h0M268.1 193.9h0M269.6 200.2h0M271.2 200.9h0M285.0 176.5h0M273.4 203.3h0M276.8 199.6h0M280.0 136.5h0M286.2 159.2h0M269.7 205.4h0M275.8 196.3h0M269.9 205.9h0M268.0 202.7h0M276.2 208.2h0M273.9 159.8h0M272.2 191.3h0M270.7 188.5h0M276.0 192.1h0M268.9 158.9h0M267.1 205.0h0M275.9 170.1h0M272.7 180.9h0M271.7 191.3h0M270.4 201.4h0M271.7 205.7h0M268.4 195.8h0M275.8 148.6h0M287.9 124.2h0M285.6 124.2h0M281.3 143.2h0M268.4 196.2h0M269.0 192.1h0M270.0 201.5h0M280.6 168.5h0M268.0 183.9h0M279.1 176.5h0M268.2 200.1h0M278.9 199.0h0M274.6 205.2h0M279.9 186.2h0M267.6 208.4h0M273.7 127.1h0M275.3 189.1h0M271.5 203.1h0M268.4 197.7h0M273.0 186.9h0M270.6 199.6h0M281.3 165.5h0M271.9 200.9h0M270.1 188.0h0M281.1 138.8h0M274.1 133.8h0M276.2 166.7h0M270.1 182.7h0M272.1 189.3h0M268.3 169.6h0M271.0 159.8h0M267.3 208.8h0M266.5 205.6h0M269.3 194.1h0M269.8 195.5h0M268.8 192.3h0M274.2 196.5h0M266.6 204.4h0M268.7 202.5h0M279.5 190.5h0M267.2 202.3h0M271.1 196.1h0M273.9 198.1h0M274.0 142.6h0M269.3 201.2h0M277.5 188.7h0M271.2 185.9h0M269.8 200.0h0M270.2 159.5h0M270.3 197.5h0M273.1 184.8h0M274.0 200.4h0M270.8 159.0h0M273.5 207.6h0M275.3 187.0h0M287.3 118.4h0M268.9 195.0h0M268.3 168.5h0M267.6 198.5h0M275.7 176.9h0M269.0 175.4h0M269.2 201.7h0M269.1 172.1h0M268.6 167.6h0M278.6 186.3h0M273.4 194.1h0M268.8 205.8h0M267.7 198.4h0M267.6 177.4h0M266.8 207.8h0M268.1 165.9h0M274.8 129.7h0M269.3 177.7h0M277.5 185.1h0M275.3 200.2h0M268.1 197.8h0M273.2 144.4h0M278.3 200.5h0M281.1 176.2h0M271.5 165.4h0M273.8 205.3h0M270.0 172.0h0M281.5 191.8h0M274.0 161.2h0M272.8 206.3h0M274.6 176.2h0M269.1 186.2h0M279.0 193.5h0M273.6 162.9h0M271.4 201.6h0M272.7 193.4h0M271.2 143.2h0M271.5 173.7h0M267.1 189.6h0M267.4 196.1h0M271.2 195.6h0M268.7 195.9h0M272.9 169.0h0M276.0 175.3h0M267.8 179.7h0M269.0 142.5h0M286.4 124.5h0M272.1 195.8h0M272.6 148.4h0M268.1 196.9h0M276.7 170.5h0M267.0 196.8h0M274.2 155.6h0M271.8 202.5h0M272.8 205.6h0M270.6 156.3h0M266.1 206.4h0M270.2 177.5h0M269.3 208.8h0M282.4 174.5h0M274.6 205.8h0M280.9 133.3h0M266.9 202.5h0M267.2 183.2h0M269.9 176.6h0M266.9 197.1h0M282.8 152.2h0M274.6 166.3h0M267.9 207.9h0M276.2 131.8h0M270.1 208.7h0M268.4 199.4h0M275.6 184.3h0M281.1 193.7h0M277.7 177.3h0M269.2 208.8h0M272.2 198.2h0M268.8 159.3h0M268.1 199.8h0M275.9 208.6h0M273.6 193.8h0M273.5 198.1h0M273.8 194.3h0M269.3 172.6h0M280.9 158.7h0M271.2 176.0h0M271.3 207.6h0M273.2 198.7h0M281.4 175.2h0M269.4 197.1h0M275.6 132.3h0M273.0 175.5h0M269.6 186.7h0M267.1 198.0h0M277.7 160.8h0M280.1 173.0h0M268.9 168.6h0M268.7 187.4h0M278.9 194.3h0M272.3 180.1h0M268.1 197.0h0M268.8 148.9h0M269.5 165.1h0M278.7 170.6h0M278.2 194.0h0M272.0 190.1h0M276.0 207.8h0M269.6 192.1h0M267.2 203.8h0M270.4 163.3h0M268.5 187.8h0M272.7 182.1h0M273.3 160.0h0M267.5 185.8h0M272.0 173.9h0M270.0 171.6h0M274.3 160.1h0M279.8 192.6h0M273.8 190.4h0M268.2 162.5h0M266.4 201.6h0M270.2 136.7h0M273.5 200.6h0M268.1 199.7h0M267.0 198.9h0M268.7 179.9h0M271.1 205.7h0M269.8 207.1h0M272.0 135.4h0M272.2 202.6h0M274.7 192.2h0M269.7 179.1h0M270.6 109.6h0M271.9 207.2h0M273.2 185.6h0M272.7 180.7h0M278.7 106.7h0M281.4 206.6h0M266.6 207.9h0M272.0 205.2h0M268.1 201.7h0M275.7 199.4h0M275.5 188.0h0M268.7 177.0h0M266.5 208.9h0M274.9 201.5h0M269.7 177.2h0M273.2 193.5h0M267.5 181.3h0M276.9 197.0h0M273.0 202.7h0M269.9 178.8h0M277.2 201.1h0M269.0 207.3h0M281.0 148.2h0M277.2 167.1h0M271.0 171.6h0M276.1 154.2h0M272.8 188.0h0M290.4 135.7h0M270.0 184.0h0M267.9 196.8h0M269.4 193.8h0M268.8 173.3h0M279.4 192.3h0M268.8 162.0h0M271.3 190.0h0M268.0 182.7h0M270.7 201.0h0M276.8 198.3h0M269.3 195.6h0M276.1 184.9h0M274.0 197.1h0M270.3 201.8h0M271.8 199.1h0M275.7 205.4h0M276.7 136.0h0M267.1 194.0h0M268.8 176.8h0M281.0 120.8h0M269.5 206.3h0M267.0 208.7h0M267.7 203.1h0M272.7 170.1h0M270.5 156.0h0M270.6 156.2h0M275.9 194.3h0M272.6 181.6h0M270.7 127.1h0M271.1 198.0h0M273.9 198.8h0M268.7 206.3h0M271.5 178.9h0M275.6 205.2h0M267.8 206.4h0M285.1 136.5h0M269.0 206.5h0M275.2 201.6h0M272.1 169.2h0M272.9 203.7h0M278.9 164.6h0M274.4 169.1h0M269.4 186.2h0M269.9 201.3h0M270.8 204.8h0M267.2 199.3h0M269.6 173.1h0M279.1 159.1h0M272.8 178.3h0M267.1 200.3h0M274.6 112.7h0M268.7 206.5h0M269.1 205.4h0M270.8 206.3h0M270.6 207.4h0M270.9 204.0h0M275.4 186.8h0M273.9 208.0h0M269.7 166.1h0M270.3 169.8h0M275.4 191.4h0M267.5 192.5h0M270.0 203.4h0M271.8 202.3h0M275.7 175.9h0M268.4 183.5h0M268.7 194.1h0M270.0 186.0h0M268.3 196.1h0M271.4 172.7h0M272.5 208.2h0M272.0 160.1h0M271.5 186.1h0M272.3 206.5h0M268.1 192.1h0M276.9 203.9h0M274.0 177.4h0M271.8 195.8h0M275.6 193.8h0M270.2 204.0h0M273.3 195.8h0M279.5 127.8h0M271.4 141.1h0M268.1 204.9h0M274.4 207.0h0M266.7 199.7h0M271.8 186.4h0M272.7 200.1h0M272.8 176.8h0M269.9 175.5h0M272.7 177.4h0M281.6 158.2h0M269.9 127.3h0M267.8 193.3h0M277.8 174.7h0M270.3 199.0h0M276.3 119.4h0M274.0 199.5h0M280.3 178.9h0M269.6 206.2h0M271.5 192.2h0M273.4 190.5h0M270.3 193.2h0M278.4 190.5h0M267.4 207.5h0M273.1 186.3h0M279.5 130.1h0M274.8 172.9h0M278.8 199.5h0M269.0 207.2h0M270.8 157.2h0M280.3 118.4h0M278.0 204.1h0M267.8 196.6h0M272.2 188.7h0M273.3 200.4h0M272.6 202.8h0M275.6 208.2h0M278.9 172.3h0M282.1 170.8h0M282.1 181.6h0M269.3 180.1h0M268.9 207.7h0M270.2 208.8h0M270.6 208.9h0M269.0 195.2h0M276.0 157.0h0M269.7 191.8h0M271.7 207.6h0M268.5 206.1h0M275.5 203.6h0M271.6 177.0h0M273.9 202.2h0M269.7 177.2h0M270.4 134.4h0M268.5 199.2h0M267.0 204.2h0M272.7 201.1h0M274.0 187.9h0M273.6 198.2h0M270.5 205.1h0M273.3 201.9h0M272.3 206.5h0M268.9 208.9h0M276.9 201.3h0M268.8 208.7h0M271.4 160.7h0M275.4 192.9h0M268.7 201.3h0M275.2 189.3h0M270.2 126.2h0M272.0 202.5h0M268.3 199.1h0M267.4 199.7h0M269.4 196.7h0M273.0 208.4h0M268.6 196.6h0M278.9 197.7h0M270.3 206.8h0M272.4 208.9h0M279.8 149.7h0M271.6 194.4h0M268.9 206.9h0M267.4 189.4h0M271.2 207.1h0M267.2 188.9h0M274.8 153.7h0M274.5 151.8h0M277.2 197.1h0M271.7 207.7h0M272.8 159.1h0M273.7 208.8h0M267.8 177.0h0M273.9 162.9h0M267.5 177.6h0M275.5 196.4h0M269.0 195.4h0M271.9 205.1h0M275.5 203.0h0M272.4 190.0h0M270.4 138.6h0M271.5 191.1h0M266.8 204.4h0M269.5 173.4h0M268.4 204.5h0M270.0 201.2h0M267.4 196.9h0M275.6 201.1h0M271.9 173.8h0M275.8 145.5h0M284.6 168.3h0M274.9 143.8h0M270.8 208.4h0M275.9 200.8h0M270.2 193.9h0M268.7 178.2h0M281.6 184.9h0M273.9 195.8h0M269.2 202.7h0M267.3 207.6h0M282.9 192.0h0M270.0 166.2h0M272.6 204.5h0M270.8 187.4h0M269.7 190.0h0M266.3 202.1h0M276.8 127.4h0M273.7 193.4h0M273.1 125.5h0M275.7 173.0h0M271.1 199.9h0M274.1 199.5h0M271.6 192.1h0M272.7 196.2h0M271.4 160.4h0M274.1 204.9h0M267.9 176.2h0M274.3 193.7h0M268.2 195.8h0M269.2 186.4h0M272.5 204.1h0M270.9 202.8h0M273.1 204.4h0M269.8 208.8h0M268.3 192.5h0M274.8 194.5h0M272.9 204.4h0M266.9 205.6h0M272.7 202.2h0M266.6 199.5h0M280.6 173.5h0M270.7 205.4h0M270.7 153.5h0M267.1 196.8h0M269.9 177.2h0M270.1 186.8h0M272.6 206.9h0M279.5 147.6h0M271.3 201.0h0M271.3 161.0h0M267.5 191.9h0M272.4 182.9h0M273.5 169.5h0M268.0 191.7h0M280.4 166.2h0M276.8 137.8h0M274.1 205.8h0M270.9 203.2h0M272.2 191.4h0M272.6 208.2h0M272.6 206.1h0M284.2 172.4h0M267.1 207.3h0M268.3 185.2h0M272.9 201.8h0M273.0 198.1h0M268.0 202.0h0M276.6 176.6h0M271.2 178.1h0M270.7 199.2h0M272.2 183.7h0M274.8 150.7h0M267.5 175.4h0M272.9 111.1h0M275.3 160.5h0M270.2 205.2h0M267.2 186.4h0M270.7 194.8h0M275.5 144.4h0M279.8 195.5h0M267.3 206.6h0M271.7 149.5h0M266.9 198.0h0M269.2 167.6h0M268.5 201.9h0M268.5 199.6h0M272.3 206.1h0M270.0 195.1h0M274.6 143.7h0M267.5 203.8h0M287.6 156.8h0M280.2 202.0h0M273.7 120.0h0M281.4 189.0h0M274.9 192.5h0M276.0 117.7h0M288.1 149.4h0M287.4 105.0h0M275.9 201.2h0M280.0 144.6h0M275.6 127.9h0M286.5 164.9h0M273.1 167.4h0M287.7 105.1h0M290.6 151.8h0M276.7 157.0h0M275.9 124.5h0M271.4 192.7h0M280.3 146.7h0M271.1 144.8h0M273.2 150.4h0M280.5 170.7h0M277.4 175.3h0M272.8 116.0h0M284.6 140.0h0M274.8 202.6h0M278.5 167.6h0M278.4 123.2h0M281.0 188.1h0M281.1 140.9h0M279.5 168.9h0M283.8 121.9h0M281.3 153.1h0M280.6 145.7h0M281.0 200.3h0M276.1 189.8h0M288.7 118.6h0M278.8 200.7h0M275.8 202.1h0M272.9 200.9h0M287.1 116.1h0M271.4 122.1h0M284.4 179.7h0M286.1 180.3h0M285.6 127.0h0M281.3 145.5h0M273.8 191.0h0M276.6 133.6h0M276.6 197.5h0M271.1 176.5h0M283.6 179.5h0M278.0 129.3h0M289.7 155.3h0M284.9 159.6h0M292.6 106.9h0M291.9 145.5h0M284.4 105.6h0M285.3 176.2h0M278.7 185.4h0M282.7 185.3h0M277.7 132.1h0M287.2 171.0h0M289.0 164.2h0M284.6 156.8h0M274.6 191.2h0M278.6 116.9h0M276.7 208.2h0M273.8 187.2h0M273.9 131.2h0M274.1 202.7h0M275.3 156.2h0M295.5 108.5h0M284.9 169.2h0M274.9 124.1h0M275.5 165.7h0M284.2 154.0h0M297.2 108.8h0M287.4 168.2h0M278.0 189.7h0M277.7 191.6h0M283.0 170.5h0M276.2 188.6h0M281.5 112.3h0M280.5 138.5h0M281.2 116.5h0M273.3 207.2h0M283.3 132.9h0M278.0 144.8h0M272.6 197.2h0M278.6 189.0h0M277.8 136.0h0M279.4 193.6h0M283.9 187.8h0M277.2 136.3h0M293.0 120.7h0M278.9 105.2h0M277.1 181.7h0M283.6 129.3h0M278.5 184.6h0M285.0 175.9h0M285.7 174.5h0M273.4 194.1h0M281.8 132.8h0M274.2 192.0h0M284.9 156.1h0M270.8 133.9h0M276.2 195.7h0M276.5 206.5h0M275.6 177.3h0M282.8 116.9h0M271.7 163.2h0M275.2 192.0h0M279.4 172.1h0M273.6 128.5h0M280.8 155.4h0M282.3 140.3h0M287.0 144.0h0M278.1 204.2h0M277.5 139.4h0M275.2 166.6h0" stroke="#f2644a" stroke-opacity="1" stroke-width="1.90" stroke-linecap="round" fill="none"/>
<rect x="172.2" y="94.5" width="168.8" height="145.8" fill="none" stroke="#444" stroke-width="0.8"/>
<line x1="179.84" y1="240.30" x2="179.84" y2="241.80" stroke="#444" stroke-width="0.5" />
<text x="179.84" y="246.30" font-size="5.0" text-anchor="middle" fill="#222" >-8</text>
<line x1="198.98" y1="240.30" x2="198.98" y2="241.80" stroke="#444" stroke-width="0.5" />
<text x="198.98" y="246.30" font-size="5.0" text-anchor="middle" fill="#222" >-6</text>
<line x1="218.12" y1="240.30" x2="218.12" y2="241.80" stroke="#444" stroke-width="0.5" />
<text x="218.12" y="246.30" font-size="5.0" text-anchor="middle" fill="#222" >-4</text>
<line x1="237.26" y1="240.30" x2="237.26" y2="241.80" stroke="#444" stroke-width="0.5" />
<text x="237.26" y="246.30" font-size="5.0" text-anchor="middle" fill="#222" >-2</text>
<line x1="256.40" y1="240.30" x2="256.40" y2="241.80" stroke="#444" stroke-width="0.5" />
<text x="256.40" y="246.30" font-size="5.0" text-anchor="middle" fill="#222" >0</text>
<line x1="275.54" y1="240.30" x2="275.54" y2="241.80" stroke="#444" stroke-width="0.5" />
<text x="275.54" y="246.30" font-size="5.0" text-anchor="middle" fill="#222" >2</text>
<line x1="294.68" y1="240.30" x2="294.68" y2="241.80" stroke="#444" stroke-width="0.5" />
<text x="294.68" y="246.30" font-size="5.0" text-anchor="middle" fill="#222" >4</text>
<line x1="313.82" y1="240.30" x2="313.82" y2="241.80" stroke="#444" stroke-width="0.5" />
<text x="313.82" y="246.30" font-size="5.0" text-anchor="middle" fill="#222" >6</text>
<line x1="332.96" y1="240.30" x2="332.96" y2="241.80" stroke="#444" stroke-width="0.5" />
<text x="332.96" y="246.30" font-size="5.0" text-anchor="middle" fill="#222" >8</text>
<line x1="170.70" y1="233.50" x2="172.20" y2="233.50" stroke="#444" stroke-width="0.5" />
<text x="169.20" y="235.30" font-size="5.0" text-anchor="end" fill="#222" >0</text>
<line x1="170.70" y1="195.70" x2="172.20" y2="195.70" stroke="#444" stroke-width="0.5" />
<text x="169.20" y="197.50" font-size="5.0" text-anchor="end" fill="#222" >2</text>
<line x1="170.70" y1="157.90" x2="172.20" y2="157.90" stroke="#444" stroke-width="0.5" />
<text x="169.20" y="159.70" font-size="5.0" text-anchor="end" fill="#222" >4</text>
<line x1="170.70" y1="120.10" x2="172.20" y2="120.10" stroke="#444" stroke-width="0.5" />
<text x="169.20" y="121.90" font-size="5.0" text-anchor="end" fill="#222" >6</text>
<text x="256.60" y="251.80" font-size="4.8" text-anchor="middle" fill="#222" >log<tspan font-size="3.2" dy="1">2</tspan><tspan dy="-1"> fold change</tspan></text>
<text x="0" y="0" font-size="4.8" fill="#222" text-anchor="middle" transform="translate(163.7 167.4) rotate(-90)">-log<tspan font-size="3.2" dy="1">10</tspan><tspan dy="-1">FDR</tspan></text>
<circle cx="189.2" cy="101.7" r="0.5" fill="#999"/>
<text x="195.20" y="103.00" font-size="4.0" text-anchor="start" fill="#333" >not differential expressed (5977)</text>
<circle cx="189.2" cy="110.3" r="0.9" fill="#4470ad"/>
<text x="195.20" y="111.60" font-size="4.0" text-anchor="start" fill="#333" >down-regulated genes (1387)</text>
<circle cx="189.2" cy="118.9" r="0.9" fill="#f2644a"/>
<text x="195.20" y="120.20" font-size="4.0" text-anchor="start" fill="#333" >up-regulated genes (2026)</text>
<path d="M575.3 228.9h0M584.2 230.0h0M576.1 233.1h0M569.6 217.2h0M580.6 232.5h0M581.7 229.1h0M609.5 214.8h0M585.6 231.0h0M587.8 232.1h0M592.2 233.1h0M609.2 218.8h0M567.4 217.1h0M595.4 233.0h0M595.1 231.6h0M609.4 213.2h0M578.9 225.6h0M592.6 231.6h0M602.5 227.7h0M587.7 231.5h0M604.4 222.2h0M618.1 219.1h0M597.5 232.2h0M597.4 230.0h0M597.3 230.9h0M601.9 226.1h0M595.8 231.2h0M583.8 230.9h0M580.2 227.2h0M569.8 211.7h0M586.5 230.6h0M579.4 231.3h0M593.6 231.7h0M593.7 232.7h0M590.5 232.6h0M607.7 217.0h0M579.0 227.1h0M589.5 231.6h0M589.9 232.1h0M578.7 226.9h0M595.3 231.7h0M616.0 212.7h0M568.7 207.0h0M573.2 217.9h0M606.3 219.1h0M600.3 230.8h0M611.1 211.5h0M576.3 231.9h0M576.6 223.7h0M603.0 233.3h0M564.3 219.3h0M578.7 232.6h0M584.0 232.2h0M590.4 231.8h0M582.8 229.0h0M577.3 222.8h0M583.5 229.2h0M596.9 232.0h0M590.5 231.6h0M591.4 232.7h0M590.7 231.9h0M594.5 231.1h0M594.9 232.0h0M593.0 232.8h0M598.4 232.1h0M615.1 219.4h0M566.6 223.0h0M593.6 232.3h0M592.2 232.7h0M600.2 228.7h0M600.6 229.4h0M583.7 228.9h0M594.8 231.6h0M596.3 231.9h0M596.4 230.6h0M597.2 231.7h0M576.5 226.1h0M592.4 231.8h0M594.9 232.1h0M585.7 231.0h0M599.7 233.5h0M579.9 226.4h0M596.1 233.1h0M599.5 232.8h0M594.1 231.6h0M610.6 232.9h0M588.7 233.4h0M593.9 233.3h0M615.3 220.8h0M571.9 213.3h0M609.7 219.3h0M595.4 232.7h0M600.2 233.0h0M588.5 233.1h0M563.7 216.7h0M614.5 212.1h0M584.9 231.1h0M610.3 211.7h0M605.1 221.9h0M599.8 229.4h0M593.7 233.2h0M598.3 233.3h0M604.4 222.5h0M564.0 229.2h0M588.1 233.5h0M614.4 231.8h0M606.6 222.6h0M579.2 231.4h0M603.8 232.6h0M580.8 229.2h0M591.6 233.0h0M564.0 209.2h0M599.6 228.8h0M583.4 229.6h0M616.5 222.5h0M616.2 221.4h0M580.5 226.6h0M568.9 209.4h0M599.6 231.2h0M613.1 210.7h0M570.0 210.0h0M603.3 227.1h0M594.3 232.1h0M600.6 230.6h0M575.1 229.0h0M583.1 229.7h0M608.8 216.1h0M609.4 229.8h0M607.3 216.8h0M591.1 233.1h0M587.5 231.9h0M603.5 226.5h0M584.1 230.4h0M591.8 231.8h0M601.9 225.3h0M571.7 220.8h0M585.4 230.7h0M597.4 231.4h0M591.7 232.7h0M606.4 225.9h0M622.2 208.1h0M602.6 226.3h0M613.5 210.0h0M588.7 232.9h0M603.2 227.7h0M607.0 222.7h0M598.4 230.1h0M612.3 216.4h0M569.9 213.1h0M601.3 227.3h0M607.9 216.6h0M583.5 232.0h0M590.3 233.5h0M586.3 231.5h0M585.8 231.7h0M583.5 229.9h0M612.3 232.1h0M601.0 226.6h0M609.3 218.8h0M590.8 232.5h0M563.2 211.4h0M579.1 228.4h0M578.3 229.1h0M591.2 231.8h0M561.3 218.9h0M574.9 220.8h0M608.2 227.1h0M612.3 228.4h0M572.9 222.8h0M581.3 230.6h0M592.2 232.8h0M597.5 233.1h0M613.4 208.2h0M604.7 230.7h0M602.8 225.3h0M593.1 232.1h0M588.2 233.3h0M592.9 232.8h0M576.8 223.6h0M591.3 232.2h0M592.0 232.8h0M587.3 231.5h0M584.9 232.3h0M572.7 223.1h0M604.2 230.7h0M575.2 219.2h0M585.6 231.6h0M584.2 230.5h0M598.4 233.1h0M601.0 227.0h0M599.8 227.6h0M606.2 218.9h0M583.5 231.1h0M599.0 231.6h0M605.5 222.8h0M595.2 231.1h0M577.1 224.2h0M600.5 231.9h0M571.0 232.8h0M585.0 231.8h0M569.0 225.3h0M585.2 232.8h0M602.8 224.5h0M587.6 231.5h0M603.9 223.5h0M585.6 230.0h0M582.9 231.7h0M595.3 231.0h0M611.7 209.2h0M601.7 228.9h0M608.2 226.8h0M580.3 232.4h0M573.6 217.5h0M605.6 229.6h0M614.1 216.1h0M614.8 211.4h0M585.0 230.2h0M565.9 226.5h0M605.1 220.6h0M606.3 233.0h0M592.7 231.9h0M600.2 232.9h0M595.8 232.3h0M578.1 222.8h0M622.3 212.8h0M607.1 231.0h0M578.4 224.7h0M558.3 208.1h0M578.6 226.1h0M599.8 233.1h0M591.7 233.0h0M614.8 208.1h0M590.6 231.8h0M588.9 232.4h0M592.5 233.3h0M568.5 218.5h0M595.1 231.4h0M585.2 231.6h0M604.7 231.7h0M610.3 211.6h0M592.3 232.5h0M615.0 231.2h0M574.9 219.2h0M612.8 212.4h0M600.9 232.4h0M579.4 230.4h0M596.9 231.4h0M578.9 229.1h0M592.4 231.8h0M575.3 225.6h0M596.1 232.8h0M611.9 211.2h0M587.2 233.1h0M579.7 224.9h0M606.6 232.0h0M590.8 231.8h0M593.6 232.5h0M590.0 232.8h0M617.0 229.1h0M590.0 231.9h0M603.9 233.3h0M610.4 213.5h0M600.5 227.2h0M601.7 226.9h0M598.4 232.5h0M600.0 233.3h0M591.5 231.8h0M621.2 208.1h0M590.6 232.0h0M589.6 232.3h0M594.4 232.1h0M591.7 231.7h0M588.2 232.3h0M599.0 230.3h0M562.0 210.5h0M573.8 219.7h0M578.5 229.0h0M604.2 233.2h0M588.5 231.9h0M583.2 229.4h0M598.1 230.6h0M581.6 227.9h0M600.7 230.2h0M593.9 233.1h0M602.2 233.0h0M601.5 229.4h0M612.6 208.0h0M600.7 230.6h0M590.6 232.3h0M598.0 232.5h0M581.0 232.7h0M588.8 232.2h0M581.3 230.0h0M571.6 212.7h0M588.8 231.4h0M615.8 208.5h0M592.5 232.6h0M610.0 225.8h0M586.8 230.8h0M602.2 225.0h0M584.1 233.1h0M590.7 233.2h0M590.1 233.2h0M568.8 209.9h0M599.7 233.2h0M602.6 229.4h0M589.9 232.2h0M595.5 233.4h0M587.6 231.9h0M594.3 231.6h0M571.1 213.1h0M612.1 208.7h0M579.4 227.2h0M585.2 231.9h0M595.0 233.4h0M588.3 231.7h0M562.3 232.2h0M591.5 232.9h0M581.0 227.4h0M586.7 230.5h0M602.0 225.8h0M590.6 231.6h0M601.1 231.6h0M597.5 231.8h0M581.6 226.9h0M576.4 221.4h0M584.3 232.0h0M576.3 230.2h0M588.4 231.3h0M603.5 224.8h0M580.9 227.3h0M586.2 232.7h0M590.5 231.7h0M593.8 232.1h0M586.0 233.2h0M609.2 216.1h0M585.5 232.6h0M579.9 232.3h0M584.4 229.4h0M583.8 229.3h0M581.7 229.5h0M588.9 231.9h0M624.0 213.9h0M603.2 228.5h0M592.5 233.5h0M583.2 231.6h0M577.5 223.5h0M609.0 213.5h0M583.4 233.2h0M575.7 232.6h0M601.6 226.3h0M587.6 232.6h0M607.2 224.8h0M596.9 231.5h0M591.8 232.0h0M603.5 224.4h0M588.8 231.9h0M596.9 230.3h0M576.6 227.3h0M592.0 231.6h0M595.1 232.1h0M580.6 228.2h0M603.8 226.1h0M586.5 232.2h0M585.9 232.4h0M567.9 216.5h0M585.9 231.0h0M597.8 230.4h0M585.7 232.6h0M608.2 221.1h0M615.0 207.0h0M585.3 230.7h0M602.0 230.6h0M592.8 232.4h0M597.5 231.6h0M607.0 229.3h0M579.0 225.8h0M588.2 232.9h0M603.2 227.6h0M597.4 232.1h0M608.1 215.0h0M573.8 216.6h0M594.8 232.0h0M577.4 227.0h0M586.4 231.8h0M578.3 225.1h0M584.9 231.5h0M608.9 215.5h0M598.6 229.7h0M604.6 224.6h0M610.0 218.0h0M574.7 220.5h0M590.9 232.4h0M594.4 231.6h0M571.2 212.5h0M578.2 224.7h0M610.8 211.4h0M578.1 227.7h0M598.6 230.0h0M561.6 219.5h0M614.2 209.0h0M584.6 233.0h0M591.7 233.1h0M594.0 232.4h0M603.9 224.5h0M581.6 227.2h0M600.4 230.8h0M588.8 231.6h0M583.4 228.4h0M598.6 232.1h0M606.5 231.9h0M597.6 230.2h0M600.6 227.0h0M608.2 231.6h0M595.0 231.0h0M592.1 233.3h0M604.3 224.9h0M608.1 216.4h0M575.8 223.7h0M589.2 232.2h0M586.0 231.5h0M589.2 233.1h0M597.0 232.7h0M586.4 233.0h0M575.2 225.2h0M596.9 232.6h0M612.1 218.5h0M591.1 232.2h0M590.0 232.1h0M583.2 229.1h0M569.1 230.0h0M596.7 233.0h0M605.2 231.2h0M602.5 232.7h0M595.1 233.3h0M576.1 220.1h0M593.1 233.5h0M610.3 219.1h0M583.3 229.9h0M592.5 233.3h0M607.3 220.8h0M564.5 217.7h0M570.6 232.2h0M563.9 207.2h0M604.2 229.1h0M597.7 229.5h0M592.6 233.2h0M598.8 231.9h0M569.7 212.3h0M588.3 232.2h0M606.0 223.3h0M588.6 233.3h0M587.5 233.5h0M625.4 210.4h0M592.9 232.9h0M592.8 231.8h0M586.7 232.5h0M599.5 233.1h0M593.2 232.3h0M595.0 233.2h0M573.5 226.6h0M590.4 231.7h0M582.8 231.1h0M574.8 220.0h0M583.4 232.4h0M585.1 230.2h0M595.9 231.4h0M586.7 232.9h0M579.7 233.0h0M611.2 221.9h0M588.5 232.1h0M579.6 226.9h0M595.3 232.9h0M612.8 209.6h0M587.5 232.5h0M579.0 232.3h0M598.3 231.2h0M581.7 227.4h0M586.1 231.7h0M600.4 227.1h0M570.3 217.9h0M594.0 232.9h0M573.7 217.2h0M589.7 232.7h0M593.8 232.5h0M579.5 231.5h0M590.0 231.6h0M578.7 227.5h0M586.2 232.9h0M607.5 229.2h0M593.5 231.8h0M581.7 230.8h0M607.3 219.2h0M593.1 231.8h0M567.7 208.1h0M580.6 227.1h0M599.1 230.2h0M611.7 208.9h0M583.0 232.4h0M586.3 231.5h0M584.0 229.3h0M571.6 215.5h0M598.4 230.0h0M593.3 232.2h0M627.5 212.1h0M593.9 231.8h0M607.2 222.4h0M601.9 230.3h0M587.5 232.1h0M591.2 232.2h0M605.2 225.8h0M602.8 230.1h0M609.6 212.0h0M578.3 228.1h0M605.2 225.7h0M613.7 208.2h0M594.1 231.3h0M592.2 232.2h0M578.1 223.5h0M578.0 222.8h0M605.2 224.4h0M566.7 211.8h0M599.9 228.1h0M587.3 231.0h0M589.0 232.4h0M586.7 230.9h0M599.3 229.9h0M564.5 212.5h0M607.2 220.1h0M581.0 229.1h0M592.2 232.9h0M595.8 233.3h0M604.2 226.8h0M607.7 219.9h0M584.4 232.1h0M591.8 232.6h0M592.6 232.6h0M601.3 231.4h0M592.4 233.2h0M593.3 231.7h0M569.1 215.6h0M585.6 230.9h0M603.1 227.2h0M620.2 208.3h0M609.8 233.5h0M583.3 232.8h0M597.7 232.8h0M601.7 225.7h0M600.5 229.4h0M596.9 230.4h0M600.0 228.8h0M608.3 221.6h0M591.3 232.7h0M590.9 231.9h0M590.2 232.7h0M613.5 220.6h0M612.0 210.3h0M601.7 228.3h0M600.7 227.8h0M602.3 232.1h0M578.7 227.1h0M609.3 217.8h0M585.0 231.7h0M603.4 227.1h0M577.7 223.2h0M606.4 232.7h0M578.8 224.7h0M603.2 226.7h0M596.0 231.3h0M590.7 233.2h0M583.7 229.3h0M609.0 228.9h0M607.8 223.6h0M593.5 233.0h0M617.0 227.6h0M592.9 233.5h0M581.7 227.3h0M613.2 212.2h0M603.7 227.3h0M601.4 226.4h0M586.7 231.4h0M602.7 224.3h0M587.5 231.0h0M572.0 214.9h0M610.8 221.8h0M568.9 215.2h0M619.6 209.3h0M584.6 230.9h0M606.4 222.0h0M595.6 232.0h0M591.1 231.8h0M601.1 227.9h0M583.0 232.4h0M598.5 232.1h0M590.3 233.0h0M571.5 216.6h0M577.0 221.9h0M588.9 231.8h0M584.9 232.6h0M622.4 208.2h0M584.4 230.0h0M592.7 231.8h0M584.0 229.1h0M611.2 225.8h0M572.0 216.5h0M593.3 231.5h0M608.2 216.5h0M626.0 211.0h0M571.6 214.2h0M570.3 216.5h0M573.6 220.9h0M581.6 228.1h0M574.2 219.5h0M577.5 233.1h0M594.3 231.2h0M558.6 232.6h0M580.5 226.3h0M620.6 209.6h0M591.7 232.4h0M596.9 232.5h0M606.4 219.8h0M576.0 220.8h0M592.3 233.3h0M583.8 229.2h0M594.2 232.0h0M585.2 230.2h0M591.0 232.4h0M589.9 231.9h0M604.9 225.6h0M615.0 208.8h0M593.1 232.7h0M596.6 231.4h0M591.1 232.3h0M603.6 225.9h0M570.9 222.8h0M593.8 233.5h0M615.1 220.0h0M588.1 231.5h0M597.4 230.6h0M602.0 229.4h0M568.0 210.8h0M590.7 231.8h0M601.0 228.8h0M577.9 229.6h0M572.9 229.5h0M572.5 221.0h0M582.8 231.8h0M593.0 231.6h0M586.2 230.9h0M580.6 226.0h0M600.4 231.1h0M583.7 233.0h0M583.5 229.8h0M602.0 226.0h0M591.0 231.7h0M579.9 227.0h0M604.6 225.7h0M581.8 232.1h0M579.0 224.2h0M609.7 223.0h0M581.1 231.9h0M593.1 232.5h0M605.3 228.4h0M573.5 218.8h0M600.1 228.8h0M582.7 229.4h0M581.3 228.8h0M583.4 230.0h0M599.9 230.6h0M600.2 231.2h0M601.8 227.3h0M594.8 232.8h0M581.7 229.2h0M584.6 231.7h0M605.5 220.5h0M598.1 231.4h0M574.6 219.0h0M590.5 231.9h0M606.1 231.1h0M619.6 207.5h0M569.4 209.3h0M608.9 215.7h0M588.4 232.4h0M587.9 231.7h0M565.4 209.8h0M574.4 222.0h0M563.4 215.3h0M589.3 232.5h0M592.2 232.2h0M604.1 230.7h0M599.4 232.0h0M610.7 212.0h0M587.2 231.3h0M578.6 224.5h0M585.7 233.4h0M595.1 233.0h0M600.1 232.1h0M593.9 231.8h0M600.9 229.0h0M606.7 221.8h0M582.2 228.5h0M593.4 232.2h0M604.7 228.7h0M611.1 211.9h0M575.2 219.8h0M611.3 209.5h0M594.7 231.9h0M605.4 222.3h0M613.0 213.3h0M594.2 231.9h0M589.1 232.1h0M606.3 222.1h0M568.0 207.9h0M597.1 232.8h0M582.3 232.0h0M580.0 228.3h0M578.8 227.3h0M572.7 232.0h0M599.3 228.1h0M594.2 232.4h0M611.2 213.0h0M593.6 231.5h0M610.7 211.8h0M598.7 231.8h0M577.4 222.8h0M614.2 208.0h0M602.6 227.5h0M580.6 227.5h0M584.9 232.2h0M586.7 231.7h0M589.4 232.4h0M589.8 233.0h0M608.0 215.9h0M605.5 226.0h0M610.8 212.1h0M584.5 229.4h0M597.3 230.7h0M584.0 229.2h0M602.6 231.4h0M590.0 233.3h0M592.8 232.7h0M579.9 232.9h0M590.0 231.8h0M572.8 216.3h0M585.8 232.3h0M590.9 232.9h0M585.7 232.1h0M586.6 233.3h0M614.4 211.6h0M580.0 226.7h0M611.2 210.6h0M618.0 224.9h0M597.5 231.6h0M566.6 215.6h0M604.2 223.6h0M585.0 230.8h0M601.3 227.2h0M574.9 218.5h0M617.5 212.3h0M593.9 231.4h0M568.9 222.1h0M584.5 232.2h0M609.2 225.9h0M611.0 210.1h0M581.1 227.6h0M590.7 232.4h0M597.7 230.1h0M610.0 227.5h0M589.4 231.9h0M590.8 232.6h0M579.9 227.3h0M598.5 231.2h0M583.1 233.3h0M590.4 232.3h0M589.6 232.2h0M610.9 227.0h0M588.5 233.1h0M595.4 232.7h0M591.5 232.3h0M582.4 232.6h0M611.0 226.4h0M579.5 232.2h0M614.8 210.9h0M590.8 231.9h0M599.1 229.1h0M609.7 225.3h0M614.8 213.2h0M615.5 209.4h0M594.7 233.1h0M602.2 229.0h0M615.6 207.0h0M587.6 233.0h0M583.7 231.3h0M584.8 229.7h0M582.2 229.1h0M614.5 210.1h0M601.6 225.6h0M578.3 228.3h0M594.4 232.9h0M593.0 232.4h0M592.5 232.9h0M595.5 232.3h0M612.4 208.9h0M583.1 229.9h0M616.2 216.5h0M609.3 228.1h0M593.9 231.9h0M583.6 230.9h0M600.4 229.0h0M582.8 231.6h0M582.7 229.9h0M580.3 232.6h0M566.8 210.3h0M596.1 232.4h0M592.3 232.0h0M567.0 210.2h0M598.0 231.5h0M605.7 229.0h0M587.4 232.9h0M592.8 233.4h0M614.2 209.3h0M586.1 231.5h0M610.2 219.6h0M589.8 232.5h0M602.2 232.3h0M595.3 231.1h0M599.1 232.3h0M599.2 232.2h0M584.7 231.4h0M567.9 214.9h0M599.5 232.6h0M599.3 232.9h0M607.2 219.1h0M591.3 232.7h0M600.1 228.3h0M606.0 222.1h0M593.7 233.0h0M599.1 230.5h0M589.2 231.6h0M580.2 227.9h0M595.3 231.5h0M578.3 224.7h0M605.7 221.4h0M602.1 225.9h0M600.8 231.0h0M582.7 231.6h0M592.7 232.5h0M574.7 223.0h0M596.7 232.5h0M609.0 219.9h0M599.5 229.8h0M577.5 225.1h0M573.5 217.8h0M604.6 226.6h0M596.1 230.5h0M608.0 217.6h0M584.8 231.7h0M587.6 232.2h0M576.5 231.0h0M589.7 232.8h0M586.8 231.7h0M589.1 231.7h0M597.6 230.6h0M585.6 233.4h0M600.4 227.6h0M586.9 231.6h0M587.5 231.1h0M599.6 228.8h0M609.5 224.8h0M577.3 226.1h0M578.8 225.6h0M588.9 231.8h0M608.1 218.5h0M594.3 232.5h0M595.0 231.3h0M590.9 232.6h0M578.1 230.4h0M580.0 232.0h0M584.0 229.5h0M576.9 227.3h0M570.9 211.7h0M585.6 231.8h0M613.1 227.8h0M612.4 207.2h0M586.8 231.9h0M607.1 218.1h0M601.6 225.8h0M571.2 230.1h0M589.2 232.2h0M597.7 233.1h0M595.6 232.0h0M601.6 231.9h0M615.7 213.4h0M587.6 232.6h0M593.4 232.2h0M588.8 231.8h0M592.2 231.7h0M589.9 232.1h0M598.3 229.0h0M605.4 223.6h0M603.4 226.6h0M595.1 233.0h0M592.8 232.1h0M576.1 232.0h0M614.7 220.2h0M586.1 233.1h0M580.4 231.8h0M601.7 232.2h0M571.0 220.2h0M601.1 229.6h0M595.6 230.8h0M618.6 212.9h0M581.1 228.3h0M576.0 221.5h0M581.6 231.7h0M611.8 211.7h0M584.6 230.1h0M591.2 231.8h0M582.9 228.6h0M584.5 230.9h0M586.9 233.3h0M593.4 231.6h0M599.5 231.9h0M597.2 233.2h0M598.3 233.0h0M573.7 227.6h0M601.0 231.4h0M587.4 231.1h0M556.8 215.7h0M617.3 209.2h0M600.5 232.7h0M574.4 226.7h0M596.1 232.3h0M600.7 226.6h0M587.3 231.8h0M611.6 210.8h0M579.5 225.6h0M613.9 225.4h0M594.0 233.3h0M583.9 230.9h0M578.1 228.6h0M578.9 224.0h0M589.2 233.5h0M582.9 228.2h0M595.4 231.0h0M590.8 231.8h0M594.1 232.6h0M593.0 233.4h0M593.4 232.8h0M591.6 232.5h0M605.5 233.0h0M574.0 232.3h0M632.2 210.7h0M609.1 215.7h0M573.5 220.3h0M603.0 226.4h0M603.0 225.4h0M584.9 233.4h0M597.7 233.3h0M583.8 232.3h0M574.6 222.5h0M583.8 229.5h0M589.0 232.6h0M596.8 233.0h0M610.6 214.7h0M589.7 232.5h0M601.1 232.4h0M589.8 231.9h0M621.2 207.7h0M593.0 232.7h0M595.9 230.9h0M599.9 232.1h0M566.6 211.2h0M607.6 223.1h0M602.8 227.0h0M593.0 232.1h0M595.1 233.2h0M579.4 227.8h0M589.7 232.7h0M578.4 224.5h0M593.5 232.0h0M600.1 227.4h0M602.9 224.1h0M585.4 230.7h0M615.8 216.1h0M600.7 227.3h0M598.0 231.9h0M597.1 232.4h0M615.1 207.6h0M580.5 228.8h0M579.8 225.1h0M587.0 231.8h0M603.6 232.5h0M620.6 211.5h0M583.5 231.8h0M620.2 227.9h0M580.3 227.8h0M592.4 231.6h0M590.6 233.0h0M597.8 232.3h0M579.5 232.4h0M587.7 232.4h0M604.3 226.8h0M587.5 232.4h0M590.4 232.3h0M575.5 225.1h0M588.7 231.5h0M580.5 226.7h0M593.3 232.1h0M589.8 233.3h0M585.6 233.0h0M596.6 231.2h0M621.2 219.8h0M580.1 226.7h0M588.9 232.0h0M587.3 233.2h0M602.5 228.3h0M601.8 225.4h0M589.9 232.8h0M605.7 220.2h0M587.5 233.3h0M597.6 232.2h0M578.0 223.3h0M586.5 232.5h0M583.2 232.4h0M606.5 222.3h0M596.2 231.8h0M589.5 232.6h0M603.4 233.0h0M589.8 233.2h0M567.3 230.2h0M606.4 224.4h0M579.4 232.2h0M593.2 232.8h0M572.9 215.2h0M600.7 228.1h0M591.9 233.3h0M584.8 232.3h0M561.8 209.9h0M612.1 209.5h0M611.6 212.8h0M576.7 225.4h0M569.6 213.0h0M579.9 229.0h0M608.4 222.9h0M591.4 233.4h0M605.7 221.7h0M595.5 231.1h0M593.1 233.2h0M612.6 221.0h0M579.0 231.0h0M571.4 225.5h0M590.5 233.1h0M583.1 232.9h0M579.9 228.5h0M583.8 229.4h0M614.7 213.5h0M588.8 233.0h0M607.8 216.2h0M596.1 231.3h0M572.5 214.8h0M579.8 233.4h0M603.4 226.0h0M619.6 207.3h0M588.3 232.2h0M577.3 232.1h0M568.5 209.5h0M593.4 231.9h0M577.6 222.3h0M586.1 231.5h0M592.9 232.0h0M576.0 221.3h0M596.3 231.3h0M583.3 228.8h0M585.2 232.0h0M610.3 216.1h0M597.0 232.7h0M585.0 231.1h0M601.4 227.0h0M578.6 232.3h0M568.7 210.8h0M576.2 220.9h0M570.4 232.8h0M618.6 225.3h0M579.5 226.2h0M564.2 207.6h0M573.6 221.1h0M604.8 224.0h0M582.4 229.0h0M593.0 232.5h0M597.7 232.4h0M586.2 232.6h0M605.5 220.1h0M590.0 232.0h0M611.8 209.5h0M579.7 229.4h0M583.7 231.7h0M613.2 219.4h0M591.3 232.0h0M584.0 232.3h0M595.9 233.4h0M583.0 228.1h0M596.5 231.9h0M586.9 231.7h0M584.3 230.5h0M584.6 229.2h0M597.6 229.5h0M576.1 220.0h0M596.2 232.0h0M613.7 207.7h0M585.5 232.4h0M586.5 230.4h0M601.8 226.8h0M584.5 230.3h0M573.9 219.6h0M589.0 231.9h0M622.6 215.5h0M578.4 224.0h0M588.7 231.7h0M596.2 231.5h0M561.0 208.7h0M601.8 231.8h0M579.0 224.2h0M614.3 208.0h0M588.7 231.4h0M590.2 232.2h0M594.1 231.6h0M576.4 222.4h0M604.5 232.8h0M592.1 233.4h0M587.6 233.1h0M570.1 217.3h0M603.5 232.8h0M593.6 233.3h0M597.1 231.9h0M568.7 210.3h0M618.5 207.2h0M591.8 233.0h0M569.2 208.8h0M586.5 231.0h0M598.2 231.7h0M584.8 231.7h0M598.2 229.8h0M608.6 214.1h0M582.5 232.6h0M591.8 231.7h0M573.8 216.7h0M604.5 227.1h0M602.9 225.7h0M609.8 216.2h0M582.1 230.9h0M579.0 233.5h0M598.5 231.2h0M601.7 231.9h0M593.6 233.3h0M597.3 230.9h0M594.1 231.4h0M606.1 226.9h0M580.4 230.2h0M593.7 232.5h0M597.6 230.0h0M602.8 225.8h0M598.5 230.7h0M582.3 228.4h0M604.8 222.8h0M596.8 231.4h0M572.7 226.4h0M611.7 212.8h0M592.8 233.1h0M604.3 221.9h0M567.9 208.5h0M578.7 225.2h0M584.4 229.8h0M600.5 229.0h0M566.7 211.6h0M586.7 231.6h0M581.2 226.3h0M613.8 208.1h0M599.9 231.7h0M600.6 230.5h0M610.0 212.1h0M595.7 231.7h0M583.1 228.9h0M605.8 227.5h0M579.8 226.5h0M582.3 232.9h0M592.2 232.6h0M576.4 221.8h0M587.1 232.1h0M606.2 231.6h0M576.8 223.7h0M612.5 210.7h0M581.9 228.3h0M596.8 231.5h0M594.5 232.2h0M589.9 232.5h0M572.3 219.5h0M586.8 232.2h0M597.8 232.6h0M581.7 227.3h0M585.8 233.4h0M587.2 231.9h0M616.1 207.2h0M562.5 232.2h0M595.7 230.7h0M586.9 232.6h0M596.1 231.7h0M606.9 220.3h0M600.1 228.9h0M575.2 232.5h0M596.0 231.6h0M573.4 226.3h0M594.4 232.3h0M594.9 232.2h0M612.0 211.7h0M591.5 231.9h0M586.7 232.6h0M603.4 232.1h0M599.3 229.9h0M595.2 233.3h0M603.9 223.7h0M573.9 230.7h0M584.0 230.7h0M585.3 230.2h0M588.3 231.2h0M599.4 230.5h0M590.9 232.8h0M586.6 231.6h0M588.5 232.1h0M576.7 223.6h0M591.0 231.7h0M589.5 233.1h0M592.9 231.7h0M594.4 231.7h0M590.1 232.3h0M568.6 210.8h0M594.2 232.9h0M616.0 218.3h0M576.2 227.4h0M584.0 232.9h0M625.8 231.9h0M602.5 224.8h0M597.6 230.8h0M584.7 232.3h0M590.3 232.7h0M606.8 225.5h0M585.8 231.2h0M557.9 221.2h0M581.1 227.4h0M614.4 217.4h0M607.0 219.3h0M610.1 218.4h0M605.0 224.5h0M592.2 231.8h0M602.1 230.7h0M586.5 231.8h0M590.4 231.8h0M579.2 224.5h0M593.4 233.5h0M612.6 223.4h0M579.8 230.3h0M576.5 221.2h0M603.0 223.7h0M588.4 231.8h0M585.4 231.0h0M603.7 230.7h0M589.8 232.7h0M602.0 231.7h0M616.7 211.7h0M607.1 220.2h0M609.6 224.1h0M572.8 216.3h0M579.2 230.4h0M600.4 227.0h0M600.5 230.2h0M607.5 221.9h0M601.3 226.9h0M597.5 233.2h0M600.4 228.0h0M576.7 227.9h0M581.7 228.8h0M593.7 232.9h0M578.7 223.5h0M580.8 227.4h0M594.4 232.5h0M578.8 224.6h0M574.7 228.1h0M585.4 230.1h0M581.3 226.7h0M594.0 231.6h0M597.7 229.4h0M592.4 232.2h0M596.3 233.1h0M584.2 233.5h0M595.3 233.4h0M592.0 232.3h0M585.0 232.9h0M569.9 233.5h0M574.6 232.7h0M590.9 233.1h0M576.4 225.2h0M580.2 225.4h0M603.9 230.0h0M587.9 233.2h0M613.8 218.7h0M593.3 232.6h0M592.9 231.8h0M590.3 231.6h0M604.2 226.4h0M589.0 232.5h0M606.6 229.0h0M603.9 227.0h0M610.8 225.1h0M603.6 223.8h0M584.3 229.1h0M592.9 231.7h0M593.6 232.8h0M588.8 233.4h0M598.2 233.0h0M606.6 227.6h0M584.5 231.9h0M602.3 229.7h0M593.0 232.1h0M593.0 232.4h0M595.0 231.6h0M608.4 224.1h0M601.9 227.8h0M597.4 232.9h0M590.1 232.6h0M601.9 233.0h0M562.0 233.5h0M614.6 211.7h0M571.5 213.0h0M581.2 228.1h0M623.0 207.1h0M575.0 233.0h0M587.6 232.3h0M595.6 231.3h0M594.3 231.4h0M603.0 225.2h0M597.4 233.4h0M601.6 226.8h0M607.4 218.4h0M600.0 229.8h0M578.1 232.5h0M578.4 233.5h0M602.3 225.1h0M600.1 228.1h0M575.4 221.9h0M574.3 218.5h0M610.9 212.7h0M589.2 232.8h0M590.7 231.8h0M603.8 233.2h0M596.1 232.7h0M594.3 233.1h0M586.4 230.7h0M578.7 224.3h0M592.3 232.9h0M592.2 231.9h0M597.5 231.9h0M587.8 231.2h0M587.4 231.9h0M608.1 216.9h0M579.6 227.3h0M582.7 231.8h0M583.1 233.3h0M592.9 233.0h0M576.3 221.6h0M586.7 232.1h0M580.3 226.4h0M601.4 229.4h0M594.6 233.2h0M578.2 224.1h0M604.4 221.9h0M582.6 228.6h0M593.5 232.7h0M595.4 232.4h0M584.8 229.7h0M587.3 231.7h0M605.5 232.4h0M587.8 232.7h0M587.2 230.8h0M586.4 231.8h0M600.8 232.7h0M599.9 227.9h0M563.2 217.2h0M576.3 221.6h0M594.1 231.4h0M598.9 231.2h0M606.0 225.3h0M587.4 230.7h0M585.2 233.2h0M588.6 232.4h0M581.0 228.2h0M600.3 231.9h0M565.9 206.9h0M578.6 231.4h0M599.2 233.1h0M586.7 233.2h0M570.9 214.7h0M602.3 225.1h0M588.7 232.1h0M607.9 217.7h0M608.5 231.7h0M580.2 226.2h0M604.7 228.6h0M574.1 228.9h0M580.8 233.4h0M591.9 233.3h0M592.5 233.3h0M575.8 225.9h0M605.9 224.8h0M580.4 226.9h0M583.8 231.5h0M582.7 228.1h0M600.9 227.0h0M584.6 233.4h0M565.8 211.7h0M591.4 233.5h0M594.6 232.5h0M594.6 232.3h0M604.8 226.1h0M589.3 232.8h0M591.4 232.1h0M594.6 233.4h0M586.2 233.3h0M573.9 222.9h0M612.1 208.1h0M603.1 226.0h0M570.2 214.9h0M594.4 232.6h0M613.7 218.0h0M603.6 225.6h0M586.5 232.1h0M586.1 231.1h0M586.6 232.4h0M584.3 232.5h0M578.6 230.7h0M560.9 208.2h0M576.6 221.7h0M615.4 228.0h0M585.0 231.3h0M597.9 230.0h0M596.7 231.7h0M588.4 232.1h0M606.4 224.5h0M598.6 229.0h0M591.0 233.4h0M582.7 232.3h0M582.1 232.6h0M601.9 227.1h0M584.3 231.0h0M606.4 229.4h0M590.9 233.5h0M607.7 217.6h0M587.5 233.0h0M594.5 233.0h0M626.4 223.1h0M599.1 232.5h0M593.1 232.6h0M592.9 233.3h0M572.3 218.3h0M604.8 226.6h0M597.6 229.9h0M585.2 232.7h0M604.0 226.1h0M597.0 231.1h0M599.3 233.4h0M598.3 232.2h0M578.2 225.6h0M573.3 215.7h0M579.6 232.0h0M615.3 217.1h0M599.2 228.5h0M591.2 232.7h0M590.7 232.4h0M618.5 214.3h0M601.2 228.5h0M577.9 227.0h0M576.8 229.6h0M588.3 232.3h0M574.4 231.0h0M588.1 231.1h0M588.4 231.7h0M571.4 216.7h0M579.5 228.4h0M581.8 232.2h0M587.4 230.8h0M564.4 219.1h0M615.3 219.7h0M600.4 228.5h0M578.3 233.4h0M607.8 224.0h0M604.2 223.7h0M602.7 224.6h0M578.9 226.8h0M595.0 232.3h0M590.6 231.6h0M607.6 218.7h0M581.1 232.8h0M581.1 227.3h0M604.9 228.8h0M595.7 233.3h0M602.9 233.1h0M604.8 223.0h0M596.9 231.1h0M595.9 232.7h0M587.9 232.0h0M609.2 224.4h0M616.0 211.8h0M575.4 220.7h0M585.6 230.8h0M609.5 213.9h0M607.2 219.9h0M605.1 223.7h0M595.1 232.4h0M597.7 232.9h0M603.0 224.2h0M587.8 231.9h0M622.6 207.3h0M586.5 233.3h0M585.9 231.1h0M577.0 223.0h0M591.3 232.2h0M597.7 230.5h0M580.8 226.0h0M591.4 233.2h0M608.4 225.7h0M610.1 213.4h0M599.2 229.4h0M582.0 227.4h0M599.9 232.5h0M607.6 216.8h0M576.2 226.4h0M579.6 232.0h0M602.5 233.4h0M586.3 231.9h0M588.7 232.9h0M580.8 233.0h0M566.3 212.1h0M582.0 228.2h0M575.9 220.5h0M597.0 230.4h0M579.9 225.8h0M606.5 218.7h0M596.5 232.1h0M578.9 227.3h0M586.3 231.7h0M577.8 226.1h0M586.5 233.5h0M575.7 226.1h0M583.1 232.3h0M579.0 224.2h0M579.3 226.3h0M590.8 232.3h0M597.1 231.6h0M576.9 224.6h0M589.8 232.7h0M580.5 232.4h0M561.9 211.6h0M597.5 230.8h0M579.7 225.1h0M597.4 232.4h0M594.8 232.6h0M568.5 224.4h0M607.9 219.3h0M581.8 232.4h0M603.2 226.2h0M609.4 212.8h0M604.9 223.6h0M603.8 223.3h0M567.5 209.1h0M578.9 224.5h0M594.8 231.1h0M599.0 231.2h0M574.2 221.6h0M588.9 232.3h0M607.0 218.9h0M613.9 207.6h0M577.6 223.7h0M596.3 231.6h0M578.6 226.4h0M614.4 215.6h0M595.4 232.7h0M605.4 228.9h0M581.1 230.7h0M588.7 231.3h0M605.5 232.9h0M580.5 229.9h0M583.4 232.8h0M610.4 221.4h0M593.7 231.4h0M592.1 232.3h0M605.4 230.9h0M588.2 232.9h0M577.4 224.7h0M607.3 219.0h0M575.8 219.5h0M585.9 232.9h0M608.3 215.5h0M567.3 208.3h0M572.7 215.8h0M600.2 228.8h0M614.5 207.4h0M596.2 231.7h0M589.1 233.4h0M607.1 219.0h0M602.4 227.0h0M576.9 228.6h0M613.7 207.4h0M583.2 228.4h0M596.8 230.7h0M581.9 229.3h0M568.2 211.5h0M571.6 217.7h0M571.3 211.8h0M574.1 218.8h0M604.1 228.9h0M611.3 208.3h0M600.4 229.0h0M603.2 226.8h0M576.5 226.0h0M591.7 232.0h0M578.6 224.8h0M593.8 231.6h0M591.5 232.4h0M580.2 225.3h0M599.9 230.1h0M603.9 228.1h0M603.9 224.2h0M594.3 233.3h0M620.3 224.2h0M590.0 232.2h0M581.9 228.7h0M574.3 222.0h0M607.6 224.3h0M581.7 226.9h0M599.2 228.2h0M573.2 215.6h0M588.0 232.1h0M575.9 232.4h0M590.7 231.7h0M560.5 207.5h0M575.3 228.5h0M584.5 230.3h0M587.4 233.4h0M581.9 230.8h0M567.4 208.1h0M607.3 225.9h0M576.2 220.9h0M587.5 231.9h0M597.1 232.1h0M589.9 231.7h0M600.7 226.6h0M601.7 227.7h0M584.8 233.0h0M583.0 232.3h0M592.4 233.1h0M602.9 224.9h0M588.0 232.7h0M592.2 232.5h0M589.8 232.2h0M579.5 226.3h0M604.0 231.9h0M598.8 229.6h0M595.8 232.3h0M593.4 232.3h0M584.0 230.7h0M585.4 230.9h0M605.1 221.2h0M608.2 217.5h0M584.5 232.5h0M584.9 229.9h0M586.9 233.1h0M595.7 233.4h0M602.8 231.8h0M567.3 214.8h0M588.4 232.9h0M573.6 226.0h0M607.5 231.9h0M596.9 233.3h0M598.3 229.8h0M589.2 233.3h0M584.2 229.6h0M581.1 232.7h0M594.1 232.2h0M576.5 225.3h0M579.8 231.0h0M593.3 233.0h0M582.0 228.8h0M583.3 233.4h0M613.4 207.9h0M586.7 232.2h0M611.2 215.9h0M609.3 214.3h0M617.3 212.7h0M596.1 233.1h0M588.9 233.1h0M581.1 228.7h0M567.5 212.2h0M613.1 208.7h0M590.3 231.6h0M593.0 233.4h0M599.4 229.1h0M580.4 232.6h0M602.0 230.4h0M580.5 232.0h0M595.9 232.2h0M605.9 221.1h0M592.7 232.2h0M588.8 232.9h0M580.3 225.5h0M597.2 230.6h0M587.2 232.9h0M589.7 232.5h0M576.1 227.5h0M579.3 224.5h0M561.2 209.3h0M583.2 233.0h0M612.0 223.5h0M574.9 218.8h0M578.7 225.4h0M605.6 233.2h0M607.3 231.1h0M584.8 230.8h0M594.9 231.8h0M588.6 231.9h0M601.6 229.2h0M597.4 233.0h0M594.2 233.0h0M576.3 229.9h0M587.5 232.2h0M588.4 232.5h0M594.6 233.3h0M580.6 233.4h0M593.0 233.1h0M582.6 228.6h0M603.7 224.1h0M603.9 222.6h0M608.3 220.3h0M595.2 231.5h0M564.6 233.2h0M581.6 232.6h0M592.3 231.6h0M619.5 209.5h0M597.8 232.9h0M578.0 223.6h0M609.6 220.9h0M609.5 214.5h0M611.8 227.0h0M616.5 225.2h0M584.9 232.5h0M598.3 233.4h0M602.1 229.0h0M601.8 225.7h0M575.4 223.8h0M595.5 233.4h0M599.1 232.8h0M613.5 208.5h0M602.1 229.6h0M580.7 229.0h0M573.9 224.2h0M586.4 233.4h0M610.9 212.3h0M583.3 228.9h0M583.9 229.0h0M605.9 221.7h0M607.7 215.9h0M582.7 228.6h0M595.4 232.2h0M590.0 231.8h0M602.0 227.0h0M575.1 220.6h0M595.1 232.8h0M589.2 232.4h0M588.5 232.4h0M573.9 219.2h0M603.9 232.1h0M598.2 229.6h0M591.1 231.9h0M591.8 232.4h0M613.9 207.1h0M603.3 233.3h0M616.0 212.1h0M589.7 233.3h0M598.4 229.5h0M573.3 221.4h0M594.0 232.2h0M599.2 232.3h0M581.1 230.3h0M590.8 231.7h0M598.5 229.8h0M602.2 225.6h0M589.2 232.6h0M612.3 213.3h0M606.1 225.4h0M571.5 214.9h0M601.1 227.9h0M585.5 232.4h0M593.9 232.5h0M611.4 213.0h0M590.3 231.6h0M602.8 231.8h0M573.5 231.9h0M600.1 227.3h0M603.7 223.6h0M596.6 232.6h0M601.5 228.3h0M587.9 232.3h0M595.8 232.5h0M583.8 232.3h0M575.8 229.6h0M605.6 227.7h0M600.0 229.4h0M594.0 232.3h0M602.0 227.6h0M601.1 232.0h0M571.7 221.1h0M585.3 229.8h0M585.5 231.6h0M575.6 220.9h0M593.0 231.8h0M576.2 225.9h0M627.6 208.5h0M589.2 233.4h0M565.0 210.4h0M583.2 228.9h0M583.1 230.7h0M597.7 231.3h0M605.3 223.0h0M588.5 231.7h0M603.3 227.5h0M585.8 230.2h0M604.0 224.4h0M594.6 232.8h0M609.5 223.8h0M583.3 231.0h0M595.2 233.2h0M558.7 210.5h0M583.1 231.9h0M592.8 232.7h0M608.2 232.5h0M585.3 229.8h0M578.8 225.6h0M605.8 221.7h0M594.7 233.0h0M609.3 213.7h0M606.5 218.5h0M578.9 224.8h0M599.4 232.6h0M591.3 232.8h0M589.3 231.9h0M611.8 223.7h0M606.8 226.7h0M610.9 232.1h0M615.7 210.5h0M595.5 232.4h0M579.5 227.6h0M572.1 215.1h0M623.2 207.4h0M585.0 232.2h0M594.3 231.9h0M595.5 232.1h0M569.1 214.8h0M592.9 232.6h0M599.9 232.4h0M602.6 225.5h0M617.0 224.9h0M585.8 232.4h0M595.3 232.3h0M578.9 231.8h0M598.8 229.8h0M592.9 232.0h0M612.7 208.6h0M581.2 226.5h0M594.6 232.8h0M584.8 232.4h0M609.4 218.1h0M593.4 232.4h0M592.7 232.3h0M574.6 218.7h0M601.1 233.3h0M571.6 218.6h0M568.3 214.9h0M581.2 228.1h0M577.5 222.3h0M594.4 233.3h0M589.4 231.8h0M599.6 230.5h0M606.3 219.8h0M598.9 233.1h0M608.9 214.8h0M603.4 227.4h0M599.4 229.6h0M593.4 232.3h0M584.0 233.2h0M599.1 229.4h0M610.8 231.2h0M620.6 214.6h0M614.0 232.7h0M572.7 232.2h0M625.3 233.1h0M610.5 232.3h0M617.1 229.1h0M561.5 225.3h0M565.8 225.6h0M567.0 220.6h0M630.2 213.1h0M571.1 223.0h0M568.8 223.5h0M628.8 210.7h0M620.9 227.1h0M570.2 221.1h0M556.0 217.4h0M612.3 227.8h0M612.9 229.6h0M565.0 225.3h0M560.1 225.8h0M574.1 227.9h0M627.2 229.4h0M616.1 231.5h0M629.7 232.4h0M572.0 230.1h0M562.4 229.5h0M569.8 229.8h0M617.6 232.1h0M622.3 226.2h0M628.1 224.4h0M613.2 221.7h0M555.3 219.5h0M570.4 233.1h0M566.0 217.4h0M618.0 226.6h0M565.9 229.8h0M613.8 212.4h0M563.8 233.4h0M610.7 223.9h0M617.0 228.8h0M568.6 227.7h0M617.7 227.4h0M624.7 232.3h0M629.6 230.3h0M611.4 229.5h0M571.5 215.2h0M557.4 219.2h0M615.1 230.4h0M565.6 232.9h0M619.5 229.8h0M573.3 219.2h0M564.3 220.1h0M555.0 232.0h0M622.3 231.4h0M571.1 231.5h0M568.3 218.4h0M620.6 231.5h0M613.1 231.2h0M611.7 231.5h0M618.8 230.5h0M565.7 220.6h0M619.0 217.1h0M626.2 222.9h0M615.0 216.2h0M568.9 231.7h0M571.7 232.0h0M562.3 213.6h0M573.9 225.4h0M559.1 227.6h0M573.8 221.2h0M568.2 232.4h0M561.5 225.1h0M573.4 221.7h0M563.2 227.4h0M619.4 226.5h0M629.7 230.5h0M554.1 224.0h0M613.6 228.5h0M622.8 232.1h0M612.8 230.4h0M614.4 228.0h0M567.6 231.0h0M621.6 218.8h0M570.1 229.2h0M609.4 220.1h0M557.3 224.0h0M618.2 227.8h0M561.4 228.1h0M573.7 224.2h0M622.7 224.4h0M617.0 210.8h0M563.8 228.9h0M614.8 232.3h0M619.8 230.1h0M557.5 231.2h0M571.4 224.1h0M625.2 215.4h0M563.8 226.1h0M626.4 229.9h0M617.6 225.4h0M629.6 210.5h0M629.9 226.2h0M552.9 220.2h0M623.4 224.0h0M616.3 230.0h0M562.5 228.4h0M624.8 229.1h0M614.5 230.8h0M570.1 228.3h0M619.0 220.7h0M560.0 225.2h0M565.7 226.0h0M559.7 222.7h0M613.3 225.4h0M628.2 227.7h0M628.9 230.9h0M558.9 233.5h0M559.4 233.5h0M538.6 221.1h0M534.3 215.6h0M530.9 210.2h0M547.8 229.7h0M555.2 233.0h0M553.1 231.9h0M533.8 214.5h0M545.8 228.0h0M542.7 225.0h0M544.0 227.2h0M544.6 227.9h0M531.9 211.0h0M536.9 219.7h0M559.1 233.5h0M547.1 229.2h0M541.6 224.6h0M532.7 212.8h0M550.0 230.8h0M548.9 230.0h0M546.7 228.6h0M557.6 233.4h0M555.8 233.0h0M535.3 218.0h0M533.8 214.3h0M557.8 233.4h0M559.6 233.5h0M543.5 226.0h0M557.4 233.4h0M531.5 212.3h0M538.6 221.4h0M538.1 221.5h0M543.5 226.7h0M552.9 232.4h0M622.9 232.7h0M620.4 233.3h0M627.0 231.9h0M628.7 230.7h0M628.9 230.8h0M650.8 212.5h0M642.1 221.3h0M621.6 233.2h0M630.2 230.6h0M650.4 210.9h0M626.9 231.5h0M646.5 215.9h0M647.9 215.2h0M644.5 218.7h0M643.3 220.1h0M632.7 229.5h0M644.1 219.9h0M632.1 229.1h0M644.9 218.7h0M620.1 233.4h0M638.8 224.3h0M639.7 224.0h0M645.2 218.2h0M635.5 226.9h0M622.5 232.9h0M625.5 232.4h0M624.6 232.6h0M620.4 233.4h0M618.4 233.5h0M639.8 223.6h0M626.4 232.0h0M634.7 227.3h0M626.8 231.7h0M647.4 214.4h0M649.2 213.0h0M640.8 223.1h0M620.6 233.2h0M629.1 231.2h0M645.4 218.2h0M629.0 231.0h0M555.0 230.8h0M543.0 214.5h0M554.4 229.8h0M553.8 229.8h0M542.9 213.8h0M561.2 233.5h0M548.3 222.7h0M558.7 232.4h0M555.4 230.9h0M547.5 220.5h0M558.4 232.8h0M558.1 232.7h0M544.0 216.2h0M555.9 231.4h0M559.8 233.1h0M558.5 233.0h0M550.2 226.2h0M546.2 220.7h0M546.4 220.5h0M555.9 231.4h0M554.3 230.6h0M548.4 223.1h0M543.4 215.1h0M554.4 230.6h0M545.4 218.7h0M542.9 213.8h0M625.1 227.9h0M616.9 233.3h0M621.0 231.1h0M615.5 233.5h0M630.1 218.1h0M623.8 229.0h0M632.3 214.3h0M622.1 229.7h0M620.0 231.9h0M628.0 222.4h0M633.4 212.6h0M633.6 211.3h0M631.1 215.7h0M626.0 226.0h0M635.1 209.0h0M622.5 229.9h0M618.6 232.6h0M616.6 233.4h0M618.9 232.4h0M634.2 210.9h0M634.2 208.9h0M631.0 218.3h0M621.2 231.4h0" stroke="#222" stroke-opacity="0.85" stroke-width="1.00" stroke-linecap="round" fill="none"/>
<path d="M522.9 185.8h0M523.9 188.3h0M524.6 191.3h0M525.9 194.5h0M526.6 197.7h0M527.8 200.7h0M528.8 202.7h0M529.6 204.4h0M537.8 163.5h0M539.5 166.0h0M538.3 169.7h0M540.7 173.4h0M542.0 175.9h0M539.5 192.0h0M543.2 203.2h0M545.7 208.2h0M545.7 186.3h0M546.2 194.5h0M547.0 197.0h0M551.2 202.0h0M551.2 166.0h0M551.9 170.9h0M553.2 174.7h0M554.4 178.4h0M555.1 175.9h0M556.9 169.7h0M557.4 174.7h0M558.6 179.6h0M560.1 180.9h0M558.6 186.3h0M560.1 194.5h0M559.4 196.3h0M561.8 199.5h0M563.1 200.7h0M564.3 203.2h0M565.1 194.5h0M565.6 205.7h0M566.8 204.4h0M567.6 206.9h0M568.5 203.2h0M568.1 208.2h0M561.8 208.2h0M563.1 206.9h0M548.2 151.1h0M549.4 146.1h0M547.0 156.1h0M548.2 155.6h0M541.2 150.6h0M554.4 193.3h0M555.6 190.8h0M559.4 184.6h0M551.9 188.3h0M545.7 205.2h0M544.5 208.2h0" stroke="#4470ad" stroke-opacity="1" stroke-width="2.00" stroke-linecap="round" fill="none"/>
<path d="M646.2 141.9h0M626.9 164.0h0M625.1 173.4h0M622.7 177.1h0M642.0 175.4h0M662.4 177.1h0M626.4 187.1h0M630.1 187.8h0M633.1 186.3h0M635.1 189.6h0M631.8 190.8h0M628.9 193.3h0M631.3 195.8h0M638.8 187.1h0M637.0 194.5h0M635.1 198.2h0M633.8 200.7h0M634.6 202.0h0M627.6 198.2h0M625.1 200.7h0M622.7 203.2h0M621.4 205.7h0M620.2 198.2h0M623.9 206.9h0M657.9 192.8h0M656.9 195.3h0M655.9 198.2h0M654.4 202.0h0M651.9 206.9h0M649.2 210.7h0M620.2 204.4h0M621.4 200.7h0" stroke="#f2644a" stroke-opacity="1" stroke-width="2.00" stroke-linecap="round" fill="none"/>
<rect x="506.3" y="93.8" width="169.7" height="145.7" fill="none" stroke="#444" stroke-width="0.8"/>
<line x1="514.00" y1="239.50" x2="514.00" y2="241.00" stroke="#444" stroke-width="0.5" />
<text x="514.00" y="245.50" font-size="5.0" text-anchor="middle" fill="#222" >-8</text>
<line x1="533.40" y1="239.50" x2="533.40" y2="241.00" stroke="#444" stroke-width="0.5" />
<text x="533.40" y="245.50" font-size="5.0" text-anchor="middle" fill="#222" >-6</text>
<line x1="552.80" y1="239.50" x2="552.80" y2="241.00" stroke="#444" stroke-width="0.5" />
<text x="552.80" y="245.50" font-size="5.0" text-anchor="middle" fill="#222" >-4</text>
<line x1="572.20" y1="239.50" x2="572.20" y2="241.00" stroke="#444" stroke-width="0.5" />
<text x="572.20" y="245.50" font-size="5.0" text-anchor="middle" fill="#222" >-2</text>
<line x1="591.60" y1="239.50" x2="591.60" y2="241.00" stroke="#444" stroke-width="0.5" />
<text x="591.60" y="245.50" font-size="5.0" text-anchor="middle" fill="#222" >0</text>
<line x1="611.00" y1="239.50" x2="611.00" y2="241.00" stroke="#444" stroke-width="0.5" />
<text x="611.00" y="245.50" font-size="5.0" text-anchor="middle" fill="#222" >2</text>
<line x1="630.40" y1="239.50" x2="630.40" y2="241.00" stroke="#444" stroke-width="0.5" />
<text x="630.40" y="245.50" font-size="5.0" text-anchor="middle" fill="#222" >4</text>
<line x1="649.80" y1="239.50" x2="649.80" y2="241.00" stroke="#444" stroke-width="0.5" />
<text x="649.80" y="245.50" font-size="5.0" text-anchor="middle" fill="#222" >6</text>
<line x1="669.20" y1="239.50" x2="669.20" y2="241.00" stroke="#444" stroke-width="0.5" />
<text x="669.20" y="245.50" font-size="5.0" text-anchor="middle" fill="#222" >8</text>
<line x1="504.80" y1="233.50" x2="506.30" y2="233.50" stroke="#444" stroke-width="0.5" />
<text x="503.30" y="235.30" font-size="5.0" text-anchor="end" fill="#222" >0</text>
<line x1="504.80" y1="195.40" x2="506.30" y2="195.40" stroke="#444" stroke-width="0.5" />
<text x="503.30" y="197.20" font-size="5.0" text-anchor="end" fill="#222" >2</text>
<line x1="504.80" y1="157.30" x2="506.30" y2="157.30" stroke="#444" stroke-width="0.5" />
<text x="503.30" y="159.10" font-size="5.0" text-anchor="end" fill="#222" >4</text>
<line x1="504.80" y1="119.20" x2="506.30" y2="119.20" stroke="#444" stroke-width="0.5" />
<text x="503.30" y="121.00" font-size="5.0" text-anchor="end" fill="#222" >6</text>
<text x="591.15" y="251.00" font-size="4.8" text-anchor="middle" fill="#222" >log<tspan font-size="3.2" dy="1">2</tspan><tspan dy="-1"> fold change</tspan></text>
<text x="0" y="0" font-size="4.8" fill="#222" text-anchor="middle" transform="translate(497.8 166.7) rotate(-90)">-log<tspan font-size="3.2" dy="1">10</tspan><tspan dy="-1">FDR</tspan></text>
<circle cx="524.5" cy="100.7" r="0.5" fill="#999"/>
<text x="530.50" y="102.00" font-size="4.0" text-anchor="start" fill="#333" >not differential expressed (7700)</text>
<circle cx="524.5" cy="109.3" r="0.9" fill="#4470ad"/>
<text x="530.50" y="110.60" font-size="4.0" text-anchor="start" fill="#333" >down-regulated genes (71)</text>
<circle cx="524.5" cy="117.9" r="0.9" fill="#f2644a"/>
<text x="530.50" y="119.20" font-size="4.0" text-anchor="start" fill="#333" >up-regulated genes (33)</text>
<text x="193.60" y="46.40" font-size="11.2" text-anchor="start" fill="#000" xml:space="preserve">Cis-Con  RNA-seq</text>
<text x="193.60" y="59.30" font-size="11.2" text-anchor="start" fill="#000" xml:space="preserve">(Fold Change <tspan font-size="8.5">&gt;</tspan> 2 or  <tspan font-size="8.5">&lt;</tspan> 0.5,</text>
<text x="193.60" y="72.20" font-size="11.2" text-anchor="start" fill="#000" xml:space="preserve">FDR <tspan font-size="8.5">&lt;</tspan> 0.05)</text>
<text x="521.50" y="46.40" font-size="11.2" text-anchor="start" fill="#000" xml:space="preserve">IR-Con  RNA-seq</text>
<text x="521.50" y="59.30" font-size="11.2" text-anchor="start" fill="#000" xml:space="preserve">(Fold Change <tspan font-size="8.5">&gt;</tspan> 2 or  <tspan font-size="8.5">&lt;</tspan> 0.5,</text>
<text x="521.50" y="72.20" font-size="11.2" text-anchor="start" fill="#000" xml:space="preserve">FDR <tspan font-size="8.5">&lt;</tspan> 0.05)</text>
<ellipse cx="62.5" cy="345.5" rx="54.2" ry="49.4" fill="none" stroke="#111" stroke-width="1.3"/>
<ellipse cx="136.8" cy="345.5" rx="55" ry="49.4" fill="none" stroke="#111" stroke-width="1.3"/>
<text x="25.40" y="340.30" font-size="12.3" text-anchor="start" fill="#000" >Cis-Con</text>
<text x="25.40" y="355.80" font-size="12.3" text-anchor="start" fill="#000" >RNA-seq</text>
<text x="126.80" y="340.30" font-size="12.3" text-anchor="start" fill="#000" >IR-Con</text>
<text x="127.20" y="355.80" font-size="12.3" text-anchor="start" fill="#000" >RNA-seq</text>
<text x="100.60" y="351.00" font-size="15" text-anchor="middle" fill="#f5141a" >87</text>
<text x="201.80" y="314.10" font-size="13" text-anchor="start" fill="#000" >Expression</text>
<text x="201.80" y="329.40" font-size="13" text-anchor="start" fill="#000" >in kidney</text>
<text x="200.60" y="362.50" font-size="13" text-anchor="start" fill="#000" >Fold Change</text>
<line x1="199.70" y1="342.80" x2="277.00" y2="342.80" stroke="#000" stroke-width="1.4" />
<path d="M275 338.6 L284 342.8 L275 347 Z" fill="#000"/>
<rect x="298.6" y="305.4" width="93.2" height="87.6" fill="none" stroke="#000" stroke-width="1.5"/>
<text x="310.90" y="299.50" font-size="12.9" text-anchor="start" fill="#000" >5 lncRNAs</text>
<text x="304.10" y="325.80" font-size="12.4" text-anchor="start" fill="#000" >XLOC_032768</text>
<text x="304.10" y="340.85" font-size="12.4" text-anchor="start" fill="#000" >XLOC_004503</text>
<text x="304.10" y="355.90" font-size="12.4" text-anchor="start" fill="#000" >XLOC_047526</text>
<text x="304.10" y="370.95" font-size="12.4" text-anchor="start" fill="#000" >XLOC_026542</text>
<text x="304.10" y="386.00" font-size="12.4" text-anchor="start" fill="#000" >XLOC_030558</text>
<line x1="450.60" y1="262.50" x2="450.60" y2="404.20" stroke="#222" stroke-width="0.9" />
<line x1="450.60" y1="404.20" x2="666.90" y2="404.20" stroke="#222" stroke-width="0.9" />
<line x1="458.30" y1="404.20" x2="458.30" y2="406.50" stroke="#222" stroke-width="0.7" />
<text x="458.30" y="417.30" font-size="7.2" text-anchor="middle" fill="#111" >0</text>
<line x1="498.30" y1="404.20" x2="498.30" y2="406.50" stroke="#222" stroke-width="0.7" />
<text x="498.30" y="417.30" font-size="7.2" text-anchor="middle" fill="#111" >3</text>
<line x1="538.30" y1="404.20" x2="538.30" y2="406.50" stroke="#222" stroke-width="0.7" />
<text x="538.30" y="417.30" font-size="7.2" text-anchor="middle" fill="#111" >6</text>
<line x1="578.30" y1="404.20" x2="578.30" y2="406.50" stroke="#222" stroke-width="0.7" />
<text x="578.30" y="417.30" font-size="7.2" text-anchor="middle" fill="#111" >9</text>
<line x1="618.30" y1="404.20" x2="618.30" y2="406.50" stroke="#222" stroke-width="0.7" />
<text x="618.30" y="417.30" font-size="7.2" text-anchor="middle" fill="#111" >12</text>
<line x1="658.30" y1="404.20" x2="658.30" y2="406.50" stroke="#222" stroke-width="0.7" />
<text x="658.30" y="417.30" font-size="7.2" text-anchor="middle" fill="#111" >15</text>
<text x="576.50" y="430.20" font-size="10.3" text-anchor="middle" fill="#000" >Relative RNA levels by qPCR</text>
<text x="442.90" y="310.60" font-size="6.3" text-anchor="end" fill="#111" >XLOC_030558</text>
<line x1="446.50" y1="308.40" x2="450.60" y2="308.40" stroke="#222" stroke-width="0.7" />
<path d="M537.6 304.9h1.2v6.5h-1.2" fill="none" stroke="#222" stroke-width="0.7"/>
<text x="442.90" y="330.50" font-size="6.3" text-anchor="end" fill="#111" >XLOC_026542</text>
<line x1="446.50" y1="328.30" x2="450.60" y2="328.30" stroke="#222" stroke-width="0.7" />
<path d="M537.6 324.8h1.2v6.5h-1.2" fill="none" stroke="#222" stroke-width="0.7"/>
<text x="442.90" y="350.80" font-size="6.3" text-anchor="end" fill="#111" >XLOC_047526</text>
<line x1="446.50" y1="348.60" x2="450.60" y2="348.60" stroke="#222" stroke-width="0.7" />
<path d="M537.6 345.1h1.2v6.5h-1.2" fill="none" stroke="#222" stroke-width="0.7"/>
<text x="442.90" y="370.70" font-size="6.3" text-anchor="end" fill="#111" >XLOC_004503</text>
<line x1="446.50" y1="368.50" x2="450.60" y2="368.50" stroke="#222" stroke-width="0.7" />
<path d="M537.6 365.0h1.2v6.5h-1.2" fill="none" stroke="#222" stroke-width="0.7"/>
<text x="442.90" y="391.20" font-size="6.3" text-anchor="end" fill="#111" >XLOC_032768</text>
<line x1="446.50" y1="389.00" x2="450.60" y2="389.00" stroke="#222" stroke-width="0.7" />
<path d="M537.6 385.5h1.2v6.5h-1.2" fill="none" stroke="#222" stroke-width="0.7"/>
<line x1="396.20" y1="397.00" x2="444.10" y2="397.00" stroke="#e8141c" stroke-width="1.1" />
<text x="423.80" y="407.30" font-size="7.6" text-anchor="middle" fill="#e8141c" >(RSDR)</text>
<path d="M452 270.4h10.5" stroke="#e8141c" stroke-width="0.8" stroke-dasharray="2,1.5"/>
<rect x="455.70" y="268.90" width="3.00" height="3.00" fill="#d42020" />
<path d="M452 277.9h10.5" stroke="#2a6fc0" stroke-width="0.8" stroke-dasharray="2,1.5"/>
<rect x="455.70" y="276.40" width="3.00" height="3.00" fill="#2a6fc0" />
<text x="479.60" y="272.60" font-size="6.2" text-anchor="start" fill="#111" >Ctrl</text>
<text x="479.60" y="280.10" font-size="6.2" text-anchor="start" fill="#111" >Cis</text>
<line x1="460" y1="304.2" x2="470.2" y2="312.1" stroke="#111" stroke-width="0.75" stroke-dasharray="1.8,1"/>
<line x1="471.9" y1="304.2" x2="462" y2="312.1" stroke="#111" stroke-width="0.75" stroke-dasharray="1.8,1"/>
<circle cx="460" cy="304.2" r="1.5" fill="#d42020"/>
<circle cx="471.9" cy="304.2" r="1.5" fill="#d42020"/>
<rect x="460.50" y="310.60" width="3.00" height="3.00" fill="#2a6fc0" />
<rect x="468.70" y="310.60" width="3.00" height="3.00" fill="#2a6fc0" />
<line x1="480.6" y1="324.5" x2="477" y2="332.6" stroke="#111" stroke-width="0.75" stroke-dasharray="1.8,1"/>
<line x1="482.4" y1="324.5" x2="479" y2="332.6" stroke="#111" stroke-width="0.75" stroke-dasharray="1.8,1"/>
<circle cx="477" cy="324.5" r="1.5" fill="#d42020"/>
<circle cx="480.6" cy="324.5" r="1.5" fill="#d42020"/>
<circle cx="482.4" cy="324.5" r="1.5" fill="#d42020"/>
<rect x="475.50" y="331.10" width="3.00" height="3.00" fill="#2a6fc0" />
<rect x="477.50" y="331.10" width="3.00" height="3.00" fill="#2a6fc0" />
<line x1="469.50" y1="344.70" x2="524.00" y2="352.50" stroke="#111" stroke-width="0.75" />
<line x1="478.3" y1="352.5" x2="537.6" y2="344.3" stroke="#111" stroke-width="0.75" stroke-dasharray="1.8,1"/>
<line x1="483.3" y1="352.5" x2="499.5" y2="344.5" stroke="#111" stroke-width="0.75" stroke-dasharray="1.8,1"/>
<circle cx="469.5" cy="344.6" r="1.5" fill="#d42020"/>
<circle cx="499.5" cy="344.6" r="1.5" fill="#d42020"/>
<circle cx="537.6" cy="344.6" r="1.5" fill="#d42020"/>
<rect x="476.80" y="351.00" width="3.00" height="3.00" fill="#2a6fc0" />
<rect x="481.80" y="351.00" width="3.00" height="3.00" fill="#2a6fc0" />
<rect x="521.50" y="351.00" width="3.00" height="3.00" fill="#2a6fc0" />
<rect x="523.50" y="351.00" width="3.00" height="3.00" fill="#2a6fc0" />
<line x1="477.7" y1="364.7" x2="503.5" y2="372.8" stroke="#111" stroke-width="0.75" stroke-dasharray="1.8,1"/>
<line x1="478.5" y1="364.7" x2="518" y2="372.8" stroke="#111" stroke-width="0.75" stroke-dasharray="1.8,1"/>
<line x1="467.2" y1="364.7" x2="468.8" y2="372.8" stroke="#111" stroke-width="0.75" stroke-dasharray="1.8,1"/>
<circle cx="467.2" cy="364.7" r="1.5" fill="#d42020"/>
<circle cx="477.7" cy="364.7" r="1.5" fill="#d42020"/>
<rect x="467.30" y="371.30" width="3.00" height="3.00" fill="#2a6fc0" />
<rect x="472.90" y="371.30" width="3.00" height="3.00" fill="#2a6fc0" />
<rect x="502.00" y="371.30" width="3.00" height="3.00" fill="#2a6fc0" />
<rect x="516.50" y="371.30" width="3.00" height="3.00" fill="#2a6fc0" />
<line x1="465.8" y1="392.7" x2="491.8" y2="384.9" stroke="#111" stroke-width="0.75" stroke-dasharray="1.8,1"/>
<line x1="472.2" y1="392.7" x2="496.6" y2="384.9" stroke="#111" stroke-width="0.75" stroke-dasharray="1.8,1"/>
<line x1="476.3" y1="392.7" x2="503.8" y2="384.9" stroke="#111" stroke-width="0.75" stroke-dasharray="1.8,1"/>
<line x1="478.2" y1="392.7" x2="494" y2="384.9" stroke="#111" stroke-width="0.75" stroke-dasharray="1.8,1"/>
<circle cx="491.8" cy="384.9" r="1.5" fill="#d42020"/>
<circle cx="494.5" cy="384.9" r="1.5" fill="#d42020"/>
<circle cx="496.6" cy="384.9" r="1.5" fill="#d42020"/>
<circle cx="503.8" cy="384.9" r="1.5" fill="#d42020"/>
<rect x="464.30" y="391.20" width="3.00" height="3.00" fill="#2a6fc0" />
<rect x="470.70" y="391.20" width="3.00" height="3.00" fill="#2a6fc0" />
<rect x="474.80" y="391.20" width="3.00" height="3.00" fill="#2a6fc0" />
<rect x="476.70" y="391.20" width="3.00" height="3.00" fill="#2a6fc0" />
<text x="584.30" y="290.00" font-size="6.0" text-anchor="middle" fill="#111" >Fold Change</text>
<text x="584.30" y="297.60" font-size="6.0" text-anchor="middle" fill="#111" >(Cis/Ctrl)</text>
<text x="631.80" y="294.00" font-size="6.0" text-anchor="middle" fill="#111" >p value</text>
<text x="584.30" y="310.60" font-size="6.3" text-anchor="middle" fill="#111" >1.221</text>
<text x="631.90" y="310.60" font-size="6.3" text-anchor="middle" fill="#111" >0.421</text>
<text x="584.30" y="330.50" font-size="6.3" text-anchor="middle" fill="#111" >0.959</text>
<text x="631.90" y="330.50" font-size="6.3" text-anchor="middle" fill="#111" >0.624</text>
<text x="584.30" y="350.80" font-size="6.3" text-anchor="middle" fill="#111" >1.224</text>
<text x="631.90" y="350.80" font-size="6.3" text-anchor="middle" fill="#111" >0.705</text>
<text x="584.30" y="370.70" font-size="6.3" text-anchor="middle" fill="#111" >1.961</text>
<text x="631.90" y="370.70" font-size="6.3" text-anchor="middle" fill="#111" >0.343</text>
<text x="584.30" y="391.20" font-size="6.3" text-anchor="middle" fill="#111" >0.381</text>
<text x="631.90" y="391.20" font-size="6.3" text-anchor="middle" fill="#111" >0.014</text>
<line x1="623.90" y1="396.30" x2="641.60" y2="396.30" stroke="#e8141c" stroke-width="1.1" />
<line x1="41.80" y1="410.20" x2="41.80" y2="489.00" stroke="#d4d8e6" stroke-width="0.8" />
<line x1="41.80" y1="489.00" x2="380.40" y2="489.00" stroke="#a9c4e6" stroke-width="0.9" />
<text x="34.50" y="412.60" font-size="5.6" text-anchor="end" fill="#777" >2</text>
<text x="34.50" y="451.60" font-size="5.6" text-anchor="end" fill="#777" >1</text>
<text x="34.50" y="491.00" font-size="5.6" text-anchor="end" fill="#777" >0</text>
<text x="0" y="0" font-size="5.6" fill="#888" text-anchor="middle" transform="translate(26.8 449.6) rotate(-90)">FPKM</text>
<path d="M41.8 449.6H380.4" stroke="#f08080" stroke-width="0.8" stroke-dasharray="1,1"/>
<text x="46.70" y="447.60" font-size="6.0" text-anchor="start" fill="#222" >FPKM=1</text>
<text x="218.70" y="431.20" font-size="9.0" text-anchor="middle" fill="#111" >RSDR Expression Profile in tissue Samples</text>
<line x1="41.80" y1="489.00" x2="41.80" y2="492.00" stroke="#a9c4e6" stroke-width="0.8" />
<line x1="53.89" y1="489.00" x2="53.89" y2="492.00" stroke="#a9c4e6" stroke-width="0.8" />
<line x1="65.99" y1="489.00" x2="65.99" y2="492.00" stroke="#a9c4e6" stroke-width="0.8" />
<line x1="78.08" y1="489.00" x2="78.08" y2="492.00" stroke="#a9c4e6" stroke-width="0.8" />
<line x1="90.17" y1="489.00" x2="90.17" y2="492.00" stroke="#a9c4e6" stroke-width="0.8" />
<line x1="102.26" y1="489.00" x2="102.26" y2="492.00" stroke="#a9c4e6" stroke-width="0.8" />
<line x1="114.36" y1="489.00" x2="114.36" y2="492.00" stroke="#a9c4e6" stroke-width="0.8" />
<line x1="126.45" y1="489.00" x2="126.45" y2="492.00" stroke="#a9c4e6" stroke-width="0.8" />
<line x1="138.54" y1="489.00" x2="138.54" y2="492.00" stroke="#a9c4e6" stroke-width="0.8" />
<line x1="150.64" y1="489.00" x2="150.64" y2="492.00" stroke="#a9c4e6" stroke-width="0.8" />
<line x1="162.73" y1="489.00" x2="162.73" y2="492.00" stroke="#a9c4e6" stroke-width="0.8" />
<line x1="174.82" y1="489.00" x2="174.82" y2="492.00" stroke="#a9c4e6" stroke-width="0.8" />
<line x1="186.91" y1="489.00" x2="186.91" y2="492.00" stroke="#a9c4e6" stroke-width="0.8" />
<line x1="199.01" y1="489.00" x2="199.01" y2="492.00" stroke="#a9c4e6" stroke-width="0.8" />
<line x1="211.10" y1="489.00" x2="211.10" y2="492.00" stroke="#a9c4e6" stroke-width="0.8" />
<line x1="223.19" y1="489.00" x2="223.19" y2="492.00" stroke="#a9c4e6" stroke-width="0.8" />
<line x1="235.29" y1="489.00" x2="235.29" y2="492.00" stroke="#a9c4e6" stroke-width="0.8" />
<line x1="247.38" y1="489.00" x2="247.38" y2="492.00" stroke="#a9c4e6" stroke-width="0.8" />
<line x1="259.47" y1="489.00" x2="259.47" y2="492.00" stroke="#a9c4e6" stroke-width="0.8" />
<line x1="271.56" y1="489.00" x2="271.56" y2="492.00" stroke="#a9c4e6" stroke-width="0.8" />
<line x1="283.66" y1="489.00" x2="283.66" y2="492.00" stroke="#a9c4e6" stroke-width="0.8" />
<line x1="295.75" y1="489.00" x2="295.75" y2="492.00" stroke="#a9c4e6" stroke-width="0.8" />
<line x1="307.84" y1="489.00" x2="307.84" y2="492.00" stroke="#a9c4e6" stroke-width="0.8" />
<line x1="319.94" y1="489.00" x2="319.94" y2="492.00" stroke="#a9c4e6" stroke-width="0.8" />
<line x1="332.03" y1="489.00" x2="332.03" y2="492.00" stroke="#a9c4e6" stroke-width="0.8" />
<line x1="344.12" y1="489.00" x2="344.12" y2="492.00" stroke="#a9c4e6" stroke-width="0.8" />
<line x1="356.21" y1="489.00" x2="356.21" y2="492.00" stroke="#a9c4e6" stroke-width="0.8" />
<line x1="368.31" y1="489.00" x2="368.31" y2="492.00" stroke="#a9c4e6" stroke-width="0.8" />
<line x1="380.40" y1="489.00" x2="380.40" y2="492.00" stroke="#a9c4e6" stroke-width="0.8" />
<text x="0" y="0" font-size="6.9" fill="#777" text-anchor="end" transform="translate(51.0 495.5) rotate(-57.5)">adrenal_gland</text>
<text x="0" y="0" font-size="6.9" fill="#777" text-anchor="end" transform="translate(63.1 495.5) rotate(-57.5)">brain</text>
<text x="0" y="0" font-size="6.9" fill="#777" text-anchor="end" transform="translate(75.2 495.5) rotate(-57.5)">central_nervous_system</text>
<text x="0" y="0" font-size="6.9" fill="#777" text-anchor="end" transform="translate(87.3 495.5) rotate(-57.5)">cerebellum</text>
<text x="0" y="0" font-size="6.9" fill="#777" text-anchor="end" transform="translate(99.4 495.5) rotate(-57.5)">colon</text>
<text x="0" y="0" font-size="6.9" fill="#777" text-anchor="end" transform="translate(111.5 495.5) rotate(-57.5)">cortical_plate</text>
<text x="0" y="0" font-size="6.9" fill="#777" text-anchor="end" transform="translate(123.6 495.5) rotate(-57.5)">duodenum</text>
<text x="0" y="0" font-size="6.9" fill="#777" text-anchor="end" transform="translate(135.7 495.5) rotate(-57.5)">forebrain</text>
<text x="0" y="0" font-size="6.9" fill="#777" text-anchor="end" transform="translate(147.8 495.5) rotate(-57.5)">frontal_cortex</text>
<text x="0" y="0" font-size="6.9" fill="#777" text-anchor="end" transform="translate(159.9 495.5) rotate(-57.5)">gonadal_fat_pad</text>
<text x="0" y="0" font-size="6.9" fill="#777" text-anchor="end" transform="translate(172.0 495.5) rotate(-57.5)">heart</text>
<text x="0" y="0" font-size="6.9" fill="#777" text-anchor="end" transform="translate(184.1 495.5) rotate(-57.5)">hindbrain</text>
<text x="0" y="0" font-size="6.9" fill="#777" text-anchor="end" transform="translate(196.2 495.5) rotate(-57.5)">kidney</text>
<text x="0" y="0" font-size="6.9" fill="#777" text-anchor="end" transform="translate(208.3 495.5) rotate(-57.5)">large_intestine</text>
<text x="0" y="0" font-size="6.9" fill="#777" text-anchor="end" transform="translate(220.3 495.5) rotate(-57.5)">limb</text>
<text x="0" y="0" font-size="6.9" fill="#777" text-anchor="end" transform="translate(232.4 495.5) rotate(-57.5)">liver</text>
<text x="0" y="0" font-size="6.9" fill="#777" text-anchor="end" transform="translate(244.5 495.5) rotate(-57.5)">lung</text>
<text x="0" y="0" font-size="6.9" fill="#777" text-anchor="end" transform="translate(256.6 495.5) rotate(-57.5)">mammary_gland</text>
<text x="0" y="0" font-size="6.9" fill="#777" text-anchor="end" transform="translate(268.7 495.5) rotate(-57.5)">midbrain</text>
<text x="0" y="0" font-size="6.9" fill="#777" text-anchor="end" transform="translate(280.8 495.5) rotate(-57.5)">ovary</text>
<text x="0" y="0" font-size="6.9" fill="#777" text-anchor="end" transform="translate(292.9 495.5) rotate(-57.5)">placenta</text>
<text x="0" y="0" font-size="6.9" fill="#777" text-anchor="end" transform="translate(305.0 495.5) rotate(-57.5)">small_intestine</text>
<text x="0" y="0" font-size="6.9" fill="#777" text-anchor="end" transform="translate(317.1 495.5) rotate(-57.5)">spleen</text>
<text x="0" y="0" font-size="6.9" fill="#777" text-anchor="end" transform="translate(329.2 495.5) rotate(-57.5)">stomach</text>
<text x="0" y="0" font-size="6.9" fill="#777" text-anchor="end" transform="translate(341.3 495.5) rotate(-57.5)">subcutaneous_adipose_tissue</text>
<text x="0" y="0" font-size="6.9" fill="#777" text-anchor="end" transform="translate(353.4 495.5) rotate(-57.5)">testis</text>
<text x="0" y="0" font-size="6.9" fill="#777" text-anchor="end" transform="translate(365.5 495.5) rotate(-57.5)">thymus</text>
<text x="0" y="0" font-size="6.9" fill="#777" text-anchor="end" transform="translate(377.6 495.5) rotate(-57.5)">urinary_bladder</text>
<rect x="190.40" y="487.60" width="4.80" height="1.20" fill="#5b9bd5" />
<line x1="492.00" y1="450.20" x2="631.20" y2="450.20" stroke="#222" stroke-width="1.3" />
<line x1="492.00" y1="472.60" x2="596.70" y2="472.60" stroke="#222" stroke-width="1.3" />
<text x="561.40" y="445.20" font-size="8.6" text-anchor="middle" fill="#111" font-style="italic"><tspan font-style="italic">p</tspan> &lt; 0.0001</text>
<text x="544.20" y="467.40" font-size="8.6" text-anchor="middle" fill="#111" font-style="italic">p = 0.3976</text>
<line x1="470.30" y1="478.60" x2="470.30" y2="572.60" stroke="#111" stroke-width="1.2" />
<line x1="470.30" y1="572.00" x2="653.60" y2="572.00" stroke="#111" stroke-width="1.2" />
<line x1="467.30" y1="572.00" x2="470.30" y2="572.00" stroke="#111" stroke-width="1.1" />
<text x="466.50" y="575.90" font-size="11" text-anchor="end" fill="#000" >0</text>
<line x1="467.30" y1="540.86" x2="470.30" y2="540.86" stroke="#111" stroke-width="1.1" />
<text x="466.50" y="544.76" font-size="11" text-anchor="end" fill="#000" >2</text>
<line x1="467.30" y1="509.72" x2="470.30" y2="509.72" stroke="#111" stroke-width="1.1" />
<text x="466.50" y="513.62" font-size="11" text-anchor="end" fill="#000" >4</text>
<line x1="467.30" y1="478.58" x2="470.30" y2="478.58" stroke="#111" stroke-width="1.1" />
<text x="466.50" y="482.48" font-size="11" text-anchor="end" fill="#000" >6</text>
<text x="0" y="0" font-size="11.6" text-anchor="middle" transform="translate(441.4 525.0) rotate(-90)">Fold change</text>
<text x="0" y="0" font-size="11.6" text-anchor="middle" transform="translate(454.4 525.0) rotate(-90)">RSDR</text>
<line x1="493.00" y1="572.00" x2="493.00" y2="575.00" stroke="#111" stroke-width="1.1" />
<text x="493.00" y="586.80" font-size="11.5" text-anchor="middle" fill="#000" >Heart</text>
<rect x="482.0" y="556.4" width="22" height="15.6" fill="none" stroke="#4a78c0" stroke-width="1.3"/>
<line x1="527.00" y1="572.00" x2="527.00" y2="575.00" stroke="#111" stroke-width="1.1" />
<text x="527.00" y="586.80" font-size="11.5" text-anchor="middle" fill="#000" >Liver</text>
<rect x="516.0" y="559.9" width="22" height="12.1" fill="none" stroke="#97bde3" stroke-width="1.3"/>
<line x1="561.40" y1="572.00" x2="561.40" y2="575.00" stroke="#111" stroke-width="1.1" />
<text x="561.40" y="586.80" font-size="11.5" text-anchor="middle" fill="#000" >Spleen</text>
<rect x="550.4" y="567.6" width="22" height="4.4" fill="none" stroke="#f7c96b" stroke-width="1.3"/>
<line x1="595.90" y1="572.00" x2="595.90" y2="575.00" stroke="#111" stroke-width="1.1" />
<text x="595.90" y="586.80" font-size="11.5" text-anchor="middle" fill="#000" >Lung</text>
<rect x="584.9" y="566.1" width="22" height="5.9" fill="none" stroke="#f39060" stroke-width="1.3"/>
<line x1="630.30" y1="572.00" x2="630.30" y2="575.00" stroke="#111" stroke-width="1.1" />
<text x="630.30" y="586.80" font-size="11.5" text-anchor="middle" fill="#000" >Kidney</text>
<rect x="619.3" y="515.2" width="22" height="56.8" fill="none" stroke="#e8302a" stroke-width="1.3"/>
<circle cx="485.0" cy="555.7" r="3" fill="none" stroke="#4a78c0" stroke-width="1.1"/>
<circle cx="488.0" cy="554.1" r="3" fill="none" stroke="#4a78c0" stroke-width="1.1"/>
<circle cx="491.0" cy="555.7" r="3" fill="none" stroke="#4a78c0" stroke-width="1.1"/>
<circle cx="494.0" cy="554.9" r="3" fill="none" stroke="#4a78c0" stroke-width="1.1"/>
<circle cx="497.0" cy="555.7" r="3" fill="none" stroke="#4a78c0" stroke-width="1.1"/>
<circle cx="501.0" cy="556.4" r="3" fill="none" stroke="#4a78c0" stroke-width="1.1"/>
<circle cx="487.0" cy="557.2" r="3" fill="none" stroke="#4a78c0" stroke-width="1.1"/>
<circle cx="499.0" cy="561.1" r="3" fill="none" stroke="#4a78c0" stroke-width="1.1"/>
<rect x="517.2" y="561.4" width="5.6" height="5.6" fill="none" stroke="#97bde3" stroke-width="1.1"/>
<rect x="521.2" y="558.3" width="5.6" height="5.6" fill="none" stroke="#97bde3" stroke-width="1.1"/>
<rect x="524.2" y="552.1" width="5.6" height="5.6" fill="none" stroke="#97bde3" stroke-width="1.1"/>
<rect x="527.2" y="559.9" width="5.6" height="5.6" fill="none" stroke="#97bde3" stroke-width="1.1"/>
<rect x="530.2" y="555.2" width="5.6" height="5.6" fill="none" stroke="#97bde3" stroke-width="1.1"/>
<rect x="532.2" y="550.5" width="5.6" height="5.6" fill="none" stroke="#97bde3" stroke-width="1.1"/>
<rect x="519.2" y="563.8" width="5.6" height="5.6" fill="none" stroke="#97bde3" stroke-width="1.1"/>
<rect x="526.2" y="563.0" width="5.6" height="5.6" fill="none" stroke="#97bde3" stroke-width="1.1"/>
<path d="M550.6 570.6H556.1L553.4 565.6Z" fill="none" stroke="#f7c96b" stroke-width="1.0"/>
<path d="M553.6 569.8H559.1L556.4 564.9Z" fill="none" stroke="#f7c96b" stroke-width="1.0"/>
<path d="M556.6 569.0H562.1L559.4 564.1Z" fill="none" stroke="#f7c96b" stroke-width="1.0"/>
<path d="M559.6 570.6H565.1L562.4 565.6Z" fill="none" stroke="#f7c96b" stroke-width="1.0"/>
<path d="M562.6 569.8H568.1L565.4 564.9Z" fill="none" stroke="#f7c96b" stroke-width="1.0"/>
<path d="M565.6 571.4H571.1L568.4 566.4Z" fill="none" stroke="#f7c96b" stroke-width="1.0"/>
<path d="M587.9 564.3l3 3l-3 3l-3 -3z" fill="none" stroke="#f39060" stroke-width="1.1"/>
<path d="M591.9 562.0l3 3l-3 3l-3 -3z" fill="none" stroke="#f39060" stroke-width="1.1"/>
<path d="M595.9 561.2l3 3l-3 3l-3 -3z" fill="none" stroke="#f39060" stroke-width="1.1"/>
<path d="M599.9 563.6l3 3l-3 3l-3 -3z" fill="none" stroke="#f39060" stroke-width="1.1"/>
<path d="M603.9 562.8l3 3l-3 3l-3 -3z" fill="none" stroke="#f39060" stroke-width="1.1"/>
<line x1="630.30" y1="495.71" x2="630.30" y2="534.63" stroke="#e8302a" stroke-width="1.2" />
<line x1="626.00" y1="495.71" x2="634.60" y2="495.71" stroke="#e8302a" stroke-width="1.2" />
<line x1="626.00" y1="534.63" x2="634.60" y2="534.63" stroke="#e8302a" stroke-width="1.2" />
<path d="M627.0 481.9H633.5L630.3 487.7Z" fill="none" stroke="#e8302a" stroke-width="1.2"/>
<path d="M627.0 499.0H633.5L630.3 504.9Z" fill="none" stroke="#e8302a" stroke-width="1.2"/>
<path d="M627.0 508.4H633.5L630.3 514.2Z" fill="none" stroke="#e8302a" stroke-width="1.2"/>
<path d="M627.0 519.3H633.5L630.3 525.1Z" fill="none" stroke="#e8302a" stroke-width="1.2"/>
<path d="M620.0 528.6H626.5L623.3 534.4Z" fill="none" stroke="#e8302a" stroke-width="1.2"/>
<path d="M634.0 528.6H640.5L637.3 534.4Z" fill="none" stroke="#e8302a" stroke-width="1.2"/>
<path d="M627.0 528.6H633.5L630.3 534.4Z" fill="none" stroke="#e8302a" stroke-width="1.2"/>
<text x="176.60" y="605.70" font-size="11.3" text-anchor="middle" fill="#000" >Mouse kidney</text>
<line x1="18.10" y1="616.10" x2="336.40" y2="616.10" stroke="#000" stroke-width="1.5" />
<text x="95.80" y="637.20" font-size="8.3" text-anchor="middle" fill="#111" >Cisplatin</text>
<line x1="68.30" y1="651.90" x2="68.30" y2="724.50" stroke="#222" stroke-width="0.9" />
<line x1="68.30" y1="724.00" x2="121.00" y2="724.00" stroke="#222" stroke-width="0.9" />
<line x1="66.10" y1="724.00" x2="68.30" y2="724.00" stroke="#222" stroke-width="0.8" />
<text x="65.90" y="726.60" font-size="7.5" text-anchor="end" fill="#222" >0.0</text>
<line x1="66.10" y1="699.97" x2="68.30" y2="699.97" stroke="#222" stroke-width="0.8" />
<text x="65.90" y="702.57" font-size="7.5" text-anchor="end" fill="#222" >0.5</text>
<line x1="66.10" y1="675.93" x2="68.30" y2="675.93" stroke="#222" stroke-width="0.8" />
<text x="65.90" y="678.53" font-size="7.5" text-anchor="end" fill="#222" >1.0</text>
<line x1="66.10" y1="651.90" x2="68.30" y2="651.90" stroke="#222" stroke-width="0.8" />
<text x="65.90" y="654.50" font-size="7.5" text-anchor="end" fill="#222" >1.5</text>
<text x="0" y="0" font-size="8.2" fill="#111" text-anchor="middle" transform="translate(35.3 685.1) rotate(-90)">RSDR expression</text>
<text x="0" y="0" font-size="8.2" fill="#111" text-anchor="middle" transform="translate(45.1 685.1) rotate(-90)">(Fold Change)</text>
<path d="M75.9 724.0V675.9H90.7V724.0" fill="none" stroke="#4a78c0" stroke-width="1.1"/>
<line x1="83.30" y1="724.00" x2="83.30" y2="726.20" stroke="#222" stroke-width="0.8" />
<text x="83.30" y="735.20" font-size="8.2" text-anchor="middle" fill="#111" >Con</text>
<line x1="83.30" y1="684.59" x2="83.30" y2="667.28" stroke="#4a78c0" stroke-width="0.9" />
<line x1="80.30" y1="667.28" x2="86.30" y2="667.28" stroke="#4a78c0" stroke-width="0.9" />
<line x1="80.30" y1="684.59" x2="86.30" y2="684.59" stroke="#4a78c0" stroke-width="0.9" />
<circle cx="77.3" cy="666.3" r="1.9" fill="#fff" fill-opacity="0" stroke="#4a78c0" stroke-width="0.9"/>
<circle cx="77.3" cy="670.2" r="1.9" fill="#fff" fill-opacity="0" stroke="#4a78c0" stroke-width="0.9"/>
<circle cx="83.3" cy="666.3" r="1.9" fill="#fff" fill-opacity="0" stroke="#4a78c0" stroke-width="0.9"/>
<circle cx="89.3" cy="668.2" r="1.9" fill="#fff" fill-opacity="0" stroke="#4a78c0" stroke-width="0.9"/>
<circle cx="83.3" cy="675.9" r="1.9" fill="#fff" fill-opacity="0" stroke="#4a78c0" stroke-width="0.9"/>
<circle cx="77.3" cy="685.5" r="1.9" fill="#fff" fill-opacity="0" stroke="#4a78c0" stroke-width="0.9"/>
<circle cx="83.3" cy="684.1" r="1.9" fill="#fff" fill-opacity="0" stroke="#4a78c0" stroke-width="0.9"/>
<circle cx="89.3" cy="685.5" r="1.9" fill="#fff" fill-opacity="0" stroke="#4a78c0" stroke-width="0.9"/>
<path d="M98.3 724.0V714.4H113.5V724.0" fill="none" stroke="#e03a3a" stroke-width="1.1"/>
<line x1="105.90" y1="724.00" x2="105.90" y2="726.20" stroke="#222" stroke-width="0.8" />
<text x="105.90" y="735.20" font-size="8.2" text-anchor="middle" fill="#111" >Cis</text>
<line x1="105.90" y1="721.60" x2="105.90" y2="707.18" stroke="#e03a3a" stroke-width="0.9" />
<line x1="102.90" y1="707.18" x2="108.90" y2="707.18" stroke="#e03a3a" stroke-width="0.9" />
<line x1="102.90" y1="721.60" x2="108.90" y2="721.60" stroke="#e03a3a" stroke-width="0.9" />
<path d="M104.0 703.1H107.8L105.9 699.7Z" fill="none" stroke="#e03a3a" stroke-width="0.9"/>
<path d="M98.0 712.3H101.8L99.9 708.8Z" fill="none" stroke="#e03a3a" stroke-width="0.9"/>
<path d="M110.0 712.3H113.8L111.9 708.8Z" fill="none" stroke="#e03a3a" stroke-width="0.9"/>
<path d="M104.0 713.7H107.8L105.9 710.3Z" fill="none" stroke="#e03a3a" stroke-width="0.9"/>
<path d="M98.0 720.9H101.8L99.9 717.5Z" fill="none" stroke="#e03a3a" stroke-width="0.9"/>
<path d="M110.0 721.9H113.8L111.9 718.4Z" fill="none" stroke="#e03a3a" stroke-width="0.9"/>
<path d="M104.0 719.9H107.8L105.9 716.5Z" fill="none" stroke="#e03a3a" stroke-width="0.9"/>
<path d="M104.0 724.7H107.8L105.9 721.3Z" fill="none" stroke="#e03a3a" stroke-width="0.9"/>
<line x1="83.50" y1="658.60" x2="106.30" y2="658.60" stroke="#333" stroke-width="1.0" />
<text x="94.90" y="655.20" font-size="6.0" text-anchor="middle" fill="#222" font-style="italic">p&lt; 0.0001</text>
<text x="184.00" y="637.50" font-size="8.3" text-anchor="middle" fill="#111" >Sepsis</text>
<line x1="157.40" y1="655.10" x2="157.40" y2="725.80" stroke="#222" stroke-width="0.9" />
<line x1="157.40" y1="725.30" x2="210.20" y2="725.30" stroke="#222" stroke-width="0.9" />
<line x1="155.20" y1="725.30" x2="157.40" y2="725.30" stroke="#222" stroke-width="0.8" />
<text x="155.00" y="727.90" font-size="7.5" text-anchor="end" fill="#222" >0.0</text>
<line x1="155.20" y1="701.90" x2="157.40" y2="701.90" stroke="#222" stroke-width="0.8" />
<text x="155.00" y="704.50" font-size="7.5" text-anchor="end" fill="#222" >0.5</text>
<line x1="155.20" y1="678.50" x2="157.40" y2="678.50" stroke="#222" stroke-width="0.8" />
<text x="155.00" y="681.10" font-size="7.5" text-anchor="end" fill="#222" >1.0</text>
<line x1="155.20" y1="655.10" x2="157.40" y2="655.10" stroke="#222" stroke-width="0.8" />
<text x="155.00" y="657.70" font-size="7.5" text-anchor="end" fill="#222" >1.5</text>
<text x="0" y="0" font-size="8.2" fill="#111" text-anchor="middle" transform="translate(135.4 690.2) rotate(-90)">RSDR expression</text>
<text x="0" y="0" font-size="8.2" fill="#111" text-anchor="middle" transform="translate(145.3 690.2) rotate(-90)">(Fold Change)</text>
<path d="M165.4 725.3V678.5H179.8V725.3" fill="none" stroke="#4a78c0" stroke-width="1.1"/>
<line x1="172.60" y1="725.30" x2="172.60" y2="727.50" stroke="#222" stroke-width="0.8" />
<text x="172.60" y="736.50" font-size="8.2" text-anchor="middle" fill="#111" >Con</text>
<line x1="172.60" y1="687.86" x2="172.60" y2="669.14" stroke="#4a78c0" stroke-width="0.9" />
<line x1="169.60" y1="669.14" x2="175.60" y2="669.14" stroke="#4a78c0" stroke-width="0.9" />
<line x1="169.60" y1="687.86" x2="175.60" y2="687.86" stroke="#4a78c0" stroke-width="0.9" />
<circle cx="172.6" cy="661.2" r="1.9" fill="#fff" fill-opacity="0" stroke="#4a78c0" stroke-width="0.9"/>
<circle cx="167.6" cy="672.9" r="1.9" fill="#fff" fill-opacity="0" stroke="#4a78c0" stroke-width="0.9"/>
<circle cx="172.6" cy="671.5" r="1.9" fill="#fff" fill-opacity="0" stroke="#4a78c0" stroke-width="0.9"/>
<circle cx="177.6" cy="672.9" r="1.9" fill="#fff" fill-opacity="0" stroke="#4a78c0" stroke-width="0.9"/>
<circle cx="168.6" cy="676.2" r="1.9" fill="#fff" fill-opacity="0" stroke="#4a78c0" stroke-width="0.9"/>
<circle cx="172.6" cy="678.5" r="1.9" fill="#fff" fill-opacity="0" stroke="#4a78c0" stroke-width="0.9"/>
<circle cx="176.6" cy="676.6" r="1.9" fill="#fff" fill-opacity="0" stroke="#4a78c0" stroke-width="0.9"/>
<circle cx="168.6" cy="683.2" r="1.9" fill="#fff" fill-opacity="0" stroke="#4a78c0" stroke-width="0.9"/>
<circle cx="172.6" cy="685.1" r="1.9" fill="#fff" fill-opacity="0" stroke="#4a78c0" stroke-width="0.9"/>
<circle cx="176.6" cy="682.2" r="1.9" fill="#fff" fill-opacity="0" stroke="#4a78c0" stroke-width="0.9"/>
<circle cx="172.6" cy="697.2" r="1.9" fill="#fff" fill-opacity="0" stroke="#4a78c0" stroke-width="0.9"/>
<circle cx="170.6" cy="680.8" r="1.9" fill="#fff" fill-opacity="0" stroke="#4a78c0" stroke-width="0.9"/>
<path d="M187.8 725.3V705.2H202.6V725.3" fill="none" stroke="#e03a3a" stroke-width="1.1"/>
<line x1="195.20" y1="725.30" x2="195.20" y2="727.50" stroke="#222" stroke-width="0.8" />
<text x="195.20" y="736.50" font-size="8.2" text-anchor="middle" fill="#111" >CLP</text>
<line x1="195.20" y1="715.94" x2="195.20" y2="693.48" stroke="#e03a3a" stroke-width="0.9" />
<line x1="192.20" y1="693.48" x2="198.20" y2="693.48" stroke="#e03a3a" stroke-width="0.9" />
<line x1="192.20" y1="715.94" x2="198.20" y2="715.94" stroke="#e03a3a" stroke-width="0.9" />
<path d="M193.3 689.6H197.1L195.2 686.1Z" fill="none" stroke="#e03a3a" stroke-width="0.9"/>
<path d="M193.3 694.2H197.1L195.2 690.8Z" fill="none" stroke="#e03a3a" stroke-width="0.9"/>
<path d="M189.3 698.9H193.1L191.2 695.5Z" fill="none" stroke="#e03a3a" stroke-width="0.9"/>
<path d="M197.3 698.9H201.1L199.2 695.5Z" fill="none" stroke="#e03a3a" stroke-width="0.9"/>
<path d="M188.3 704.5H192.1L190.2 701.1Z" fill="none" stroke="#e03a3a" stroke-width="0.9"/>
<path d="M193.3 704.5H197.1L195.2 701.1Z" fill="none" stroke="#e03a3a" stroke-width="0.9"/>
<path d="M198.3 706.0H202.1L200.2 702.5Z" fill="none" stroke="#e03a3a" stroke-width="0.9"/>
<path d="M189.3 713.0H193.1L191.2 709.5Z" fill="none" stroke="#e03a3a" stroke-width="0.9"/>
<path d="M197.3 715.3H201.1L199.2 711.9Z" fill="none" stroke="#e03a3a" stroke-width="0.9"/>
<path d="M193.3 717.6H197.1L195.2 714.2Z" fill="none" stroke="#e03a3a" stroke-width="0.9"/>
<path d="M193.3 724.7H197.1L195.2 721.2Z" fill="none" stroke="#e03a3a" stroke-width="0.9"/>
<line x1="172.60" y1="653.20" x2="195.40" y2="653.20" stroke="#333" stroke-width="1.0" />
<text x="184.00" y="649.80" font-size="6.0" text-anchor="middle" fill="#222" font-style="italic">p &lt; 0.0001</text>
<text x="276.70" y="640.00" font-size="8.3" text-anchor="middle" fill="#111" >Ischemia-Reperfusion Injury</text>
<line x1="253.90" y1="655.70" x2="253.90" y2="725.80" stroke="#222" stroke-width="0.9" />
<line x1="253.90" y1="725.30" x2="305.20" y2="725.30" stroke="#222" stroke-width="0.9" />
<line x1="251.70" y1="725.30" x2="253.90" y2="725.30" stroke="#222" stroke-width="0.8" />
<text x="251.50" y="727.90" font-size="7.5" text-anchor="end" fill="#222" >0.0</text>
<line x1="251.70" y1="702.10" x2="253.90" y2="702.10" stroke="#222" stroke-width="0.8" />
<text x="251.50" y="704.70" font-size="7.5" text-anchor="end" fill="#222" >0.5</text>
<line x1="251.70" y1="678.90" x2="253.90" y2="678.90" stroke="#222" stroke-width="0.8" />
<text x="251.50" y="681.50" font-size="7.5" text-anchor="end" fill="#222" >1.0</text>
<line x1="251.70" y1="655.70" x2="253.90" y2="655.70" stroke="#222" stroke-width="0.8" />
<text x="251.50" y="658.30" font-size="7.5" text-anchor="end" fill="#222" >1.5</text>
<text x="0" y="0" font-size="8.2" fill="#111" text-anchor="middle" transform="translate(232.2 691.2) rotate(-90)">RSDR expression</text>
<text x="0" y="0" font-size="8.2" fill="#111" text-anchor="middle" transform="translate(241.7 691.2) rotate(-90)">(Fold Change)</text>
<path d="M261.1 725.3V678.9H275.7V725.3" fill="none" stroke="#4a78c0" stroke-width="1.1"/>
<line x1="268.40" y1="725.30" x2="268.40" y2="727.50" stroke="#222" stroke-width="0.8" />
<text x="268.40" y="736.50" font-size="8.2" text-anchor="middle" fill="#111" >Con</text>
<line x1="268.40" y1="685.86" x2="268.40" y2="673.33" stroke="#4a78c0" stroke-width="0.9" />
<line x1="265.40" y1="673.33" x2="271.40" y2="673.33" stroke="#4a78c0" stroke-width="0.9" />
<line x1="265.40" y1="685.86" x2="271.40" y2="685.86" stroke="#4a78c0" stroke-width="0.9" />
<circle cx="263.4" cy="675.2" r="1.9" fill="#fff" fill-opacity="0" stroke="#4a78c0" stroke-width="0.9"/>
<circle cx="267.4" cy="676.6" r="1.9" fill="#fff" fill-opacity="0" stroke="#4a78c0" stroke-width="0.9"/>
<circle cx="271.4" cy="676.1" r="1.9" fill="#fff" fill-opacity="0" stroke="#4a78c0" stroke-width="0.9"/>
<circle cx="274.4" cy="677.0" r="1.9" fill="#fff" fill-opacity="0" stroke="#4a78c0" stroke-width="0.9"/>
<circle cx="268.4" cy="678.9" r="1.9" fill="#fff" fill-opacity="0" stroke="#4a78c0" stroke-width="0.9"/>
<circle cx="265.4" cy="683.5" r="1.9" fill="#fff" fill-opacity="0" stroke="#4a78c0" stroke-width="0.9"/>
<circle cx="268.4" cy="688.2" r="1.9" fill="#fff" fill-opacity="0" stroke="#4a78c0" stroke-width="0.9"/>
<circle cx="267.4" cy="690.0" r="1.9" fill="#fff" fill-opacity="0" stroke="#4a78c0" stroke-width="0.9"/>
<path d="M283.3 725.3V695.6H298.0V725.3" fill="none" stroke="#e03a3a" stroke-width="1.1"/>
<line x1="290.65" y1="725.30" x2="290.65" y2="727.50" stroke="#222" stroke-width="0.8" />
<text x="290.65" y="736.50" font-size="8.2" text-anchor="middle" fill="#111" >IRI</text>
<line x1="290.65" y1="704.88" x2="290.65" y2="686.32" stroke="#e03a3a" stroke-width="0.9" />
<line x1="287.65" y1="686.32" x2="293.65" y2="686.32" stroke="#e03a3a" stroke-width="0.9" />
<line x1="287.65" y1="704.88" x2="293.65" y2="704.88" stroke="#e03a3a" stroke-width="0.9" />
<path d="M288.8 678.3H292.5L290.6 674.9Z" fill="none" stroke="#e03a3a" stroke-width="0.9"/>
<path d="M283.8 696.9H287.5L285.6 693.4Z" fill="none" stroke="#e03a3a" stroke-width="0.9"/>
<path d="M286.8 697.8H290.5L288.6 694.4Z" fill="none" stroke="#e03a3a" stroke-width="0.9"/>
<path d="M290.8 696.4H294.5L292.6 693.0Z" fill="none" stroke="#e03a3a" stroke-width="0.9"/>
<path d="M293.8 696.9H297.5L295.6 693.4Z" fill="none" stroke="#e03a3a" stroke-width="0.9"/>
<path d="M288.8 699.2H292.5L290.6 695.8Z" fill="none" stroke="#e03a3a" stroke-width="0.9"/>
<path d="M285.8 706.1H289.5L287.6 702.7Z" fill="none" stroke="#e03a3a" stroke-width="0.9"/>
<path d="M288.8 713.1H292.5L290.6 709.7Z" fill="none" stroke="#e03a3a" stroke-width="0.9"/>
<line x1="268.10" y1="664.60" x2="290.90" y2="664.60" stroke="#333" stroke-width="1.0" />
<text x="279.50" y="661.20" font-size="6.0" text-anchor="middle" fill="#222" font-style="italic">p = 0.0009</text>
<text x="531.40" y="609.00" font-size="11.3" text-anchor="middle" fill="#000" >TCMK-1 cells</text>
<line x1="359.40" y1="616.10" x2="678.40" y2="616.10" stroke="#000" stroke-width="1.5" />
<text x="430.00" y="636.60" font-size="8.3" text-anchor="middle" fill="#111" >Cisplatin</text>
<line x1="401.20" y1="649.90" x2="401.20" y2="725.90" stroke="#222" stroke-width="0.9" />
<line x1="401.20" y1="725.40" x2="461.60" y2="725.40" stroke="#222" stroke-width="0.9" />
<line x1="399.00" y1="725.40" x2="401.20" y2="725.40" stroke="#222" stroke-width="0.8" />
<text x="398.80" y="728.00" font-size="7.5" text-anchor="end" fill="#222" >0.0</text>
<line x1="399.00" y1="700.23" x2="401.20" y2="700.23" stroke="#222" stroke-width="0.8" />
<text x="398.80" y="702.83" font-size="7.5" text-anchor="end" fill="#222" >0.5</text>
<line x1="399.00" y1="675.07" x2="401.20" y2="675.07" stroke="#222" stroke-width="0.8" />
<text x="398.80" y="677.67" font-size="7.5" text-anchor="end" fill="#222" >1.0</text>
<line x1="399.00" y1="649.90" x2="401.20" y2="649.90" stroke="#222" stroke-width="0.8" />
<text x="398.80" y="652.50" font-size="7.5" text-anchor="end" fill="#222" >1.5</text>
<text x="0" y="0" font-size="8.2" fill="#111" text-anchor="middle" transform="translate(367.2 687.1) rotate(-90)">RSDR expression</text>
<text x="0" y="0" font-size="8.2" fill="#111" text-anchor="middle" transform="translate(377.8 687.1) rotate(-90)">(Fold Change)</text>
<path d="M410.4 725.4V675.1H426.8V725.4" fill="none" stroke="#4a78c0" stroke-width="1.1"/>
<line x1="418.60" y1="725.40" x2="418.60" y2="727.60" stroke="#222" stroke-width="0.8" />
<text x="418.60" y="736.60" font-size="8.2" text-anchor="middle" fill="#111" >Con</text>
<circle cx="413.6" cy="675.1" r="1.9" fill="#fff" fill-opacity="0" stroke="#4a78c0" stroke-width="0.9"/>
<circle cx="418.6" cy="675.1" r="1.9" fill="#fff" fill-opacity="0" stroke="#4a78c0" stroke-width="0.9"/>
<circle cx="423.6" cy="675.1" r="1.9" fill="#fff" fill-opacity="0" stroke="#4a78c0" stroke-width="0.9"/>
<path d="M435.9 725.4V702.8H452.4V725.4" fill="none" stroke="#e03a3a" stroke-width="1.1"/>
<line x1="444.15" y1="725.40" x2="444.15" y2="727.60" stroke="#222" stroke-width="0.8" />
<text x="444.15" y="736.60" font-size="8.2" text-anchor="middle" fill="#111" >Cis</text>
<line x1="444.15" y1="704.76" x2="444.15" y2="700.23" stroke="#e03a3a" stroke-width="0.9" />
<line x1="441.15" y1="700.23" x2="447.15" y2="700.23" stroke="#e03a3a" stroke-width="0.9" />
<line x1="441.15" y1="704.76" x2="447.15" y2="704.76" stroke="#e03a3a" stroke-width="0.9" />
<path d="M438.2 705.5H442.0L440.1 702.0Z" fill="none" stroke="#e03a3a" stroke-width="0.9"/>
<path d="M442.2 701.9H446.0L444.1 698.5Z" fill="none" stroke="#e03a3a" stroke-width="0.9"/>
<path d="M446.2 704.5H450.0L448.1 701.0Z" fill="none" stroke="#e03a3a" stroke-width="0.9"/>
<line x1="418.00" y1="665.30" x2="444.80" y2="665.30" stroke="#333" stroke-width="1.0" />
<text x="431.40" y="661.90" font-size="6.0" text-anchor="middle" fill="#222" font-style="italic">p &lt; 0.0001</text>
<text x="526.60" y="638.30" font-size="8.3" text-anchor="middle" fill="#111" >Sepsis</text>
<line x1="503.30" y1="654.10" x2="503.30" y2="723.70" stroke="#222" stroke-width="0.9" />
<line x1="503.30" y1="723.20" x2="559.40" y2="723.20" stroke="#222" stroke-width="0.9" />
<line x1="501.10" y1="723.20" x2="503.30" y2="723.20" stroke="#222" stroke-width="0.8" />
<text x="500.90" y="725.80" font-size="7.5" text-anchor="end" fill="#222" >0.0</text>
<line x1="501.10" y1="700.17" x2="503.30" y2="700.17" stroke="#222" stroke-width="0.8" />
<text x="500.90" y="702.77" font-size="7.5" text-anchor="end" fill="#222" >0.5</text>
<line x1="501.10" y1="677.13" x2="503.30" y2="677.13" stroke="#222" stroke-width="0.8" />
<text x="500.90" y="679.73" font-size="7.5" text-anchor="end" fill="#222" >1.0</text>
<line x1="501.10" y1="654.10" x2="503.30" y2="654.10" stroke="#222" stroke-width="0.8" />
<text x="500.90" y="656.70" font-size="7.5" text-anchor="end" fill="#222" >1.5</text>
<text x="0" y="0" font-size="8.2" fill="#111" text-anchor="middle" transform="translate(473.4 688.8) rotate(-90)">RSDR expression</text>
<text x="0" y="0" font-size="8.2" fill="#111" text-anchor="middle" transform="translate(482.8 688.8) rotate(-90)">(Fold Change)</text>
<path d="M511.7 723.2V677.1H527.1V723.2" fill="none" stroke="#8fb0e0" stroke-width="1.1"/>
<line x1="519.40" y1="723.20" x2="519.40" y2="725.40" stroke="#222" stroke-width="0.8" />
<text x="519.40" y="734.40" font-size="8.2" text-anchor="middle" fill="#111" >Con</text>
<circle cx="514.4" cy="677.1" r="1.9" fill="#fff" fill-opacity="0" stroke="#8fb0e0" stroke-width="0.9"/>
<circle cx="519.4" cy="677.1" r="1.9" fill="#fff" fill-opacity="0" stroke="#8fb0e0" stroke-width="0.9"/>
<circle cx="524.4" cy="677.1" r="1.9" fill="#fff" fill-opacity="0" stroke="#8fb0e0" stroke-width="0.9"/>
<path d="M535.0 723.2V707.1H550.6V723.2" fill="none" stroke="#e03a3a" stroke-width="1.1"/>
<line x1="542.80" y1="723.20" x2="542.80" y2="725.40" stroke="#222" stroke-width="0.8" />
<text x="542.80" y="734.40" font-size="8.2" text-anchor="middle" fill="#111" >LPS</text>
<line x1="542.80" y1="708.46" x2="542.80" y2="704.77" stroke="#e03a3a" stroke-width="0.9" />
<line x1="539.80" y1="704.77" x2="545.80" y2="704.77" stroke="#e03a3a" stroke-width="0.9" />
<line x1="539.80" y1="708.46" x2="545.80" y2="708.46" stroke="#e03a3a" stroke-width="0.9" />
<path d="M536.9 707.4H540.7L538.8 704.0Z" fill="none" stroke="#e03a3a" stroke-width="0.9"/>
<path d="M540.9 709.7H544.7L542.8 706.3Z" fill="none" stroke="#e03a3a" stroke-width="0.9"/>
<path d="M544.9 709.2H548.7L546.8 705.8Z" fill="none" stroke="#e03a3a" stroke-width="0.9"/>
<line x1="519.10" y1="668.70" x2="543.40" y2="668.70" stroke="#333" stroke-width="1.0" />
<text x="531.25" y="665.30" font-size="6.0" text-anchor="middle" fill="#222" font-style="italic">p &lt; 0.0001</text>
<text x="628.30" y="637.10" font-size="8.3" text-anchor="middle" fill="#111" >Hypoxia/Reoxygenation</text>
<line x1="606.10" y1="652.70" x2="606.10" y2="723.40" stroke="#222" stroke-width="0.9" />
<line x1="606.10" y1="722.90" x2="661.50" y2="722.90" stroke="#222" stroke-width="0.9" />
<line x1="603.90" y1="722.90" x2="606.10" y2="722.90" stroke="#222" stroke-width="0.8" />
<text x="603.70" y="725.50" font-size="7.5" text-anchor="end" fill="#222" >0.0</text>
<line x1="603.90" y1="699.50" x2="606.10" y2="699.50" stroke="#222" stroke-width="0.8" />
<text x="603.70" y="702.10" font-size="7.5" text-anchor="end" fill="#222" >0.5</text>
<line x1="603.90" y1="676.10" x2="606.10" y2="676.10" stroke="#222" stroke-width="0.8" />
<text x="603.70" y="678.70" font-size="7.5" text-anchor="end" fill="#222" >1.0</text>
<line x1="603.90" y1="652.70" x2="606.10" y2="652.70" stroke="#222" stroke-width="0.8" />
<text x="603.70" y="655.30" font-size="7.5" text-anchor="end" fill="#222" >1.5</text>
<text x="0" y="0" font-size="8.2" fill="#111" text-anchor="middle" transform="translate(576.7 687.1) rotate(-90)">RSDR expression</text>
<text x="0" y="0" font-size="8.2" fill="#111" text-anchor="middle" transform="translate(586.1 687.1) rotate(-90)">(Fold Change)</text>
<path d="M615.0 722.9V676.1H630.1V722.9" fill="none" stroke="#4a78c0" stroke-width="1.1"/>
<line x1="622.55" y1="722.90" x2="622.55" y2="725.10" stroke="#222" stroke-width="0.8" />
<text x="622.55" y="734.10" font-size="8.2" text-anchor="middle" fill="#111" >Con</text>
<circle cx="617.5" cy="676.1" r="1.9" fill="#fff" fill-opacity="0" stroke="#4a78c0" stroke-width="0.9"/>
<circle cx="622.5" cy="676.1" r="1.9" fill="#fff" fill-opacity="0" stroke="#4a78c0" stroke-width="0.9"/>
<circle cx="627.5" cy="676.1" r="1.9" fill="#fff" fill-opacity="0" stroke="#4a78c0" stroke-width="0.9"/>
<path d="M638.0 722.9V701.8H653.1V722.9" fill="none" stroke="#e03a3a" stroke-width="1.1"/>
<line x1="645.55" y1="722.90" x2="645.55" y2="725.10" stroke="#222" stroke-width="0.8" />
<text x="645.55" y="734.10" font-size="8.2" text-anchor="middle" fill="#111" >H/R</text>
<line x1="645.55" y1="707.46" x2="645.55" y2="696.22" stroke="#e03a3a" stroke-width="0.9" />
<line x1="642.55" y1="696.22" x2="648.55" y2="696.22" stroke="#e03a3a" stroke-width="0.9" />
<line x1="642.55" y1="707.46" x2="648.55" y2="707.46" stroke="#e03a3a" stroke-width="0.9" />
<path d="M639.6 699.8H643.4L641.5 696.4Z" fill="none" stroke="#e03a3a" stroke-width="0.9"/>
<path d="M647.6 699.8H651.4L649.5 696.4Z" fill="none" stroke="#e03a3a" stroke-width="0.9"/>
<path d="M643.6 710.6H647.4L645.5 707.1Z" fill="none" stroke="#e03a3a" stroke-width="0.9"/>
<line x1="622.40" y1="667.50" x2="646.40" y2="667.50" stroke="#333" stroke-width="1.0" />
<text x="634.40" y="664.10" font-size="6.0" text-anchor="middle" fill="#222" font-style="italic">p = 0.0016</text>
<text x="176.30" y="755.00" font-size="11.3" text-anchor="middle" fill="#000" >Mouse kidney</text>
<line x1="18.10" y1="763.40" x2="336.40" y2="763.40" stroke="#000" stroke-width="1.5" />
<text x="531.40" y="754.30" font-size="11.3" text-anchor="middle" fill="#000" >TCMK-1 cells</text>
<line x1="359.40" y1="763.00" x2="677.40" y2="763.00" stroke="#000" stroke-width="1.5" />
<text x="52.90" y="783.00" font-size="11.2" text-anchor="middle" fill="#000" >Con</text>
<text x="113.30" y="783.00" font-size="11.2" text-anchor="middle" fill="#000" >Cis</text>
<text x="181.30" y="783.00" font-size="11.2" text-anchor="middle" fill="#000" >Sham</text>
<text x="244.30" y="783.00" font-size="11.2" text-anchor="middle" fill="#000" >CLP</text>
<text x="309.20" y="783.00" font-size="11.2" text-anchor="middle" fill="#000" >I/R</text>
<text x="393.20" y="783.00" font-size="11.2" text-anchor="middle" fill="#000" >VC</text>
<text x="456.80" y="783.00" font-size="11.2" text-anchor="middle" fill="#000" >Cis</text>
<text x="522.30" y="783.00" font-size="11.2" text-anchor="middle" fill="#000" >LPS</text>
<text x="585.80" y="783.00" font-size="11.2" text-anchor="middle" fill="#000" >UC</text>
<text x="649.20" y="783.00" font-size="11.2" text-anchor="middle" fill="#000" >H/R</text>
<text x="0" y="0" font-size="11" fill="#27a844" text-anchor="middle" transform="translate(15.9 821.3) rotate(-90)">AQP-1</text>
<text x="0" y="0" font-size="11" fill="#e8141c" text-anchor="middle" transform="translate(15.9 887.4) rotate(-90)">RSDR</text>
<text x="0" y="0" font-size="11" fill="#000" text-anchor="middle" transform="translate(15.9 948.6) rotate(-90)">Merge</text>
<text x="0" y="0" font-size="11" fill="#3a68c0" text-anchor="middle" transform="translate(360.1 824.4) rotate(-90)">DAPI</text>
<text x="0" y="0" font-size="11" fill="#e8141c" text-anchor="middle" transform="translate(360.1 887.4) rotate(-90)">RSDR</text>
<text x="0" y="0" font-size="11" fill="#000" text-anchor="middle" transform="translate(360.1 948.4) rotate(-90)">Merge</text>
<g clip-path="url(#cp1)">
<rect x="20.10" y="790.60" width="62.00" height="61.60" fill="#000" />
<rect x="4.6" y="774.9" width="93.0" height="93.0" filter="url(#gf0_0)" transform="rotate(40 51.1 821.4)"/>
</g>
<g clip-path="url(#cp2)">
<rect x="20.10" y="917.90" width="62.00" height="61.60" fill="#000" />
<rect x="4.6" y="902.2" width="93.0" height="93.0" filter="url(#gf0_2)" transform="rotate(40 51.1 948.7)"/>
<path d="M68.9 975.5h0M55.8 934.1h0M66.5 941.3h0M69.2 939.1h0M55.4 966.1h0M22.2 938.6h0M45.0 936.5h0M76.2 923.0h0M48.0 937.2h0M29.1 925.9h0M74.5 941.0h0M76.4 941.2h0M41.2 929.8h0M25.9 919.4h0M67.1 972.0h0M77.6 961.9h0M74.1 954.6h0M49.7 975.4h0M54.2 929.4h0M55.5 971.0h0M66.3 950.3h0M65.3 935.4h0M61.7 955.2h0M24.7 975.2h0M71.7 965.6h0M37.1 965.3h0M42.5 922.2h0M75.2 961.1h0M36.6 946.6h0M32.1 971.8h0M40.9 969.3h0M46.3 953.4h0M37.3 921.1h0M22.9 929.3h0M44.7 923.2h0M49.7 933.3h0M37.3 942.0h0M38.2 946.4h0M55.9 951.8h0M21.4 927.6h0M25.9 949.0h0M49.8 939.1h0M46.0 927.7h0M43.3 953.3h0M71.4 947.3h0M62.8 922.0h0M65.6 949.4h0M53.9 965.8h0M64.6 939.9h0M44.3 975.6h0M64.1 975.1h0M50.5 964.1h0M58.5 952.3h0M58.5 958.9h0M42.0 935.2h0M71.0 961.9h0M42.7 947.8h0M78.3 964.5h0M78.7 973.4h0M34.1 949.9h0M73.4 974.6h0M80.2 935.3h0M41.5 957.8h0M37.0 925.1h0M51.6 964.0h0M50.6 950.2h0M47.7 921.9h0M62.2 972.7h0M73.7 946.7h0M43.7 970.4h0M33.3 921.5h0M73.9 941.0h0M41.2 940.5h0M31.3 976.1h0M54.0 976.5h0M44.8 954.2h0M56.5 919.8h0M63.3 926.2h0M74.1 953.9h0M66.7 967.1h0M30.2 924.4h0M54.7 966.7h0M23.1 958.1h0M34.8 948.0h0M46.0 933.1h0M76.1 953.2h0M37.8 922.0h0M70.1 970.6h0M26.6 926.4h0M59.2 933.1h0M68.7 963.8h0M57.3 920.2h0M66.8 938.6h0M51.6 933.9h0M40.7 921.5h0M51.7 937.7h0M80.0 949.4h0M67.0 962.5h0M41.6 919.8h0M41.8 956.8h0M49.7 964.6h0M22.7 955.8h0M34.4 945.5h0M75.5 963.1h0M54.1 978.0h0M30.0 934.8h0M28.1 956.2h0M67.2 970.0h0M27.3 958.7h0M69.4 926.5h0M80.9 964.5h0M78.0 931.2h0M52.6 931.5h0M48.6 958.8h0M51.4 947.7h0M67.9 972.5h0M39.2 921.0h0M43.9 919.6h0M39.6 975.0h0M39.3 933.8h0" stroke="#d03c80" stroke-opacity="0.85" stroke-width="1.10" stroke-linecap="round" fill="none"/>
</g>
<g clip-path="url(#cp3)">
<rect x="20.10" y="854.00" width="62.00" height="61.60" fill="#000" />
<path d="M57.0 875.5h0M21.2 875.6h0M70.5 880.2h0M55.9 864.6h0M46.8 876.9h0M29.4 869.7h0M26.8 906.8h0M51.3 885.7h0M67.4 896.1h0M38.9 907.8h0M54.5 912.0h0M37.6 875.9h0M25.1 902.9h0M58.6 903.2h0M43.7 909.8h0M66.2 903.5h0M23.2 904.1h0M78.4 898.6h0M47.8 891.8h0M37.4 866.7h0M74.7 893.2h0M73.7 869.2h0M45.6 903.9h0M29.5 886.1h0M48.4 869.3h0M66.3 894.2h0M45.2 900.5h0M79.7 860.4h0M80.9 871.0h0M47.0 867.4h0M24.2 888.7h0M28.2 890.6h0M77.2 903.5h0M31.7 866.6h0M72.7 885.8h0M80.7 876.6h0M55.6 878.9h0M26.4 884.4h0M51.9 877.6h0M80.7 897.2h0M32.3 855.3h0M26.5 864.0h0M28.4 858.5h0M67.9 873.4h0M42.8 878.6h0M47.9 875.4h0M52.3 889.2h0M38.7 885.0h0M30.4 867.3h0M40.8 875.2h0M39.6 885.5h0M62.6 889.5h0M28.4 855.5h0M32.4 865.8h0M68.9 904.2h0M32.4 902.9h0M73.1 893.7h0M55.1 875.1h0M58.1 870.7h0M42.1 895.4h0M36.1 909.9h0M40.2 861.4h0M57.6 871.2h0M46.2 887.9h0M32.9 866.5h0M61.5 909.6h0M26.6 861.2h0M28.4 861.1h0M24.1 892.2h0M51.6 871.4h0M43.3 879.8h0M41.3 899.9h0M27.4 876.8h0M48.7 861.9h0M47.0 866.9h0M62.8 860.8h0M33.2 863.1h0M25.7 889.9h0M33.9 904.7h0M50.8 855.9h0M41.0 913.0h0M68.5 909.8h0M29.9 862.2h0M28.9 896.7h0M73.8 860.6h0M26.2 885.1h0M38.0 878.3h0M46.3 912.5h0M35.7 899.0h0M32.9 887.8h0M49.8 857.5h0M77.8 895.3h0M55.6 911.7h0M58.9 860.3h0M41.4 868.1h0M80.4 909.9h0M64.2 904.4h0M50.7 859.4h0M79.9 902.7h0M76.2 900.3h0M45.1 890.7h0M27.6 911.6h0M71.7 868.4h0M57.1 868.9h0M45.1 892.8h0M39.3 882.9h0M77.1 907.9h0M67.9 906.2h0M37.2 890.4h0M57.6 911.4h0M23.5 899.3h0M60.1 887.1h0M49.5 889.9h0M68.6 881.0h0M62.4 875.2h0M75.8 891.6h0M73.6 874.9h0M74.3 882.7h0M78.7 903.2h0M28.1 883.3h0M45.2 869.4h0M39.0 858.4h0M80.1 864.2h0M74.2 898.5h0M38.7 872.8h0M71.3 879.6h0M29.7 882.0h0M57.9 855.0h0M58.7 864.8h0M53.8 902.0h0M68.9 870.1h0M69.5 880.0h0M45.1 887.5h0M43.2 884.6h0M77.6 902.4h0M40.5 859.4h0M66.5 856.7h0M54.5 890.9h0M77.5 897.1h0M68.3 887.4h0M48.2 882.3h0M79.0 856.2h0M62.8 866.9h0M47.3 883.6h0M28.5 862.5h0M59.8 912.9h0M28.3 870.2h0M54.3 880.4h0M31.9 895.9h0M58.2 876.8h0M53.7 877.5h0M41.6 873.8h0M28.3 904.1h0M22.9 886.7h0M64.3 889.3h0M31.8 887.9h0M66.6 883.7h0M58.6 870.8h0M39.2 911.9h0M45.5 898.3h0M68.8 855.7h0M79.8 892.9h0M32.5 887.8h0M66.8 866.6h0M23.2 863.1h0M22.0 888.4h0M81.0 862.9h0M69.1 899.8h0M21.9 911.5h0M57.4 869.2h0" stroke="#e0201a" stroke-opacity="0.9" stroke-width="1.10" stroke-linecap="round" fill="none"/>
</g>
<g clip-path="url(#cp4)">
<rect x="85.60" y="790.60" width="62.00" height="61.60" fill="#000" />
<rect x="70.1" y="774.9" width="93.0" height="93.0" filter="url(#gf1_0)" transform="rotate(58 116.6 821.4)"/>
</g>
<g clip-path="url(#cp5)">
<rect x="85.60" y="917.90" width="62.00" height="61.60" fill="#000" />
<rect x="70.1" y="902.2" width="93.0" height="93.0" filter="url(#gf1_2)" transform="rotate(58 116.6 948.7)"/>
<path d="M125.0 956.4h0M101.1 967.0h0M106.8 940.6h0M129.7 939.9h0M143.4 946.3h0M109.0 920.1h0M132.0 931.6h0M114.0 959.2h0M114.6 975.6h0M110.2 940.3h0M92.8 920.6h0M93.7 953.0h0M93.5 948.6h0M95.6 966.2h0M88.8 965.2h0M142.7 975.4h0M114.6 967.2h0M96.9 976.1h0M145.2 961.8h0M144.7 956.1h0M144.9 941.9h0M91.5 931.3h0M138.5 969.1h0M109.6 961.4h0M140.7 939.7h0" stroke="#d03c80" stroke-opacity="0.85" stroke-width="1.10" stroke-linecap="round" fill="none"/>
</g>
<g clip-path="url(#cp6)">
<rect x="85.60" y="854.00" width="62.00" height="61.60" fill="#000" />
<path d="M110.5 902.6h0M116.2 882.4h0M100.8 894.8h0M101.9 912.9h0M101.2 912.3h0M92.3 881.6h0M119.8 911.7h0M137.3 873.5h0M124.6 906.1h0M97.1 903.7h0M135.3 912.5h0M99.8 899.0h0M114.1 912.0h0M132.8 856.0h0M143.1 904.1h0M103.6 912.5h0M96.4 911.1h0M122.4 856.4h0M135.3 873.9h0M90.9 864.8h0M91.8 881.9h0M103.8 909.8h0M109.6 861.4h0M86.8 897.1h0M93.1 912.1h0M131.6 888.9h0M120.9 871.7h0M140.8 873.5h0M95.3 889.5h0M138.5 912.8h0M109.4 869.3h0M114.4 861.4h0M122.5 868.1h0M104.4 902.0h0M143.3 892.0h0M103.5 911.5h0M122.3 888.0h0M110.8 904.2h0M106.0 864.6h0M108.1 873.9h0" stroke="#e0201a" stroke-opacity="0.45" stroke-width="1.10" stroke-linecap="round" fill="none"/>
</g>
<g clip-path="url(#cp7)">
<rect x="150.00" y="790.60" width="62.00" height="61.60" fill="#000" />
<rect x="134.5" y="774.9" width="93.0" height="93.0" filter="url(#gf2_0)" transform="rotate(0 181.0 821.4)"/>
<path d="M150.0 790.6h16c-2 8 -8 14 -16 22z" fill="#000" fill-opacity="0.8" filter="url(#soft2)"/>
<g fill="none" stroke="#34c034" stroke-opacity="0.95" stroke-width="1.4" stroke-dasharray="2.2 0.5" filter="url(#soft)"><ellipse cx="185.9" cy="803.2" rx="3.8" ry="4.2"/><ellipse cx="179.0" cy="831.1" rx="2.7" ry="2.2"/><ellipse cx="168.3" cy="832.9" rx="2.7" ry="3.1"/><ellipse cx="155.2" cy="803.1" rx="2.5" ry="2.6"/><ellipse cx="173.0" cy="819.7" rx="2.9" ry="2.8"/><ellipse cx="175.2" cy="804.0" rx="3.0" ry="2.5"/><ellipse cx="157.6" cy="840.7" rx="3.4" ry="3.3"/><ellipse cx="203.9" cy="815.1" rx="2.9" ry="2.6"/><ellipse cx="151.4" cy="819.3" rx="3.1" ry="2.7"/><ellipse cx="152.3" cy="833.6" rx="2.4" ry="2.3"/><ellipse cx="160.2" cy="793.7" rx="2.7" ry="1.9"/><ellipse cx="160.0" cy="832.4" rx="3.4" ry="3.0"/><ellipse cx="190.1" cy="819.9" rx="3.1" ry="3.4"/><ellipse cx="169.7" cy="843.5" rx="3.4" ry="3.4"/><ellipse cx="151.4" cy="796.6" rx="2.4" ry="2.1"/><ellipse cx="207.8" cy="843.8" rx="3.6" ry="2.7"/><ellipse cx="193.3" cy="837.8" rx="3.5" ry="3.7"/><ellipse cx="204.4" cy="799.9" rx="3.7" ry="4.1"/><ellipse cx="171.3" cy="795.6" rx="3.2" ry="3.2"/><ellipse cx="166.0" cy="803.8" rx="2.6" ry="2.9"/><ellipse cx="204.3" cy="792.3" rx="3.3" ry="3.6"/><ellipse cx="199.3" cy="805.8" rx="2.8" ry="2.8"/><ellipse cx="158.2" cy="812.0" rx="2.9" ry="2.6"/><ellipse cx="158.7" cy="824.1" rx="2.8" ry="2.9"/><ellipse cx="154.0" cy="850.8" rx="3.4" ry="3.1"/><ellipse cx="193.6" cy="848.3" rx="3.5" ry="3.2"/><ellipse cx="194.8" cy="826.6" rx="3.3" ry="3.7"/><ellipse cx="205.2" cy="826.0" rx="3.1" ry="2.3"/><ellipse cx="210.2" cy="809.3" rx="2.7" ry="2.8"/><ellipse cx="191.3" cy="797.1" rx="3.3" ry="2.9"/><ellipse cx="180.3" cy="846.4" rx="3.0" ry="3.2"/><ellipse cx="202.2" cy="834.2" rx="3.1" ry="3.5"/><ellipse cx="185.9" cy="812.5" rx="3.6" ry="3.7"/><ellipse cx="187.9" cy="832.5" rx="2.7" ry="3.0"/><ellipse cx="163.2" cy="848.9" rx="3.1" ry="2.6"/><ellipse cx="199.2" cy="843.0" rx="3.5" ry="3.2"/><ellipse cx="166.3" cy="825.2" rx="3.0" ry="2.3"/><ellipse cx="164.9" cy="815.9" rx="3.2" ry="3.3"/><ellipse cx="173.2" cy="850.7" rx="3.2" ry="3.3"/><ellipse cx="188.0" cy="843.1" rx="3.5" ry="3.9"/><ellipse cx="178.9" cy="795.1" rx="2.9" ry="2.8"/><ellipse cx="181.1" cy="820.1" rx="3.5" ry="3.8"/><ellipse cx="195.4" cy="813.1" rx="2.5" ry="2.4"/><ellipse cx="210.0" cy="835.9" rx="3.5" ry="3.8"/><ellipse cx="209.8" cy="851.1" rx="2.6" ry="2.5"/><ellipse cx="178.3" cy="811.0" rx="2.7" ry="2.2"/><ellipse cx="177.4" cy="838.6" rx="3.0" ry="3.2"/><ellipse cx="210.8" cy="820.4" rx="3.7" ry="2.6"/><ellipse cx="202.1" cy="850.5" rx="3.6" ry="3.5"/></g>
</g>
<g clip-path="url(#cp8)">
<rect x="150.00" y="917.90" width="62.00" height="61.60" fill="#000" />
<rect x="134.5" y="902.2" width="93.0" height="93.0" filter="url(#gf2_2)" transform="rotate(0 181.0 948.7)"/>
<path d="M150.0 917.9h16c-2 8 -8 14 -16 22z" fill="#000" fill-opacity="0.8" filter="url(#soft2)"/>
<g fill="none" stroke="#34c034" stroke-opacity="0.95" stroke-width="1.4" stroke-dasharray="2.2 0.5" filter="url(#soft)"><ellipse cx="185.9" cy="930.5" rx="3.8" ry="4.2"/><ellipse cx="179.0" cy="958.4" rx="2.7" ry="2.2"/><ellipse cx="168.3" cy="960.2" rx="2.7" ry="3.1"/><ellipse cx="155.2" cy="930.4" rx="2.5" ry="2.6"/><ellipse cx="173.0" cy="947.0" rx="2.9" ry="2.8"/><ellipse cx="175.2" cy="931.3" rx="3.0" ry="2.5"/><ellipse cx="157.6" cy="968.0" rx="3.4" ry="3.3"/><ellipse cx="203.9" cy="942.4" rx="2.9" ry="2.6"/><ellipse cx="151.4" cy="946.6" rx="3.1" ry="2.7"/><ellipse cx="152.3" cy="960.9" rx="2.4" ry="2.3"/><ellipse cx="160.2" cy="921.0" rx="2.7" ry="1.9"/><ellipse cx="160.0" cy="959.7" rx="3.4" ry="3.0"/><ellipse cx="190.1" cy="947.2" rx="3.1" ry="3.4"/><ellipse cx="169.7" cy="970.8" rx="3.4" ry="3.4"/><ellipse cx="151.4" cy="923.9" rx="2.4" ry="2.1"/><ellipse cx="207.8" cy="971.1" rx="3.6" ry="2.7"/><ellipse cx="193.3" cy="965.1" rx="3.5" ry="3.7"/><ellipse cx="204.4" cy="927.2" rx="3.7" ry="4.1"/><ellipse cx="171.3" cy="922.9" rx="3.2" ry="3.2"/><ellipse cx="166.0" cy="931.1" rx="2.6" ry="2.9"/><ellipse cx="204.3" cy="919.6" rx="3.3" ry="3.6"/><ellipse cx="199.3" cy="933.1" rx="2.8" ry="2.8"/><ellipse cx="158.2" cy="939.3" rx="2.9" ry="2.6"/><ellipse cx="158.7" cy="951.4" rx="2.8" ry="2.9"/><ellipse cx="154.0" cy="978.1" rx="3.4" ry="3.1"/><ellipse cx="193.6" cy="975.6" rx="3.5" ry="3.2"/><ellipse cx="194.8" cy="953.9" rx="3.3" ry="3.7"/><ellipse cx="205.2" cy="953.3" rx="3.1" ry="2.3"/><ellipse cx="210.2" cy="936.6" rx="2.7" ry="2.8"/><ellipse cx="191.3" cy="924.4" rx="3.3" ry="2.9"/><ellipse cx="180.3" cy="973.7" rx="3.0" ry="3.2"/><ellipse cx="202.2" cy="961.5" rx="3.1" ry="3.5"/><ellipse cx="185.9" cy="939.8" rx="3.6" ry="3.7"/><ellipse cx="187.9" cy="959.8" rx="2.7" ry="3.0"/><ellipse cx="163.2" cy="976.2" rx="3.1" ry="2.6"/><ellipse cx="199.2" cy="970.3" rx="3.5" ry="3.2"/><ellipse cx="166.3" cy="952.5" rx="3.0" ry="2.3"/><ellipse cx="164.9" cy="943.2" rx="3.2" ry="3.3"/><ellipse cx="173.2" cy="978.0" rx="3.2" ry="3.3"/><ellipse cx="188.0" cy="970.4" rx="3.5" ry="3.9"/><ellipse cx="178.9" cy="922.4" rx="2.9" ry="2.8"/><ellipse cx="181.1" cy="947.4" rx="3.5" ry="3.8"/><ellipse cx="195.4" cy="940.4" rx="2.5" ry="2.4"/><ellipse cx="210.0" cy="963.2" rx="3.5" ry="3.8"/><ellipse cx="209.8" cy="978.4" rx="2.6" ry="2.5"/><ellipse cx="178.3" cy="938.3" rx="2.7" ry="2.2"/><ellipse cx="177.4" cy="965.9" rx="3.0" ry="3.2"/><ellipse cx="210.8" cy="947.7" rx="3.7" ry="2.6"/><ellipse cx="202.1" cy="977.8" rx="3.6" ry="3.5"/></g>
<path d="M181.3 928.9h0M172.1 967.0h0M192.9 929.0h0M204.2 970.2h0M153.5 957.3h0M173.7 923.5h0M170.1 957.3h0M157.5 938.1h0M192.3 932.8h0M203.5 953.0h0M188.9 921.2h0M155.2 955.4h0M161.4 950.1h0M204.8 954.2h0M177.6 924.9h0M158.5 933.7h0M208.3 963.8h0M161.2 921.8h0M209.3 976.5h0M182.9 935.2h0M183.1 972.3h0M166.1 965.6h0M180.7 951.6h0M207.3 919.6h0M169.0 924.9h0M161.3 970.5h0M152.9 975.8h0M172.4 955.0h0M180.5 925.4h0M165.8 930.7h0M170.9 919.3h0M185.6 933.4h0M191.9 951.5h0M201.4 976.0h0M170.2 956.7h0M197.9 937.0h0M186.9 962.7h0M202.7 964.5h0M180.9 948.6h0M173.8 957.1h0M209.8 920.1h0M192.0 962.1h0M176.5 920.0h0M167.1 973.4h0M196.6 959.3h0M207.4 972.3h0M151.8 945.4h0M193.0 966.5h0M179.4 922.8h0M188.1 959.0h0M175.6 920.7h0M162.0 929.0h0M179.8 968.1h0M160.3 939.7h0M163.5 926.5h0M161.1 951.5h0M197.6 975.2h0M206.0 976.5h0M182.7 965.2h0M167.6 957.5h0" stroke="#d03c80" stroke-opacity="0.85" stroke-width="1.10" stroke-linecap="round" fill="none"/>
</g>
<g clip-path="url(#cp9)">
<rect x="150.00" y="854.00" width="62.00" height="61.60" fill="#000" />
<path d="M208.9 887.1h0M184.2 883.3h0M162.3 857.2h0M174.9 885.0h0M197.5 875.2h0M209.2 861.7h0M190.4 856.7h0M164.2 862.6h0M209.7 895.5h0M184.2 906.4h0M208.1 877.5h0M202.7 872.3h0M193.2 904.4h0M173.7 894.1h0M194.8 860.3h0M196.7 866.7h0M168.4 869.4h0M168.1 911.2h0M177.0 906.1h0M159.2 869.8h0M151.7 883.2h0M208.0 886.0h0M194.2 864.7h0M154.6 868.3h0M208.2 896.6h0M206.8 901.2h0M166.6 866.4h0M187.8 863.4h0M180.0 887.1h0M166.1 912.9h0M154.5 910.1h0M153.4 912.7h0M175.6 864.0h0M188.5 897.2h0M174.8 883.4h0M191.1 871.3h0M169.7 896.6h0M178.4 904.7h0M177.8 898.3h0M183.7 869.2h0M172.9 888.3h0M179.4 897.0h0M191.4 896.4h0M165.6 906.7h0M205.9 876.3h0M205.1 883.4h0M167.3 858.7h0M192.2 896.0h0M190.6 880.2h0M156.8 855.2h0M188.1 894.0h0M208.2 903.0h0M183.9 913.3h0M151.8 910.8h0M181.8 882.8h0M188.0 876.0h0M181.2 907.5h0M192.5 909.4h0M180.6 866.0h0M180.2 899.7h0M169.8 892.1h0M191.3 876.6h0M151.0 897.2h0M169.0 913.8h0M151.7 896.9h0M186.2 907.8h0M201.6 907.2h0M194.6 894.2h0M195.0 898.7h0M179.8 877.3h0M161.2 878.4h0M182.3 908.7h0M165.4 908.0h0M197.8 876.0h0M191.4 913.3h0M204.1 900.2h0M171.2 877.8h0M174.5 871.7h0M178.2 904.7h0M195.1 871.8h0M190.5 889.7h0M156.9 868.9h0M166.4 859.7h0M192.2 892.9h0M172.9 910.7h0M175.4 866.4h0M176.7 879.8h0M161.7 876.0h0M193.2 892.3h0M156.6 894.4h0M186.6 860.8h0M168.1 897.5h0M198.5 901.8h0M171.1 907.6h0M183.1 894.0h0M168.5 874.1h0M159.4 862.7h0M193.3 860.3h0M190.6 880.1h0M170.2 881.9h0M202.1 891.1h0M177.3 889.8h0M185.6 856.9h0M164.6 907.7h0M199.5 896.3h0M208.7 896.1h0M189.9 906.9h0M161.3 881.3h0M197.2 865.3h0M190.2 859.4h0M155.2 875.5h0M193.6 902.0h0M177.9 895.0h0M174.4 874.8h0M162.2 878.7h0M207.6 892.2h0M177.7 888.8h0M187.4 899.0h0M182.0 887.2h0M168.7 899.6h0M206.1 890.4h0M156.9 877.0h0M190.3 865.9h0M203.7 862.7h0M205.7 899.3h0M185.9 888.9h0M204.7 884.1h0M205.7 913.7h0M157.9 909.6h0M182.0 905.5h0" stroke="#e0201a" stroke-opacity="0.9" stroke-width="1.10" stroke-linecap="round" fill="none"/>
</g>
<g clip-path="url(#cp10)">
<rect x="216.00" y="790.60" width="62.00" height="61.60" fill="#000" />
<rect x="200.5" y="774.9" width="93.0" height="93.0" filter="url(#gf3_0)" transform="rotate(0 247.0 821.4)"/>
</g>
<g clip-path="url(#cp11)">
<rect x="216.00" y="917.90" width="62.00" height="61.60" fill="#000" />
<rect x="200.5" y="902.2" width="93.0" height="93.0" filter="url(#gf3_2)" transform="rotate(0 247.0 948.7)"/>
<path d="M227.3 940.0h0M228.5 937.4h0M270.7 920.0h0M264.3 960.6h0M218.7 921.0h0M250.4 972.4h0M242.2 962.3h0M267.0 977.9h0M255.6 941.1h0M262.2 954.5h0M245.4 968.6h0M242.3 957.3h0M259.7 971.2h0M225.1 968.1h0M271.7 923.4h0M230.3 950.4h0M242.8 972.1h0M220.9 919.8h0M268.2 960.3h0M245.7 936.5h0M249.1 972.4h0M261.4 947.7h0M225.5 939.1h0M244.8 962.8h0M270.1 962.7h0M263.3 970.2h0M250.5 929.0h0M272.6 947.6h0M269.5 955.6h0M251.2 948.8h0" stroke="#d03c80" stroke-opacity="0.85" stroke-width="1.10" stroke-linecap="round" fill="none"/>
</g>
<g clip-path="url(#cp12)">
<rect x="216.00" y="854.00" width="62.00" height="61.60" fill="#000" />
<path d="M218.9 912.7h0M228.7 914.3h0M273.8 870.4h0M248.0 878.7h0M241.6 902.1h0M266.7 870.3h0M249.6 895.9h0M252.6 862.2h0M240.5 884.4h0M272.4 904.0h0M257.5 871.7h0M273.3 868.7h0M237.3 864.4h0M252.3 902.4h0M259.1 904.3h0M259.1 893.9h0M232.1 912.1h0M276.4 898.7h0M276.8 907.7h0M269.6 900.1h0M265.7 896.2h0M224.7 904.9h0M238.1 893.4h0M271.0 884.4h0M233.2 888.0h0M269.5 905.1h0M276.6 909.1h0M265.3 883.9h0M228.0 910.6h0M219.3 911.4h0M255.4 869.1h0M227.0 897.7h0M221.3 880.7h0M223.4 863.0h0M232.1 893.9h0M218.6 905.9h0M254.8 870.4h0M259.9 858.8h0M232.2 885.0h0M268.3 895.2h0M219.4 912.1h0M226.2 866.0h0M251.7 859.2h0M241.7 867.6h0M244.0 875.8h0M242.3 875.3h0M245.8 894.2h0M242.2 886.5h0M234.8 878.7h0M221.7 882.3h0M247.3 864.5h0M236.0 888.2h0M246.2 892.6h0M232.4 903.9h0M225.9 909.8h0M237.4 871.1h0M237.2 911.4h0M258.6 911.2h0M276.5 882.7h0M265.2 857.6h0" stroke="#e0201a" stroke-opacity="0.5" stroke-width="1.10" stroke-linecap="round" fill="none"/>
</g>
<g clip-path="url(#cp13)">
<rect x="281.40" y="790.60" width="62.00" height="61.60" fill="#000" />
<rect x="265.9" y="774.9" width="93.0" height="93.0" filter="url(#gf4_0)" transform="rotate(10 312.4 821.4)"/>
</g>
<g clip-path="url(#cp14)">
<rect x="281.40" y="917.90" width="62.00" height="61.60" fill="#000" />
<rect x="265.9" y="902.2" width="93.0" height="93.0" filter="url(#gf4_2)" transform="rotate(10 312.4 948.7)"/>
<path d="M310.2 952.9h0M330.7 963.8h0M293.9 928.0h0M327.1 959.9h0M319.3 977.3h0M315.2 936.8h0M302.2 920.9h0M330.8 943.2h0M313.2 927.6h0M337.7 943.7h0M285.8 962.2h0M328.1 923.9h0M322.7 928.8h0M295.0 973.8h0M339.0 923.1h0M288.3 942.9h0M292.8 962.8h0M288.1 933.9h0M323.1 945.2h0M321.8 935.5h0M335.1 961.4h0M309.1 958.1h0M319.0 947.6h0M340.9 966.3h0M323.9 972.6h0" stroke="#d03c80" stroke-opacity="0.85" stroke-width="1.10" stroke-linecap="round" fill="none"/>
</g>
<g clip-path="url(#cp15)">
<rect x="281.40" y="854.00" width="62.00" height="61.60" fill="#000" />
<path d="M290.4 880.4h0M333.5 881.9h0M296.4 894.8h0M300.8 889.8h0M296.2 900.1h0M285.4 872.2h0M338.2 860.2h0M305.8 866.1h0M305.3 888.7h0M339.7 911.5h0M301.0 900.6h0M309.9 861.0h0M298.5 873.9h0M306.2 914.5h0M330.4 860.7h0M317.2 872.4h0M298.0 907.0h0M286.5 898.8h0M335.7 855.1h0M300.0 902.1h0M285.2 876.7h0M296.5 907.8h0M331.0 900.6h0M299.0 861.7h0M336.7 868.4h0M295.4 859.9h0M331.8 881.6h0M293.0 856.3h0M309.9 857.5h0M282.5 883.4h0M316.2 887.3h0M337.5 857.6h0M286.4 860.6h0M319.2 894.2h0M296.0 889.2h0M285.7 862.7h0M298.9 863.1h0M298.5 872.7h0M307.0 906.2h0M327.8 903.2h0M291.8 902.3h0M305.2 909.2h0M319.5 895.6h0M317.6 856.3h0M300.2 865.5h0M298.3 900.3h0M306.3 863.1h0M330.2 872.0h0M288.9 877.5h0M303.6 887.3h0" stroke="#e0201a" stroke-opacity="0.5" stroke-width="1.10" stroke-linecap="round" fill="none"/>
</g>
<text x="64.80" y="845.20" font-size="8.6" text-anchor="middle" fill="#fff" >20μm</text>
<line x1="53.40" y1="846.90" x2="76.20" y2="846.90" stroke="#fff" stroke-width="0.8" />
<g clip-path="url(#cp16)">
<rect x="365.40" y="790.60" width="62.00" height="61.60" fill="#000" />
<circle cx="386.9" cy="802.6" r="3.4" fill="#1018c4" fill-opacity="0.95" filter="url(#soft2)"/>
<circle cx="395.9" cy="827.1" r="3.6" fill="#1018c4" fill-opacity="0.95" filter="url(#soft2)"/>
<circle cx="420.9" cy="842.1" r="3.6" fill="#1018c4" fill-opacity="0.95" filter="url(#soft2)"/>
</g>
<g clip-path="url(#cp17)">
<rect x="365.40" y="854.00" width="62.00" height="61.60" fill="#000" />
<circle cx="386.9" cy="866.0" r="3.4" fill="#fa1010" fill-opacity="1.0" filter="url(#soft2)"/>
<path d="M386.5 867.3h0M387.7 864.3h0M388.2 867.0h0M386.5 867.0h0" stroke="#300010" stroke-opacity="0.7" stroke-width="1.00" stroke-linecap="round" fill="none"/>
<circle cx="395.9" cy="890.5" r="3.6" fill="#fa1010" fill-opacity="1.0" filter="url(#soft2)"/>
<path d="M396.3 890.8h0M394.4 888.6h0M397.4 889.5h0M394.0 891.4h0" stroke="#300010" stroke-opacity="0.7" stroke-width="1.00" stroke-linecap="round" fill="none"/>
<circle cx="420.9" cy="905.5" r="3.6" fill="#fa1010" fill-opacity="1.0" filter="url(#soft2)"/>
<path d="M421.9 903.6h0M421.6 906.2h0M419.3 905.4h0M419.4 907.2h0" stroke="#300010" stroke-opacity="0.7" stroke-width="1.00" stroke-linecap="round" fill="none"/>
</g>
<g clip-path="url(#cp18)">
<rect x="365.40" y="917.90" width="62.00" height="61.60" fill="#000" />
<circle cx="386.9" cy="929.9" r="3.4" fill="#e01c8c" fill-opacity="0.95" filter="url(#soft2)"/>
<path d="M386.5 931.2h0M387.7 928.2h0M388.2 930.9h0M386.5 930.9h0" stroke="#3010a0" stroke-opacity="0.7" stroke-width="1.00" stroke-linecap="round" fill="none"/>
<circle cx="395.9" cy="954.4" r="3.6" fill="#e01c8c" fill-opacity="0.95" filter="url(#soft2)"/>
<path d="M396.3 954.7h0M394.4 952.5h0M397.4 953.4h0M394.0 955.3h0" stroke="#3010a0" stroke-opacity="0.7" stroke-width="1.00" stroke-linecap="round" fill="none"/>
<circle cx="420.9" cy="969.4" r="3.6" fill="#e01c8c" fill-opacity="0.95" filter="url(#soft2)"/>
<path d="M421.9 967.5h0M421.6 970.1h0M419.3 969.3h0M419.4 971.1h0" stroke="#3010a0" stroke-opacity="0.7" stroke-width="1.00" stroke-linecap="round" fill="none"/>
</g>
<g clip-path="url(#cp19)">
<rect x="429.30" y="790.60" width="62.00" height="61.60" fill="#000" />
<circle cx="454.9" cy="817.4" r="3.8" fill="#1018c4" fill-opacity="0.95" filter="url(#soft2)"/>
<circle cx="466.6" cy="811.6" r="3.3" fill="#1018c4" fill-opacity="0.95" filter="url(#soft2)"/>
<circle cx="472.4" cy="818.3" r="3.5" fill="#1018c4" fill-opacity="0.95" filter="url(#soft2)"/>
<circle cx="440.3" cy="834.9" r="3.4" fill="#1018c4" fill-opacity="0.95" filter="url(#soft2)"/>
</g>
<g clip-path="url(#cp20)">
<rect x="429.30" y="854.00" width="62.00" height="61.60" fill="#000" />
<circle cx="454.9" cy="880.8" r="3.8" fill="#fa1010" fill-opacity="0.15" filter="url(#soft2)"/>
<circle cx="466.6" cy="875.0" r="3.3" fill="#fa1010" fill-opacity="0.15" filter="url(#soft2)"/>
<circle cx="472.4" cy="881.7" r="3.5" fill="#fa1010" fill-opacity="0.15" filter="url(#soft2)"/>
<circle cx="440.3" cy="898.3" r="3.4" fill="#fa1010" fill-opacity="0.1" filter="url(#soft2)"/>
</g>
<g clip-path="url(#cp21)">
<rect x="429.30" y="917.90" width="62.00" height="61.60" fill="#000" />
<circle cx="454.9" cy="944.7" r="3.8" fill="#2a18c0" fill-opacity="0.95" filter="url(#soft2)"/>
<circle cx="466.6" cy="938.9" r="3.3" fill="#2a18c0" fill-opacity="0.95" filter="url(#soft2)"/>
<circle cx="472.4" cy="945.6" r="3.5" fill="#2a18c0" fill-opacity="0.95" filter="url(#soft2)"/>
<circle cx="440.3" cy="962.2" r="3.4" fill="#2a18c0" fill-opacity="0.95" filter="url(#soft2)"/>
</g>
<g clip-path="url(#cp22)">
<rect x="493.60" y="790.60" width="62.00" height="61.60" fill="#000" />
<circle cx="514.2" cy="821.8" r="3.4" fill="#1018c4" fill-opacity="0.95" filter="url(#soft2)"/>
<circle cx="535.2" cy="814.5" r="3.3" fill="#1018c4" fill-opacity="0.95" filter="url(#soft2)"/>
<circle cx="553.3" cy="828.2" r="3.4" fill="#1018c4" fill-opacity="0.95" filter="url(#soft2)"/>
</g>
<g clip-path="url(#cp23)">
<rect x="493.60" y="854.00" width="62.00" height="61.60" fill="#000" />
<circle cx="514.2" cy="885.2" r="3.4" fill="#fa1010" fill-opacity="0.12" filter="url(#soft2)"/>
<circle cx="535.2" cy="877.9" r="3.3" fill="#fa1010" fill-opacity="0.12" filter="url(#soft2)"/>
<circle cx="553.3" cy="891.6" r="3.4" fill="#fa1010" fill-opacity="0.08" filter="url(#soft2)"/>
</g>
<g clip-path="url(#cp24)">
<rect x="493.60" y="917.90" width="62.00" height="61.60" fill="#000" />
<circle cx="514.2" cy="949.1" r="3.4" fill="#2a18c0" fill-opacity="0.95" filter="url(#soft2)"/>
<circle cx="535.2" cy="941.8" r="3.3" fill="#2a18c0" fill-opacity="0.95" filter="url(#soft2)"/>
<circle cx="553.3" cy="955.5" r="3.4" fill="#2a18c0" fill-opacity="0.95" filter="url(#soft2)"/>
</g>
<g clip-path="url(#cp25)">
<rect x="558.00" y="790.60" width="62.00" height="61.60" fill="#000" />
<circle cx="600.7" cy="800.8" r="4.6" fill="#1018c4" fill-opacity="0.95" filter="url(#soft2)"/>
<circle cx="578.1" cy="822.3" r="4.4" fill="#1018c4" fill-opacity="0.95" filter="url(#soft2)"/>
<circle cx="573.3" cy="837.6" r="4.4" fill="#1018c4" fill-opacity="0.95" filter="url(#soft2)"/>
<circle cx="588.6" cy="837.2" r="4.6" fill="#1018c4" fill-opacity="0.95" filter="url(#soft2)"/>
</g>
<g clip-path="url(#cp26)">
<rect x="558.00" y="854.00" width="62.00" height="61.60" fill="#000" />
<circle cx="600.7" cy="864.2" r="4.6" fill="#fa1010" fill-opacity="1.0" filter="url(#soft2)"/>
<path d="M600.9 862.0h0M598.1 861.5h0M603.4 863.9h0M602.0 864.1h0" stroke="#300010" stroke-opacity="0.7" stroke-width="1.00" stroke-linecap="round" fill="none"/>
<circle cx="578.1" cy="885.7" r="4.4" fill="#fa1010" fill-opacity="1.0" filter="url(#soft2)"/>
<path d="M576.9 884.3h0M575.9 887.6h0M576.9 884.5h0M580.4 885.3h0" stroke="#300010" stroke-opacity="0.7" stroke-width="1.00" stroke-linecap="round" fill="none"/>
<circle cx="573.3" cy="901.0" r="4.4" fill="#fa1010" fill-opacity="1.0" filter="url(#soft2)"/>
<path d="M570.9 899.4h0M574.4 899.1h0M575.2 899.8h0M570.7 900.7h0" stroke="#300010" stroke-opacity="0.7" stroke-width="1.00" stroke-linecap="round" fill="none"/>
<circle cx="588.6" cy="900.6" r="4.6" fill="#fa1010" fill-opacity="0.7" filter="url(#soft2)"/>
<path d="M590.7 898.6h0M586.2 903.2h0M586.6 903.3h0M588.4 899.0h0" stroke="#300010" stroke-opacity="0.7" stroke-width="1.00" stroke-linecap="round" fill="none"/>
</g>
<g clip-path="url(#cp27)">
<rect x="558.00" y="917.90" width="62.00" height="61.60" fill="#000" />
<circle cx="600.7" cy="928.1" r="4.6" fill="#e01c8c" fill-opacity="0.95" filter="url(#soft2)"/>
<path d="M600.9 925.9h0M598.1 925.4h0M603.4 927.8h0M602.0 928.0h0" stroke="#3010a0" stroke-opacity="0.7" stroke-width="1.00" stroke-linecap="round" fill="none"/>
<circle cx="578.1" cy="949.6" r="4.4" fill="#e01c8c" fill-opacity="0.95" filter="url(#soft2)"/>
<path d="M576.9 948.2h0M575.9 951.5h0M576.9 948.4h0M580.4 949.2h0" stroke="#3010a0" stroke-opacity="0.7" stroke-width="1.00" stroke-linecap="round" fill="none"/>
<circle cx="573.3" cy="964.9" r="4.4" fill="#e01c8c" fill-opacity="0.95" filter="url(#soft2)"/>
<path d="M570.9 963.3h0M574.4 963.0h0M575.2 963.7h0M570.7 964.6h0" stroke="#3010a0" stroke-opacity="0.7" stroke-width="1.00" stroke-linecap="round" fill="none"/>
<circle cx="588.6" cy="964.5" r="4.6" fill="#e01c8c" fill-opacity="0.95" filter="url(#soft2)"/>
<path d="M590.7 962.5h0M586.2 967.1h0M586.6 967.2h0M588.4 962.9h0" stroke="#3010a0" stroke-opacity="0.7" stroke-width="1.00" stroke-linecap="round" fill="none"/>
</g>
<g clip-path="url(#cp28)">
<rect x="622.10" y="790.60" width="62.00" height="61.60" fill="#000" />
<circle cx="647.8" cy="813.5" r="3.8" fill="#1018c4" fill-opacity="0.95" filter="url(#soft2)"/>
<circle cx="655.4" cy="816.8" r="3.6" fill="#1018c4" fill-opacity="0.95" filter="url(#soft2)"/>
<circle cx="650.0" cy="827.3" r="3.2" fill="#1018c4" fill-opacity="0.95" filter="url(#soft2)"/>
</g>
<g clip-path="url(#cp29)">
<rect x="622.10" y="854.00" width="62.00" height="61.60" fill="#000" />
<circle cx="647.8" cy="876.9" r="3.8" fill="#fa1010" fill-opacity="0.12" filter="url(#soft2)"/>
<circle cx="655.4" cy="880.2" r="3.6" fill="#fa1010" fill-opacity="0.12" filter="url(#soft2)"/>
<circle cx="650.0" cy="890.7" r="3.2" fill="#fa1010" fill-opacity="0.1" filter="url(#soft2)"/>
</g>
<g clip-path="url(#cp30)">
<rect x="622.10" y="917.90" width="62.00" height="61.60" fill="#000" />
<circle cx="647.8" cy="940.8" r="3.8" fill="#2a18c0" fill-opacity="0.95" filter="url(#soft2)"/>
<circle cx="655.4" cy="944.1" r="3.6" fill="#2a18c0" fill-opacity="0.95" filter="url(#soft2)"/>
<circle cx="650.0" cy="954.6" r="3.2" fill="#2a18c0" fill-opacity="0.95" filter="url(#soft2)"/>
</g>
<text x="408.20" y="845.20" font-size="8.6" text-anchor="middle" fill="#fff" >20μm</text>
<line x1="396.80" y1="846.90" x2="419.60" y2="846.90" stroke="#fff" stroke-width="0.8" />
</svg>
</body></html>
